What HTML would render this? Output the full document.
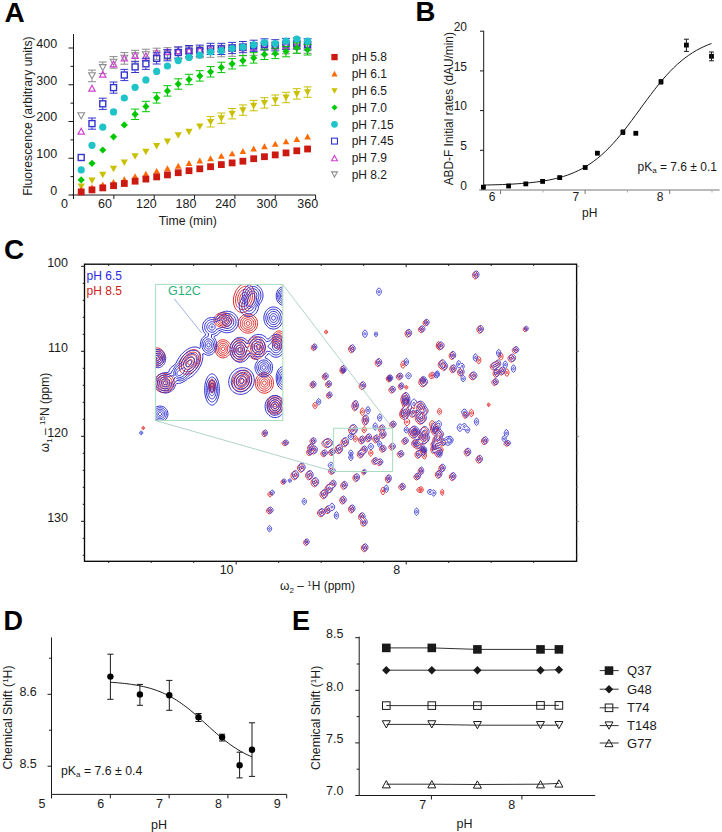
<!DOCTYPE html>
<html><head><meta charset="utf-8"><style>
html,body{margin:0;padding:0;background:#fff;}
body{width:722px;height:832px;overflow:hidden;}
svg{display:block;font-family:"Liberation Sans", sans-serif;}
</style></head><body>
<svg width="722" height="832" viewBox="0 0 722 832">
<text x="4.6" y="22.3" font-size="28" text-anchor="start" fill="#000" font-weight="bold">A</text>
<line x1="73.5" y1="34" x2="73.5" y2="199" stroke="#1a1a1a" stroke-width="1"/>
<line x1="72.5" y1="195" x2="315.7" y2="195" stroke="#1a1a1a" stroke-width="1"/>
<line x1="68.5" y1="195" x2="73.5" y2="195" stroke="#1a1a1a" stroke-width="1"/>
<text x="57.2" y="194.8" font-size="12.5" text-anchor="end" fill="#1a1a1a">0</text>
<line x1="70.5" y1="176.63" x2="73.5" y2="176.63" stroke="#1a1a1a" stroke-width="1"/>
<line x1="68.5" y1="158.25" x2="73.5" y2="158.25" stroke="#1a1a1a" stroke-width="1"/>
<text x="57.2" y="158.05" font-size="12.5" text-anchor="end" fill="#1a1a1a">100</text>
<line x1="70.5" y1="139.88" x2="73.5" y2="139.88" stroke="#1a1a1a" stroke-width="1"/>
<line x1="68.5" y1="121.5" x2="73.5" y2="121.5" stroke="#1a1a1a" stroke-width="1"/>
<text x="57.2" y="121.3" font-size="12.5" text-anchor="end" fill="#1a1a1a">200</text>
<line x1="70.5" y1="103.13" x2="73.5" y2="103.13" stroke="#1a1a1a" stroke-width="1"/>
<line x1="68.5" y1="84.75" x2="73.5" y2="84.75" stroke="#1a1a1a" stroke-width="1"/>
<text x="57.2" y="84.55" font-size="12.5" text-anchor="end" fill="#1a1a1a">300</text>
<line x1="70.5" y1="66.38" x2="73.5" y2="66.38" stroke="#1a1a1a" stroke-width="1"/>
<line x1="68.5" y1="48" x2="73.5" y2="48" stroke="#1a1a1a" stroke-width="1"/>
<text x="57.2" y="47.8" font-size="12.5" text-anchor="end" fill="#1a1a1a">400</text>
<text x="64.4" y="208" font-size="12.5" text-anchor="middle" fill="#1a1a1a">0</text>
<line x1="113.85" y1="195" x2="113.85" y2="199" stroke="#1a1a1a" stroke-width="1"/>
<text x="105" y="208" font-size="12.5" text-anchor="middle" fill="#1a1a1a">60</text>
<line x1="154.2" y1="195" x2="154.2" y2="199" stroke="#1a1a1a" stroke-width="1"/>
<text x="146.4" y="208" font-size="12.5" text-anchor="middle" fill="#1a1a1a">120</text>
<line x1="194.55" y1="195" x2="194.55" y2="199" stroke="#1a1a1a" stroke-width="1"/>
<text x="186" y="208" font-size="12.5" text-anchor="middle" fill="#1a1a1a">180</text>
<line x1="234.9" y1="195" x2="234.9" y2="199" stroke="#1a1a1a" stroke-width="1"/>
<text x="225.6" y="208" font-size="12.5" text-anchor="middle" fill="#1a1a1a">240</text>
<line x1="275.25" y1="195" x2="275.25" y2="199" stroke="#1a1a1a" stroke-width="1"/>
<text x="267" y="208" font-size="12.5" text-anchor="middle" fill="#1a1a1a">300</text>
<line x1="315.6" y1="195" x2="315.6" y2="199" stroke="#1a1a1a" stroke-width="1"/>
<text x="307.7" y="208" font-size="12.5" text-anchor="middle" fill="#1a1a1a">360</text>
<text x="187.8" y="224.6" font-size="12.3" text-anchor="middle" fill="#1a1a1a">Time (min)</text>
<text x="31.8" y="116" font-size="12.25" text-anchor="middle" fill="#1a1a1a" transform="rotate(-90 31.8 116)">Fluorescence (arbitrary units)</text>
<path d="M81.2 118.9L84.54 112.8L77.86 112.8Z" fill="none" stroke="#8c8c8c" stroke-width="1.1"/>
<line x1="91.98" y1="70.1" x2="91.98" y2="72.3" stroke="#8c8c8c" stroke-width="1"/>
<line x1="91.98" y1="79.5" x2="91.98" y2="81.7" stroke="#8c8c8c" stroke-width="1"/>
<line x1="87.98" y1="70.1" x2="95.98" y2="70.1" stroke="#8c8c8c" stroke-width="1"/>
<line x1="87.98" y1="81.7" x2="95.98" y2="81.7" stroke="#8c8c8c" stroke-width="1"/>
<path d="M91.98 78.8L95.32 72.7L88.64 72.7Z" fill="none" stroke="#8c8c8c" stroke-width="1.1"/>
<line x1="102.76" y1="62" x2="102.76" y2="64.2" stroke="#8c8c8c" stroke-width="1"/>
<line x1="102.76" y1="71.4" x2="102.76" y2="73.6" stroke="#8c8c8c" stroke-width="1"/>
<line x1="98.76" y1="62" x2="106.76" y2="62" stroke="#8c8c8c" stroke-width="1"/>
<line x1="98.76" y1="73.6" x2="106.76" y2="73.6" stroke="#8c8c8c" stroke-width="1"/>
<path d="M102.76 70.7L106.1 64.6L99.42 64.6Z" fill="none" stroke="#8c8c8c" stroke-width="1.1"/>
<line x1="113.54" y1="56.6" x2="113.54" y2="58.8" stroke="#8c8c8c" stroke-width="1"/>
<line x1="113.54" y1="66" x2="113.54" y2="68.2" stroke="#8c8c8c" stroke-width="1"/>
<line x1="109.54" y1="56.6" x2="117.54" y2="56.6" stroke="#8c8c8c" stroke-width="1"/>
<line x1="109.54" y1="68.2" x2="117.54" y2="68.2" stroke="#8c8c8c" stroke-width="1"/>
<path d="M113.54 65.3L116.88 59.2L110.2 59.2Z" fill="none" stroke="#8c8c8c" stroke-width="1.1"/>
<line x1="124.32" y1="52.6" x2="124.32" y2="54.8" stroke="#8c8c8c" stroke-width="1"/>
<line x1="124.32" y1="62" x2="124.32" y2="64.2" stroke="#8c8c8c" stroke-width="1"/>
<line x1="120.32" y1="52.6" x2="128.32" y2="52.6" stroke="#8c8c8c" stroke-width="1"/>
<line x1="120.32" y1="64.2" x2="128.32" y2="64.2" stroke="#8c8c8c" stroke-width="1"/>
<path d="M124.32 61.3L127.66 55.2L120.98 55.2Z" fill="none" stroke="#8c8c8c" stroke-width="1.1"/>
<line x1="135.1" y1="50.3" x2="135.1" y2="52.5" stroke="#8c8c8c" stroke-width="1"/>
<line x1="135.1" y1="59.7" x2="135.1" y2="61.9" stroke="#8c8c8c" stroke-width="1"/>
<line x1="131.1" y1="50.3" x2="139.1" y2="50.3" stroke="#8c8c8c" stroke-width="1"/>
<line x1="131.1" y1="61.9" x2="139.1" y2="61.9" stroke="#8c8c8c" stroke-width="1"/>
<path d="M135.1 59L138.44 52.9L131.76 52.9Z" fill="none" stroke="#8c8c8c" stroke-width="1.1"/>
<line x1="145.88" y1="49.2" x2="145.88" y2="51.4" stroke="#8c8c8c" stroke-width="1"/>
<line x1="145.88" y1="58.6" x2="145.88" y2="60.8" stroke="#8c8c8c" stroke-width="1"/>
<line x1="141.88" y1="49.2" x2="149.88" y2="49.2" stroke="#8c8c8c" stroke-width="1"/>
<line x1="141.88" y1="60.8" x2="149.88" y2="60.8" stroke="#8c8c8c" stroke-width="1"/>
<path d="M145.88 57.9L149.22 51.8L142.54 51.8Z" fill="none" stroke="#8c8c8c" stroke-width="1.1"/>
<line x1="156.66" y1="48.2" x2="156.66" y2="50.4" stroke="#8c8c8c" stroke-width="1"/>
<line x1="156.66" y1="57.6" x2="156.66" y2="59.8" stroke="#8c8c8c" stroke-width="1"/>
<line x1="152.66" y1="48.2" x2="160.66" y2="48.2" stroke="#8c8c8c" stroke-width="1"/>
<line x1="152.66" y1="59.8" x2="160.66" y2="59.8" stroke="#8c8c8c" stroke-width="1"/>
<path d="M156.66 56.9L160 50.8L153.32 50.8Z" fill="none" stroke="#8c8c8c" stroke-width="1.1"/>
<line x1="167.44" y1="47.7" x2="167.44" y2="49.9" stroke="#8c8c8c" stroke-width="1"/>
<line x1="167.44" y1="57.1" x2="167.44" y2="59.3" stroke="#8c8c8c" stroke-width="1"/>
<line x1="163.44" y1="47.7" x2="171.44" y2="47.7" stroke="#8c8c8c" stroke-width="1"/>
<line x1="163.44" y1="59.3" x2="171.44" y2="59.3" stroke="#8c8c8c" stroke-width="1"/>
<path d="M167.44 56.4L170.78 50.3L164.1 50.3Z" fill="none" stroke="#8c8c8c" stroke-width="1.1"/>
<line x1="178.22" y1="47.2" x2="178.22" y2="49.4" stroke="#8c8c8c" stroke-width="1"/>
<line x1="178.22" y1="56.6" x2="178.22" y2="58.8" stroke="#8c8c8c" stroke-width="1"/>
<line x1="174.22" y1="47.2" x2="182.22" y2="47.2" stroke="#8c8c8c" stroke-width="1"/>
<line x1="174.22" y1="58.8" x2="182.22" y2="58.8" stroke="#8c8c8c" stroke-width="1"/>
<path d="M178.22 55.9L181.56 49.8L174.88 49.8Z" fill="none" stroke="#8c8c8c" stroke-width="1.1"/>
<line x1="189" y1="46.7" x2="189" y2="48.9" stroke="#8c8c8c" stroke-width="1"/>
<line x1="189" y1="56.1" x2="189" y2="58.3" stroke="#8c8c8c" stroke-width="1"/>
<line x1="185" y1="46.7" x2="193" y2="46.7" stroke="#8c8c8c" stroke-width="1"/>
<line x1="185" y1="58.3" x2="193" y2="58.3" stroke="#8c8c8c" stroke-width="1"/>
<path d="M189 55.4L192.34 49.3L185.66 49.3Z" fill="none" stroke="#8c8c8c" stroke-width="1.1"/>
<line x1="199.78" y1="46.2" x2="199.78" y2="48.4" stroke="#8c8c8c" stroke-width="1"/>
<line x1="199.78" y1="55.6" x2="199.78" y2="57.8" stroke="#8c8c8c" stroke-width="1"/>
<line x1="195.78" y1="46.2" x2="203.78" y2="46.2" stroke="#8c8c8c" stroke-width="1"/>
<line x1="195.78" y1="57.8" x2="203.78" y2="57.8" stroke="#8c8c8c" stroke-width="1"/>
<path d="M199.78 54.9L203.12 48.8L196.44 48.8Z" fill="none" stroke="#8c8c8c" stroke-width="1.1"/>
<line x1="210.56" y1="45.7" x2="210.56" y2="47.9" stroke="#8c8c8c" stroke-width="1"/>
<line x1="210.56" y1="55.1" x2="210.56" y2="57.3" stroke="#8c8c8c" stroke-width="1"/>
<line x1="206.56" y1="45.7" x2="214.56" y2="45.7" stroke="#8c8c8c" stroke-width="1"/>
<line x1="206.56" y1="57.3" x2="214.56" y2="57.3" stroke="#8c8c8c" stroke-width="1"/>
<path d="M210.56 54.4L213.9 48.3L207.22 48.3Z" fill="none" stroke="#8c8c8c" stroke-width="1.1"/>
<line x1="221.34" y1="45.2" x2="221.34" y2="47.4" stroke="#8c8c8c" stroke-width="1"/>
<line x1="221.34" y1="54.6" x2="221.34" y2="56.8" stroke="#8c8c8c" stroke-width="1"/>
<line x1="217.34" y1="45.2" x2="225.34" y2="45.2" stroke="#8c8c8c" stroke-width="1"/>
<line x1="217.34" y1="56.8" x2="225.34" y2="56.8" stroke="#8c8c8c" stroke-width="1"/>
<path d="M221.34 53.9L224.68 47.8L218 47.8Z" fill="none" stroke="#8c8c8c" stroke-width="1.1"/>
<line x1="232.12" y1="44.7" x2="232.12" y2="46.9" stroke="#8c8c8c" stroke-width="1"/>
<line x1="232.12" y1="54.1" x2="232.12" y2="56.3" stroke="#8c8c8c" stroke-width="1"/>
<line x1="228.12" y1="44.7" x2="236.12" y2="44.7" stroke="#8c8c8c" stroke-width="1"/>
<line x1="228.12" y1="56.3" x2="236.12" y2="56.3" stroke="#8c8c8c" stroke-width="1"/>
<path d="M232.12 53.4L235.46 47.3L228.78 47.3Z" fill="none" stroke="#8c8c8c" stroke-width="1.1"/>
<line x1="242.9" y1="44.2" x2="242.9" y2="46.4" stroke="#8c8c8c" stroke-width="1"/>
<line x1="242.9" y1="53.6" x2="242.9" y2="55.8" stroke="#8c8c8c" stroke-width="1"/>
<line x1="238.9" y1="44.2" x2="246.9" y2="44.2" stroke="#8c8c8c" stroke-width="1"/>
<line x1="238.9" y1="55.8" x2="246.9" y2="55.8" stroke="#8c8c8c" stroke-width="1"/>
<path d="M242.9 52.9L246.24 46.8L239.56 46.8Z" fill="none" stroke="#8c8c8c" stroke-width="1.1"/>
<line x1="253.68" y1="43.7" x2="253.68" y2="45.9" stroke="#8c8c8c" stroke-width="1"/>
<line x1="253.68" y1="53.1" x2="253.68" y2="55.3" stroke="#8c8c8c" stroke-width="1"/>
<line x1="249.68" y1="43.7" x2="257.68" y2="43.7" stroke="#8c8c8c" stroke-width="1"/>
<line x1="249.68" y1="55.3" x2="257.68" y2="55.3" stroke="#8c8c8c" stroke-width="1"/>
<path d="M253.68 52.4L257.02 46.3L250.34 46.3Z" fill="none" stroke="#8c8c8c" stroke-width="1.1"/>
<line x1="264.46" y1="43.2" x2="264.46" y2="45.4" stroke="#8c8c8c" stroke-width="1"/>
<line x1="264.46" y1="52.6" x2="264.46" y2="54.8" stroke="#8c8c8c" stroke-width="1"/>
<line x1="260.46" y1="43.2" x2="268.46" y2="43.2" stroke="#8c8c8c" stroke-width="1"/>
<line x1="260.46" y1="54.8" x2="268.46" y2="54.8" stroke="#8c8c8c" stroke-width="1"/>
<path d="M264.46 51.9L267.8 45.8L261.12 45.8Z" fill="none" stroke="#8c8c8c" stroke-width="1.1"/>
<line x1="275.24" y1="42.7" x2="275.24" y2="44.9" stroke="#8c8c8c" stroke-width="1"/>
<line x1="275.24" y1="52.1" x2="275.24" y2="54.3" stroke="#8c8c8c" stroke-width="1"/>
<line x1="271.24" y1="42.7" x2="279.24" y2="42.7" stroke="#8c8c8c" stroke-width="1"/>
<line x1="271.24" y1="54.3" x2="279.24" y2="54.3" stroke="#8c8c8c" stroke-width="1"/>
<path d="M275.24 51.4L278.58 45.3L271.9 45.3Z" fill="none" stroke="#8c8c8c" stroke-width="1.1"/>
<line x1="286.02" y1="42.2" x2="286.02" y2="44.4" stroke="#8c8c8c" stroke-width="1"/>
<line x1="286.02" y1="51.6" x2="286.02" y2="53.8" stroke="#8c8c8c" stroke-width="1"/>
<line x1="282.02" y1="42.2" x2="290.02" y2="42.2" stroke="#8c8c8c" stroke-width="1"/>
<line x1="282.02" y1="53.8" x2="290.02" y2="53.8" stroke="#8c8c8c" stroke-width="1"/>
<path d="M286.02 50.9L289.36 44.8L282.68 44.8Z" fill="none" stroke="#8c8c8c" stroke-width="1.1"/>
<line x1="296.8" y1="41.7" x2="296.8" y2="43.9" stroke="#8c8c8c" stroke-width="1"/>
<line x1="296.8" y1="51.1" x2="296.8" y2="53.3" stroke="#8c8c8c" stroke-width="1"/>
<line x1="292.8" y1="41.7" x2="300.8" y2="41.7" stroke="#8c8c8c" stroke-width="1"/>
<line x1="292.8" y1="53.3" x2="300.8" y2="53.3" stroke="#8c8c8c" stroke-width="1"/>
<path d="M296.8 50.4L300.14 44.3L293.46 44.3Z" fill="none" stroke="#8c8c8c" stroke-width="1.1"/>
<line x1="307.58" y1="41.7" x2="307.58" y2="43.9" stroke="#8c8c8c" stroke-width="1"/>
<line x1="307.58" y1="51.1" x2="307.58" y2="53.3" stroke="#8c8c8c" stroke-width="1"/>
<line x1="303.58" y1="41.7" x2="311.58" y2="41.7" stroke="#8c8c8c" stroke-width="1"/>
<line x1="303.58" y1="53.3" x2="311.58" y2="53.3" stroke="#8c8c8c" stroke-width="1"/>
<path d="M307.58 50.4L310.92 44.3L304.24 44.3Z" fill="none" stroke="#8c8c8c" stroke-width="1.1"/>
<path d="M81.2 128.3L84.38 134.12L78.02 134.12Z" fill="none" stroke="#d040d0" stroke-width="1.2" stroke-linejoin="miter"/>
<path d="M91.98 85.3L95.16 91.12L88.8 91.12Z" fill="none" stroke="#d040d0" stroke-width="1.2" stroke-linejoin="miter"/>
<path d="M102.76 71.4L105.94 77.22L99.58 77.22Z" fill="none" stroke="#d040d0" stroke-width="1.2" stroke-linejoin="miter"/>
<path d="M113.54 61.1L116.72 66.92L110.36 66.92Z" fill="none" stroke="#d040d0" stroke-width="1.2" stroke-linejoin="miter"/>
<path d="M124.32 55.2L127.5 61.02L121.14 61.02Z" fill="none" stroke="#d040d0" stroke-width="1.2" stroke-linejoin="miter"/>
<path d="M135.1 52.5L138.28 58.32L131.92 58.32Z" fill="none" stroke="#d040d0" stroke-width="1.2" stroke-linejoin="miter"/>
<path d="M145.88 53L149.06 58.82L142.7 58.82Z" fill="none" stroke="#d040d0" stroke-width="1.2" stroke-linejoin="miter"/>
<path d="M156.66 49.8L159.84 55.62L153.48 55.62Z" fill="none" stroke="#d040d0" stroke-width="1.2" stroke-linejoin="miter"/>
<path d="M167.44 48.5L170.62 54.32L164.26 54.32Z" fill="none" stroke="#d040d0" stroke-width="1.2" stroke-linejoin="miter"/>
<path d="M178.22 47.8L181.4 53.62L175.04 53.62Z" fill="none" stroke="#d040d0" stroke-width="1.2" stroke-linejoin="miter"/>
<path d="M189 47.3L192.18 53.12L185.82 53.12Z" fill="none" stroke="#d040d0" stroke-width="1.2" stroke-linejoin="miter"/>
<path d="M199.78 46.8L202.96 52.62L196.6 52.62Z" fill="none" stroke="#d040d0" stroke-width="1.2" stroke-linejoin="miter"/>
<path d="M210.56 46.3L213.74 52.12L207.38 52.12Z" fill="none" stroke="#d040d0" stroke-width="1.2" stroke-linejoin="miter"/>
<path d="M221.34 45.8L224.52 51.62L218.16 51.62Z" fill="none" stroke="#d040d0" stroke-width="1.2" stroke-linejoin="miter"/>
<path d="M232.12 45.3L235.3 51.12L228.94 51.12Z" fill="none" stroke="#d040d0" stroke-width="1.2" stroke-linejoin="miter"/>
<path d="M242.9 44.8L246.08 50.62L239.72 50.62Z" fill="none" stroke="#d040d0" stroke-width="1.2" stroke-linejoin="miter"/>
<path d="M253.68 44.3L256.86 50.12L250.5 50.12Z" fill="none" stroke="#d040d0" stroke-width="1.2" stroke-linejoin="miter"/>
<path d="M264.46 43.8L267.64 49.62L261.28 49.62Z" fill="none" stroke="#d040d0" stroke-width="1.2" stroke-linejoin="miter"/>
<path d="M275.24 43.3L278.42 49.12L272.06 49.12Z" fill="none" stroke="#d040d0" stroke-width="1.2" stroke-linejoin="miter"/>
<path d="M286.02 42.8L289.2 48.62L282.84 48.62Z" fill="none" stroke="#d040d0" stroke-width="1.2" stroke-linejoin="miter"/>
<path d="M296.8 42.3L299.98 48.12L293.62 48.12Z" fill="none" stroke="#d040d0" stroke-width="1.2" stroke-linejoin="miter"/>
<path d="M307.58 42.3L310.76 48.12L304.4 48.12Z" fill="none" stroke="#d040d0" stroke-width="1.2" stroke-linejoin="miter"/>
<rect x="78.2" y="154.5" width="6" height="6" fill="none" stroke="#3434d0" stroke-width="1.4"/>
<line x1="91.98" y1="118" x2="91.98" y2="120" stroke="#3434d0" stroke-width="1"/>
<line x1="91.98" y1="127.2" x2="91.98" y2="129.2" stroke="#3434d0" stroke-width="1"/>
<line x1="87.98" y1="118" x2="95.98" y2="118" stroke="#3434d0" stroke-width="1"/>
<line x1="87.98" y1="129.2" x2="95.98" y2="129.2" stroke="#3434d0" stroke-width="1"/>
<rect x="88.98" y="120.6" width="6" height="6" fill="none" stroke="#3434d0" stroke-width="1.4"/>
<line x1="102.76" y1="98.2" x2="102.76" y2="100.2" stroke="#3434d0" stroke-width="1"/>
<line x1="102.76" y1="107.4" x2="102.76" y2="109.4" stroke="#3434d0" stroke-width="1"/>
<line x1="98.76" y1="98.2" x2="106.76" y2="98.2" stroke="#3434d0" stroke-width="1"/>
<line x1="98.76" y1="109.4" x2="106.76" y2="109.4" stroke="#3434d0" stroke-width="1"/>
<rect x="99.76" y="100.8" width="6" height="6" fill="none" stroke="#3434d0" stroke-width="1.4"/>
<line x1="113.54" y1="82" x2="113.54" y2="84" stroke="#3434d0" stroke-width="1"/>
<line x1="113.54" y1="91.2" x2="113.54" y2="93.2" stroke="#3434d0" stroke-width="1"/>
<line x1="109.54" y1="82" x2="117.54" y2="82" stroke="#3434d0" stroke-width="1"/>
<line x1="109.54" y1="93.2" x2="117.54" y2="93.2" stroke="#3434d0" stroke-width="1"/>
<rect x="110.54" y="84.6" width="6" height="6" fill="none" stroke="#3434d0" stroke-width="1.4"/>
<line x1="124.32" y1="69.4" x2="124.32" y2="71.4" stroke="#3434d0" stroke-width="1"/>
<line x1="124.32" y1="78.6" x2="124.32" y2="80.6" stroke="#3434d0" stroke-width="1"/>
<line x1="120.32" y1="69.4" x2="128.32" y2="69.4" stroke="#3434d0" stroke-width="1"/>
<line x1="120.32" y1="80.6" x2="128.32" y2="80.6" stroke="#3434d0" stroke-width="1"/>
<rect x="121.32" y="72" width="6" height="6" fill="none" stroke="#3434d0" stroke-width="1.4"/>
<line x1="135.1" y1="61.3" x2="135.1" y2="63.3" stroke="#3434d0" stroke-width="1"/>
<line x1="135.1" y1="70.5" x2="135.1" y2="72.5" stroke="#3434d0" stroke-width="1"/>
<line x1="131.1" y1="61.3" x2="139.1" y2="61.3" stroke="#3434d0" stroke-width="1"/>
<line x1="131.1" y1="72.5" x2="139.1" y2="72.5" stroke="#3434d0" stroke-width="1"/>
<rect x="132.1" y="63.9" width="6" height="6" fill="none" stroke="#3434d0" stroke-width="1.4"/>
<line x1="145.88" y1="58.2" x2="145.88" y2="60.2" stroke="#3434d0" stroke-width="1"/>
<line x1="145.88" y1="67.4" x2="145.88" y2="69.4" stroke="#3434d0" stroke-width="1"/>
<line x1="141.88" y1="58.2" x2="149.88" y2="58.2" stroke="#3434d0" stroke-width="1"/>
<line x1="141.88" y1="69.4" x2="149.88" y2="69.4" stroke="#3434d0" stroke-width="1"/>
<rect x="142.88" y="60.8" width="6" height="6" fill="none" stroke="#3434d0" stroke-width="1.4"/>
<line x1="156.66" y1="52.8" x2="156.66" y2="54.8" stroke="#3434d0" stroke-width="1"/>
<line x1="156.66" y1="62" x2="156.66" y2="64" stroke="#3434d0" stroke-width="1"/>
<line x1="152.66" y1="52.8" x2="160.66" y2="52.8" stroke="#3434d0" stroke-width="1"/>
<line x1="152.66" y1="64" x2="160.66" y2="64" stroke="#3434d0" stroke-width="1"/>
<rect x="153.66" y="55.4" width="6" height="6" fill="none" stroke="#3434d0" stroke-width="1.4"/>
<line x1="167.44" y1="49.6" x2="167.44" y2="51.6" stroke="#3434d0" stroke-width="1"/>
<line x1="167.44" y1="58.8" x2="167.44" y2="60.8" stroke="#3434d0" stroke-width="1"/>
<line x1="163.44" y1="49.6" x2="171.44" y2="49.6" stroke="#3434d0" stroke-width="1"/>
<line x1="163.44" y1="60.8" x2="171.44" y2="60.8" stroke="#3434d0" stroke-width="1"/>
<rect x="164.44" y="52.2" width="6" height="6" fill="none" stroke="#3434d0" stroke-width="1.4"/>
<line x1="178.22" y1="46.9" x2="178.22" y2="48.9" stroke="#3434d0" stroke-width="1"/>
<line x1="178.22" y1="56.1" x2="178.22" y2="58.1" stroke="#3434d0" stroke-width="1"/>
<line x1="174.22" y1="46.9" x2="182.22" y2="46.9" stroke="#3434d0" stroke-width="1"/>
<line x1="174.22" y1="58.1" x2="182.22" y2="58.1" stroke="#3434d0" stroke-width="1"/>
<rect x="175.22" y="49.5" width="6" height="6" fill="none" stroke="#3434d0" stroke-width="1.4"/>
<line x1="189" y1="45.5" x2="189" y2="47.5" stroke="#3434d0" stroke-width="1"/>
<line x1="189" y1="54.7" x2="189" y2="56.7" stroke="#3434d0" stroke-width="1"/>
<line x1="185" y1="45.5" x2="193" y2="45.5" stroke="#3434d0" stroke-width="1"/>
<line x1="185" y1="56.7" x2="193" y2="56.7" stroke="#3434d0" stroke-width="1"/>
<rect x="186" y="48.1" width="6" height="6" fill="none" stroke="#3434d0" stroke-width="1.4"/>
<line x1="199.78" y1="45.1" x2="199.78" y2="47.1" stroke="#3434d0" stroke-width="1"/>
<line x1="199.78" y1="54.3" x2="199.78" y2="56.3" stroke="#3434d0" stroke-width="1"/>
<line x1="195.78" y1="45.1" x2="203.78" y2="45.1" stroke="#3434d0" stroke-width="1"/>
<line x1="195.78" y1="56.3" x2="203.78" y2="56.3" stroke="#3434d0" stroke-width="1"/>
<rect x="196.78" y="47.7" width="6" height="6" fill="none" stroke="#3434d0" stroke-width="1.4"/>
<line x1="210.56" y1="43.3" x2="210.56" y2="45.3" stroke="#3434d0" stroke-width="1"/>
<line x1="210.56" y1="52.5" x2="210.56" y2="54.5" stroke="#3434d0" stroke-width="1"/>
<line x1="206.56" y1="43.3" x2="214.56" y2="43.3" stroke="#3434d0" stroke-width="1"/>
<line x1="206.56" y1="54.5" x2="214.56" y2="54.5" stroke="#3434d0" stroke-width="1"/>
<rect x="207.56" y="45.9" width="6" height="6" fill="none" stroke="#3434d0" stroke-width="1.4"/>
<line x1="221.34" y1="43.3" x2="221.34" y2="45.3" stroke="#3434d0" stroke-width="1"/>
<line x1="221.34" y1="52.5" x2="221.34" y2="54.5" stroke="#3434d0" stroke-width="1"/>
<line x1="217.34" y1="43.3" x2="225.34" y2="43.3" stroke="#3434d0" stroke-width="1"/>
<line x1="217.34" y1="54.5" x2="225.34" y2="54.5" stroke="#3434d0" stroke-width="1"/>
<rect x="218.34" y="45.9" width="6" height="6" fill="none" stroke="#3434d0" stroke-width="1.4"/>
<line x1="232.12" y1="42.4" x2="232.12" y2="44.4" stroke="#3434d0" stroke-width="1"/>
<line x1="232.12" y1="51.6" x2="232.12" y2="53.6" stroke="#3434d0" stroke-width="1"/>
<line x1="228.12" y1="42.4" x2="236.12" y2="42.4" stroke="#3434d0" stroke-width="1"/>
<line x1="228.12" y1="53.6" x2="236.12" y2="53.6" stroke="#3434d0" stroke-width="1"/>
<rect x="229.12" y="45" width="6" height="6" fill="none" stroke="#3434d0" stroke-width="1.4"/>
<line x1="242.9" y1="41.5" x2="242.9" y2="43.5" stroke="#3434d0" stroke-width="1"/>
<line x1="242.9" y1="50.7" x2="242.9" y2="52.7" stroke="#3434d0" stroke-width="1"/>
<line x1="238.9" y1="41.5" x2="246.9" y2="41.5" stroke="#3434d0" stroke-width="1"/>
<line x1="238.9" y1="52.7" x2="246.9" y2="52.7" stroke="#3434d0" stroke-width="1"/>
<rect x="239.9" y="44.1" width="6" height="6" fill="none" stroke="#3434d0" stroke-width="1.4"/>
<line x1="253.68" y1="40.2" x2="253.68" y2="42.2" stroke="#3434d0" stroke-width="1"/>
<line x1="253.68" y1="49.4" x2="253.68" y2="51.4" stroke="#3434d0" stroke-width="1"/>
<line x1="249.68" y1="40.2" x2="257.68" y2="40.2" stroke="#3434d0" stroke-width="1"/>
<line x1="249.68" y1="51.4" x2="257.68" y2="51.4" stroke="#3434d0" stroke-width="1"/>
<rect x="250.68" y="42.8" width="6" height="6" fill="none" stroke="#3434d0" stroke-width="1.4"/>
<line x1="264.46" y1="38.8" x2="264.46" y2="40.8" stroke="#3434d0" stroke-width="1"/>
<line x1="264.46" y1="48" x2="264.46" y2="50" stroke="#3434d0" stroke-width="1"/>
<line x1="260.46" y1="38.8" x2="268.46" y2="38.8" stroke="#3434d0" stroke-width="1"/>
<line x1="260.46" y1="50" x2="268.46" y2="50" stroke="#3434d0" stroke-width="1"/>
<rect x="261.46" y="41.4" width="6" height="6" fill="none" stroke="#3434d0" stroke-width="1.4"/>
<line x1="275.24" y1="39.7" x2="275.24" y2="41.7" stroke="#3434d0" stroke-width="1"/>
<line x1="275.24" y1="48.9" x2="275.24" y2="50.9" stroke="#3434d0" stroke-width="1"/>
<line x1="271.24" y1="39.7" x2="279.24" y2="39.7" stroke="#3434d0" stroke-width="1"/>
<line x1="271.24" y1="50.9" x2="279.24" y2="50.9" stroke="#3434d0" stroke-width="1"/>
<rect x="272.24" y="42.3" width="6" height="6" fill="none" stroke="#3434d0" stroke-width="1.4"/>
<line x1="286.02" y1="38.4" x2="286.02" y2="40.4" stroke="#3434d0" stroke-width="1"/>
<line x1="286.02" y1="47.6" x2="286.02" y2="49.6" stroke="#3434d0" stroke-width="1"/>
<line x1="282.02" y1="38.4" x2="290.02" y2="38.4" stroke="#3434d0" stroke-width="1"/>
<line x1="282.02" y1="49.6" x2="290.02" y2="49.6" stroke="#3434d0" stroke-width="1"/>
<rect x="283.02" y="41" width="6" height="6" fill="none" stroke="#3434d0" stroke-width="1.4"/>
<line x1="296.8" y1="37.9" x2="296.8" y2="39.9" stroke="#3434d0" stroke-width="1"/>
<line x1="296.8" y1="47.1" x2="296.8" y2="49.1" stroke="#3434d0" stroke-width="1"/>
<line x1="292.8" y1="37.9" x2="300.8" y2="37.9" stroke="#3434d0" stroke-width="1"/>
<line x1="292.8" y1="49.1" x2="300.8" y2="49.1" stroke="#3434d0" stroke-width="1"/>
<rect x="293.8" y="40.5" width="6" height="6" fill="none" stroke="#3434d0" stroke-width="1.4"/>
<line x1="307.58" y1="38.8" x2="307.58" y2="40.8" stroke="#3434d0" stroke-width="1"/>
<line x1="307.58" y1="48" x2="307.58" y2="50" stroke="#3434d0" stroke-width="1"/>
<line x1="303.58" y1="38.8" x2="311.58" y2="38.8" stroke="#3434d0" stroke-width="1"/>
<line x1="303.58" y1="50" x2="311.58" y2="50" stroke="#3434d0" stroke-width="1"/>
<rect x="304.58" y="41.4" width="6" height="6" fill="none" stroke="#3434d0" stroke-width="1.4"/>
<path d="M81.2 176.3L84.8 179.9L81.2 183.5L77.6 179.9Z" fill="#00c800"/>
<path d="M91.98 159.7L95.58 163.3L91.98 166.9L88.38 163.3Z" fill="#00c800"/>
<path d="M102.76 146.4L106.36 150L102.76 153.6L99.16 150Z" fill="#00c800"/>
<path d="M113.54 133.2L117.14 136.8L113.54 140.4L109.94 136.8Z" fill="#00c800"/>
<path d="M124.32 121.3L127.92 124.9L124.32 128.5L120.72 124.9Z" fill="#00c800"/>
<line x1="135.1" y1="109.1" x2="135.1" y2="119.5" stroke="#00c800" stroke-width="1"/>
<line x1="131.1" y1="109.1" x2="139.1" y2="109.1" stroke="#00c800" stroke-width="1"/>
<line x1="131.1" y1="119.5" x2="139.1" y2="119.5" stroke="#00c800" stroke-width="1"/>
<path d="M135.1 110.7L138.7 114.3L135.1 117.9L131.5 114.3Z" fill="#00c800"/>
<line x1="145.88" y1="101.3" x2="145.88" y2="111.7" stroke="#00c800" stroke-width="1"/>
<line x1="141.88" y1="101.3" x2="149.88" y2="101.3" stroke="#00c800" stroke-width="1"/>
<line x1="141.88" y1="111.7" x2="149.88" y2="111.7" stroke="#00c800" stroke-width="1"/>
<path d="M145.88 102.9L149.48 106.5L145.88 110.1L142.28 106.5Z" fill="#00c800"/>
<line x1="156.66" y1="92.7" x2="156.66" y2="103.1" stroke="#00c800" stroke-width="1"/>
<line x1="152.66" y1="92.7" x2="160.66" y2="92.7" stroke="#00c800" stroke-width="1"/>
<line x1="152.66" y1="103.1" x2="160.66" y2="103.1" stroke="#00c800" stroke-width="1"/>
<path d="M156.66 94.3L160.26 97.9L156.66 101.5L153.06 97.9Z" fill="#00c800"/>
<line x1="167.44" y1="85.7" x2="167.44" y2="96.1" stroke="#00c800" stroke-width="1"/>
<line x1="163.44" y1="85.7" x2="171.44" y2="85.7" stroke="#00c800" stroke-width="1"/>
<line x1="163.44" y1="96.1" x2="171.44" y2="96.1" stroke="#00c800" stroke-width="1"/>
<path d="M167.44 87.3L171.04 90.9L167.44 94.5L163.84 90.9Z" fill="#00c800"/>
<line x1="178.22" y1="78.8" x2="178.22" y2="89.2" stroke="#00c800" stroke-width="1"/>
<line x1="174.22" y1="78.8" x2="182.22" y2="78.8" stroke="#00c800" stroke-width="1"/>
<line x1="174.22" y1="89.2" x2="182.22" y2="89.2" stroke="#00c800" stroke-width="1"/>
<path d="M178.22 80.4L181.82 84L178.22 87.6L174.62 84Z" fill="#00c800"/>
<line x1="189" y1="74.3" x2="189" y2="84.7" stroke="#00c800" stroke-width="1"/>
<line x1="185" y1="74.3" x2="193" y2="74.3" stroke="#00c800" stroke-width="1"/>
<line x1="185" y1="84.7" x2="193" y2="84.7" stroke="#00c800" stroke-width="1"/>
<path d="M189 75.9L192.6 79.5L189 83.1L185.4 79.5Z" fill="#00c800"/>
<line x1="199.78" y1="70.7" x2="199.78" y2="81.1" stroke="#00c800" stroke-width="1"/>
<line x1="195.78" y1="70.7" x2="203.78" y2="70.7" stroke="#00c800" stroke-width="1"/>
<line x1="195.78" y1="81.1" x2="203.78" y2="81.1" stroke="#00c800" stroke-width="1"/>
<path d="M199.78 72.3L203.38 75.9L199.78 79.5L196.18 75.9Z" fill="#00c800"/>
<line x1="210.56" y1="66.6" x2="210.56" y2="77" stroke="#00c800" stroke-width="1"/>
<line x1="206.56" y1="66.6" x2="214.56" y2="66.6" stroke="#00c800" stroke-width="1"/>
<line x1="206.56" y1="77" x2="214.56" y2="77" stroke="#00c800" stroke-width="1"/>
<path d="M210.56 68.2L214.16 71.8L210.56 75.4L206.96 71.8Z" fill="#00c800"/>
<line x1="221.34" y1="62.2" x2="221.34" y2="72.6" stroke="#00c800" stroke-width="1"/>
<line x1="217.34" y1="62.2" x2="225.34" y2="62.2" stroke="#00c800" stroke-width="1"/>
<line x1="217.34" y1="72.6" x2="225.34" y2="72.6" stroke="#00c800" stroke-width="1"/>
<path d="M221.34 63.8L224.94 67.4L221.34 71L217.74 67.4Z" fill="#00c800"/>
<line x1="232.12" y1="58.6" x2="232.12" y2="69" stroke="#00c800" stroke-width="1"/>
<line x1="228.12" y1="58.6" x2="236.12" y2="58.6" stroke="#00c800" stroke-width="1"/>
<line x1="228.12" y1="69" x2="236.12" y2="69" stroke="#00c800" stroke-width="1"/>
<path d="M232.12 60.2L235.72 63.8L232.12 67.4L228.52 63.8Z" fill="#00c800"/>
<line x1="242.9" y1="55.4" x2="242.9" y2="65.8" stroke="#00c800" stroke-width="1"/>
<line x1="238.9" y1="55.4" x2="246.9" y2="55.4" stroke="#00c800" stroke-width="1"/>
<line x1="238.9" y1="65.8" x2="246.9" y2="65.8" stroke="#00c800" stroke-width="1"/>
<path d="M242.9 57L246.5 60.6L242.9 64.2L239.3 60.6Z" fill="#00c800"/>
<line x1="253.68" y1="52.7" x2="253.68" y2="63.1" stroke="#00c800" stroke-width="1"/>
<line x1="249.68" y1="52.7" x2="257.68" y2="52.7" stroke="#00c800" stroke-width="1"/>
<line x1="249.68" y1="63.1" x2="257.68" y2="63.1" stroke="#00c800" stroke-width="1"/>
<path d="M253.68 54.3L257.28 57.9L253.68 61.5L250.08 57.9Z" fill="#00c800"/>
<line x1="264.46" y1="49.1" x2="264.46" y2="59.5" stroke="#00c800" stroke-width="1"/>
<line x1="260.46" y1="49.1" x2="268.46" y2="49.1" stroke="#00c800" stroke-width="1"/>
<line x1="260.46" y1="59.5" x2="268.46" y2="59.5" stroke="#00c800" stroke-width="1"/>
<path d="M264.46 50.7L268.06 54.3L264.46 57.9L260.86 54.3Z" fill="#00c800"/>
<line x1="275.24" y1="48.2" x2="275.24" y2="58.6" stroke="#00c800" stroke-width="1"/>
<line x1="271.24" y1="48.2" x2="279.24" y2="48.2" stroke="#00c800" stroke-width="1"/>
<line x1="271.24" y1="58.6" x2="279.24" y2="58.6" stroke="#00c800" stroke-width="1"/>
<path d="M275.24 49.8L278.84 53.4L275.24 57L271.64 53.4Z" fill="#00c800"/>
<line x1="286.02" y1="46.4" x2="286.02" y2="56.8" stroke="#00c800" stroke-width="1"/>
<line x1="282.02" y1="46.4" x2="290.02" y2="46.4" stroke="#00c800" stroke-width="1"/>
<line x1="282.02" y1="56.8" x2="290.02" y2="56.8" stroke="#00c800" stroke-width="1"/>
<path d="M286.02 48L289.62 51.6L286.02 55.2L282.42 51.6Z" fill="#00c800"/>
<line x1="296.8" y1="42.8" x2="296.8" y2="53.2" stroke="#00c800" stroke-width="1"/>
<line x1="292.8" y1="42.8" x2="300.8" y2="42.8" stroke="#00c800" stroke-width="1"/>
<line x1="292.8" y1="53.2" x2="300.8" y2="53.2" stroke="#00c800" stroke-width="1"/>
<path d="M296.8 44.4L300.4 48L296.8 51.6L293.2 48Z" fill="#00c800"/>
<line x1="307.58" y1="44.6" x2="307.58" y2="55" stroke="#00c800" stroke-width="1"/>
<line x1="303.58" y1="44.6" x2="311.58" y2="44.6" stroke="#00c800" stroke-width="1"/>
<line x1="303.58" y1="55" x2="311.58" y2="55" stroke="#00c800" stroke-width="1"/>
<path d="M307.58 46.2L311.18 49.8L307.58 53.4L303.98 49.8Z" fill="#00c800"/>
<circle cx="81.2" cy="169.9" r="3.6" fill="#1ec4c8"/>
<circle cx="91.98" cy="145.3" r="3.6" fill="#1ec4c8"/>
<circle cx="102.76" cy="127.2" r="3.6" fill="#1ec4c8"/>
<circle cx="113.54" cy="111.9" r="3.6" fill="#1ec4c8"/>
<circle cx="124.32" cy="98" r="3.6" fill="#1ec4c8"/>
<circle cx="135.1" cy="87.3" r="3.6" fill="#1ec4c8"/>
<circle cx="145.88" cy="79.9" r="3.6" fill="#1ec4c8"/>
<circle cx="156.66" cy="71.4" r="3.6" fill="#1ec4c8"/>
<circle cx="167.44" cy="66" r="3.6" fill="#1ec4c8"/>
<circle cx="178.22" cy="60.6" r="3.6" fill="#1ec4c8"/>
<circle cx="189" cy="57.4" r="3.6" fill="#1ec4c8"/>
<circle cx="199.78" cy="55.2" r="3.6" fill="#1ec4c8"/>
<circle cx="210.56" cy="52" r="3.6" fill="#1ec4c8"/>
<circle cx="221.34" cy="50.7" r="3.6" fill="#1ec4c8"/>
<circle cx="232.12" cy="48.5" r="3.6" fill="#1ec4c8"/>
<circle cx="242.9" cy="47.1" r="3.6" fill="#1ec4c8"/>
<circle cx="253.68" cy="44.8" r="3.6" fill="#1ec4c8"/>
<circle cx="264.46" cy="42.6" r="3.6" fill="#1ec4c8"/>
<circle cx="275.24" cy="43.5" r="3.6" fill="#1ec4c8"/>
<circle cx="286.02" cy="41.2" r="3.6" fill="#1ec4c8"/>
<circle cx="296.8" cy="39" r="3.6" fill="#1ec4c8"/>
<circle cx="307.58" cy="41.2" r="3.6" fill="#1ec4c8"/>
<path d="M81.2 190.1L84.8 183.62L77.6 183.62Z" fill="#c8c000"/>
<path d="M91.98 184L95.58 177.52L88.38 177.52Z" fill="#c8c000"/>
<path d="M102.76 178.2L106.36 171.72L99.16 171.72Z" fill="#c8c000"/>
<path d="M113.54 172.2L117.14 165.72L109.94 165.72Z" fill="#c8c000"/>
<path d="M124.32 166L127.92 159.52L120.72 159.52Z" fill="#c8c000"/>
<path d="M135.1 159.7L138.7 153.22L131.5 153.22Z" fill="#c8c000"/>
<path d="M145.88 155.2L149.48 148.72L142.28 148.72Z" fill="#c8c000"/>
<path d="M156.66 149.4L160.26 142.92L153.06 142.92Z" fill="#c8c000"/>
<path d="M167.44 144.9L171.04 138.42L163.84 138.42Z" fill="#c8c000"/>
<path d="M178.22 138.8L181.82 132.32L174.62 132.32Z" fill="#c8c000"/>
<path d="M189 135.3L192.6 128.82L185.4 128.82Z" fill="#c8c000"/>
<path d="M199.78 129.9L203.38 123.42L196.18 123.42Z" fill="#c8c000"/>
<line x1="210.56" y1="116.6" x2="210.56" y2="127" stroke="#c8c000" stroke-width="1"/>
<line x1="206.56" y1="116.6" x2="214.56" y2="116.6" stroke="#c8c000" stroke-width="1"/>
<line x1="206.56" y1="127" x2="214.56" y2="127" stroke="#c8c000" stroke-width="1"/>
<path d="M210.56 125.4L214.16 118.92L206.96 118.92Z" fill="#c8c000"/>
<line x1="221.34" y1="113" x2="221.34" y2="123.4" stroke="#c8c000" stroke-width="1"/>
<line x1="217.34" y1="113" x2="225.34" y2="113" stroke="#c8c000" stroke-width="1"/>
<line x1="217.34" y1="123.4" x2="225.34" y2="123.4" stroke="#c8c000" stroke-width="1"/>
<path d="M221.34 121.8L224.94 115.32L217.74 115.32Z" fill="#c8c000"/>
<line x1="232.12" y1="108.5" x2="232.12" y2="118.9" stroke="#c8c000" stroke-width="1"/>
<line x1="228.12" y1="108.5" x2="236.12" y2="108.5" stroke="#c8c000" stroke-width="1"/>
<line x1="228.12" y1="118.9" x2="236.12" y2="118.9" stroke="#c8c000" stroke-width="1"/>
<path d="M232.12 117.3L235.72 110.82L228.52 110.82Z" fill="#c8c000"/>
<line x1="242.9" y1="104.9" x2="242.9" y2="115.3" stroke="#c8c000" stroke-width="1"/>
<line x1="238.9" y1="104.9" x2="246.9" y2="104.9" stroke="#c8c000" stroke-width="1"/>
<line x1="238.9" y1="115.3" x2="246.9" y2="115.3" stroke="#c8c000" stroke-width="1"/>
<path d="M242.9 113.7L246.5 107.22L239.3 107.22Z" fill="#c8c000"/>
<line x1="253.68" y1="100.4" x2="253.68" y2="110.8" stroke="#c8c000" stroke-width="1"/>
<line x1="249.68" y1="100.4" x2="257.68" y2="100.4" stroke="#c8c000" stroke-width="1"/>
<line x1="249.68" y1="110.8" x2="257.68" y2="110.8" stroke="#c8c000" stroke-width="1"/>
<path d="M253.68 109.2L257.28 102.72L250.08 102.72Z" fill="#c8c000"/>
<line x1="264.46" y1="97.7" x2="264.46" y2="108.1" stroke="#c8c000" stroke-width="1"/>
<line x1="260.46" y1="97.7" x2="268.46" y2="97.7" stroke="#c8c000" stroke-width="1"/>
<line x1="260.46" y1="108.1" x2="268.46" y2="108.1" stroke="#c8c000" stroke-width="1"/>
<path d="M264.46 106.5L268.06 100.02L260.86 100.02Z" fill="#c8c000"/>
<line x1="275.24" y1="95" x2="275.24" y2="105.4" stroke="#c8c000" stroke-width="1"/>
<line x1="271.24" y1="95" x2="279.24" y2="95" stroke="#c8c000" stroke-width="1"/>
<line x1="271.24" y1="105.4" x2="279.24" y2="105.4" stroke="#c8c000" stroke-width="1"/>
<path d="M275.24 103.8L278.84 97.32L271.64 97.32Z" fill="#c8c000"/>
<line x1="286.02" y1="92.3" x2="286.02" y2="102.7" stroke="#c8c000" stroke-width="1"/>
<line x1="282.02" y1="92.3" x2="290.02" y2="92.3" stroke="#c8c000" stroke-width="1"/>
<line x1="282.02" y1="102.7" x2="290.02" y2="102.7" stroke="#c8c000" stroke-width="1"/>
<path d="M286.02 101.1L289.62 94.62L282.42 94.62Z" fill="#c8c000"/>
<line x1="296.8" y1="88.7" x2="296.8" y2="99.1" stroke="#c8c000" stroke-width="1"/>
<line x1="292.8" y1="88.7" x2="300.8" y2="88.7" stroke="#c8c000" stroke-width="1"/>
<line x1="292.8" y1="99.1" x2="300.8" y2="99.1" stroke="#c8c000" stroke-width="1"/>
<path d="M296.8 97.5L300.4 91.02L293.2 91.02Z" fill="#c8c000"/>
<line x1="307.58" y1="86.9" x2="307.58" y2="97.3" stroke="#c8c000" stroke-width="1"/>
<line x1="303.58" y1="86.9" x2="311.58" y2="86.9" stroke="#c8c000" stroke-width="1"/>
<line x1="303.58" y1="97.3" x2="311.58" y2="97.3" stroke="#c8c000" stroke-width="1"/>
<path d="M307.58 95.7L311.18 89.22L303.98 89.22Z" fill="#c8c000"/>
<path d="M81.2 186.2L84.5 192.14L77.9 192.14Z" fill="#ff6a00"/>
<path d="M91.98 184.2L95.28 190.14L88.68 190.14Z" fill="#ff6a00"/>
<path d="M102.76 181.6L106.06 187.54L99.46 187.54Z" fill="#ff6a00"/>
<path d="M113.54 179.1L116.84 185.04L110.24 185.04Z" fill="#ff6a00"/>
<path d="M124.32 176.3L127.62 182.24L121.02 182.24Z" fill="#ff6a00"/>
<path d="M135.1 173.3L138.4 179.24L131.8 179.24Z" fill="#ff6a00"/>
<path d="M145.88 170.8L149.18 176.74L142.58 176.74Z" fill="#ff6a00"/>
<path d="M156.66 167.9L159.96 173.84L153.36 173.84Z" fill="#ff6a00"/>
<path d="M167.44 165.3L170.74 171.24L164.14 171.24Z" fill="#ff6a00"/>
<path d="M178.22 162.8L181.52 168.74L174.92 168.74Z" fill="#ff6a00"/>
<path d="M189 160L192.3 165.94L185.7 165.94Z" fill="#ff6a00"/>
<path d="M199.78 157.6L203.08 163.54L196.48 163.54Z" fill="#ff6a00"/>
<path d="M210.56 155.2L213.86 161.14L207.26 161.14Z" fill="#ff6a00"/>
<path d="M221.34 152.8L224.64 158.74L218.04 158.74Z" fill="#ff6a00"/>
<path d="M232.12 150.4L235.42 156.34L228.82 156.34Z" fill="#ff6a00"/>
<path d="M242.9 148L246.2 153.94L239.6 153.94Z" fill="#ff6a00"/>
<path d="M253.68 145.6L256.98 151.54L250.38 151.54Z" fill="#ff6a00"/>
<path d="M264.46 143.2L267.76 149.14L261.16 149.14Z" fill="#ff6a00"/>
<path d="M275.24 140.8L278.54 146.74L271.94 146.74Z" fill="#ff6a00"/>
<path d="M286.02 138.4L289.32 144.34L282.72 144.34Z" fill="#ff6a00"/>
<path d="M296.8 136L300.1 141.94L293.5 141.94Z" fill="#ff6a00"/>
<path d="M307.58 133.6L310.88 139.54L304.28 139.54Z" fill="#ff6a00"/>
<rect x="77.8" y="188.5" width="6.8" height="6.8" fill="#cc1a12"/>
<rect x="88.58" y="186.5" width="6.8" height="6.8" fill="#cc1a12"/>
<rect x="99.36" y="184.5" width="6.8" height="6.8" fill="#cc1a12"/>
<rect x="110.14" y="182.3" width="6.8" height="6.8" fill="#cc1a12"/>
<rect x="120.92" y="180.1" width="6.8" height="6.8" fill="#cc1a12"/>
<rect x="131.7" y="177.8" width="6.8" height="6.8" fill="#cc1a12"/>
<rect x="142.48" y="175.7" width="6.8" height="6.8" fill="#cc1a12"/>
<rect x="153.26" y="173.5" width="6.8" height="6.8" fill="#cc1a12"/>
<rect x="164.04" y="171.5" width="6.8" height="6.8" fill="#cc1a12"/>
<rect x="174.82" y="169.3" width="6.8" height="6.8" fill="#cc1a12"/>
<rect x="185.6" y="167.3" width="6.8" height="6.8" fill="#cc1a12"/>
<rect x="196.38" y="165.4" width="6.8" height="6.8" fill="#cc1a12"/>
<rect x="207.16" y="163.3" width="6.8" height="6.8" fill="#cc1a12"/>
<rect x="217.94" y="161.2" width="6.8" height="6.8" fill="#cc1a12"/>
<rect x="228.72" y="159.5" width="6.8" height="6.8" fill="#cc1a12"/>
<rect x="239.5" y="157.8" width="6.8" height="6.8" fill="#cc1a12"/>
<rect x="250.28" y="155.3" width="6.8" height="6.8" fill="#cc1a12"/>
<rect x="261.06" y="153.3" width="6.8" height="6.8" fill="#cc1a12"/>
<rect x="271.84" y="151.5" width="6.8" height="6.8" fill="#cc1a12"/>
<rect x="282.62" y="149.5" width="6.8" height="6.8" fill="#cc1a12"/>
<rect x="293.4" y="147.4" width="6.8" height="6.8" fill="#cc1a12"/>
<rect x="304.18" y="145.6" width="6.8" height="6.8" fill="#cc1a12"/>
<rect x="331.35" y="53.95" width="6.3" height="6.3" fill="#cc1a12"/>
<text x="351.7" y="61.4" font-size="12" text-anchor="start" fill="#1a1a1a">pH 5.8</text>
<path d="M334.5 70.8L337.6 76.38L331.4 76.38Z" fill="#ff6a00"/>
<text x="351.7" y="78.2" font-size="12" text-anchor="start" fill="#1a1a1a">pH 6.1</text>
<path d="M334.5 93.8L337.6 88.22L331.4 88.22Z" fill="#c8c000"/>
<text x="351.7" y="95" font-size="12" text-anchor="start" fill="#1a1a1a">pH 6.5</text>
<path d="M334.5 104.5L337.5 107.5L334.5 110.5L331.5 107.5Z" fill="#00c800"/>
<text x="351.7" y="111.8" font-size="12" text-anchor="start" fill="#1a1a1a">pH 7.0</text>
<circle cx="334.5" cy="124.3" r="3.35" fill="#1ec4c8"/>
<text x="351.7" y="128.6" font-size="12" text-anchor="start" fill="#1a1a1a">pH 7.15</text>
<rect x="331.55" y="138.15" width="5.9" height="5.9" fill="none" stroke="#3434d0" stroke-width="1.1"/>
<text x="351.7" y="145.4" font-size="12" text-anchor="start" fill="#1a1a1a">pH 7.45</text>
<path d="M334.5 155.4L337.44 160.78L331.56 160.78Z" fill="none" stroke="#d040d0" stroke-width="1.1" stroke-linejoin="miter"/>
<text x="351.7" y="162.2" font-size="12" text-anchor="start" fill="#1a1a1a">pH 7.9</text>
<path d="M334.5 177.1L337.34 171.9L331.66 171.9Z" fill="none" stroke="#8c8c8c" stroke-width="1.1"/>
<text x="351.7" y="179" font-size="12" text-anchor="start" fill="#1a1a1a">pH 8.2</text>
<text x="415.5" y="20.8" font-size="27.5" text-anchor="start" fill="#000" font-weight="bold">B</text>
<line x1="483.7" y1="30.8" x2="483.7" y2="190" stroke="#1a1a1a" stroke-width="1"/>
<line x1="479.1" y1="190" x2="719.6" y2="190" stroke="#777" stroke-width="1"/>
<text x="467" y="189.7" font-size="12" text-anchor="end" fill="#1a1a1a">0</text>
<line x1="480" y1="150.3" x2="483.7" y2="150.3" stroke="#1a1a1a" stroke-width="1"/>
<text x="467" y="150" font-size="12" text-anchor="end" fill="#1a1a1a">5</text>
<line x1="480" y1="110.6" x2="483.7" y2="110.6" stroke="#1a1a1a" stroke-width="1"/>
<text x="467" y="110.3" font-size="12" text-anchor="end" fill="#1a1a1a">10</text>
<line x1="480" y1="70.9" x2="483.7" y2="70.9" stroke="#1a1a1a" stroke-width="1"/>
<text x="467" y="70.6" font-size="12" text-anchor="end" fill="#1a1a1a">15</text>
<line x1="480" y1="31.2" x2="483.7" y2="31.2" stroke="#1a1a1a" stroke-width="1"/>
<text x="467" y="30.9" font-size="12" text-anchor="end" fill="#1a1a1a">20</text>
<line x1="543" y1="190" x2="543" y2="192.5" stroke="#aaa" stroke-width="1"/>
<line x1="627.4" y1="190" x2="627.4" y2="192.5" stroke="#aaa" stroke-width="1"/>
<line x1="712" y1="190" x2="712" y2="192.5" stroke="#aaa" stroke-width="1"/>
<line x1="500.5" y1="190" x2="500.5" y2="194" stroke="#777" stroke-width="1"/>
<text x="492" y="201.3" font-size="12" text-anchor="middle" fill="#1a1a1a">6</text>
<line x1="585.1" y1="190" x2="585.1" y2="194" stroke="#777" stroke-width="1"/>
<text x="575.8" y="201.3" font-size="12" text-anchor="middle" fill="#1a1a1a">7</text>
<line x1="669.7" y1="190" x2="669.7" y2="194" stroke="#777" stroke-width="1"/>
<text x="660.2" y="201.3" font-size="12" text-anchor="middle" fill="#1a1a1a">8</text>
<text x="589.7" y="217" font-size="12" text-anchor="middle" fill="#1a1a1a">pH</text>
<text x="453.3" y="108.7" font-size="11.9" text-anchor="middle" fill="#1a1a1a" transform="rotate(-90 453.3 108.7)">ABD-F Initial rates (dAU/min)</text>
<path d="M483.7 185.06L487.5 184.98L491.29 184.89L495.09 184.78L498.89 184.66L502.68 184.52L506.48 184.36L510.28 184.18L514.07 183.97L517.87 183.74L521.67 183.47L525.46 183.16L529.26 182.81L533.06 182.41L536.85 181.95L540.65 181.43L544.45 180.83L548.24 180.16L552.04 179.4L555.84 178.53L559.63 177.55L563.43 176.44L567.23 175.19L571.02 173.79L574.82 172.21L578.62 170.44L582.41 168.48L586.21 166.29L590.01 163.87L593.8 161.2L597.6 158.27L601.4 155.07L605.19 151.6L608.99 147.85L612.79 143.84L616.58 139.58L620.38 135.07L624.18 130.35L627.97 125.45L631.77 120.41L635.57 115.26L639.36 110.06L643.16 104.84L646.96 99.67L650.75 94.58L654.55 89.62L658.35 84.83L662.14 80.24L665.94 75.88L669.74 71.77L673.53 67.93L677.33 64.35L681.13 61.05L684.92 58.02L688.72 55.26L692.52 52.74L696.31 50.47L700.11 48.42L703.91 46.58L707.7 44.94L711.5 43.47" stroke="#1a1a1a" stroke-width="1" fill="none"/>
<rect x="481" y="184.8" width="4.8" height="4.8" fill="#000"/>
<rect x="506.2" y="183.6" width="4.8" height="4.8" fill="#000"/>
<rect x="523.4" y="181.5" width="4.8" height="4.8" fill="#000"/>
<rect x="540.2" y="179" width="4.8" height="4.8" fill="#000"/>
<rect x="557.3" y="175.2" width="4.8" height="4.8" fill="#000"/>
<rect x="582.8" y="165.1" width="4.8" height="4.8" fill="#000"/>
<rect x="595" y="150.8" width="4.8" height="4.8" fill="#000"/>
<rect x="620.5" y="129.8" width="4.8" height="4.8" fill="#000"/>
<rect x="633.4" y="130.9" width="4.8" height="4.8" fill="#000"/>
<rect x="658.6" y="79.4" width="4.8" height="4.8" fill="#000"/>
<rect x="684" y="42.7" width="4.8" height="4.8" fill="#000"/>
<rect x="709.1" y="53.9" width="4.8" height="4.8" fill="#000"/>
<line x1="686.4" y1="39.2" x2="686.4" y2="51.4" stroke="#1a1a1a" stroke-width="1"/>
<line x1="683.9" y1="39.2" x2="688.9" y2="39.2" stroke="#1a1a1a" stroke-width="1"/>
<line x1="683.9" y1="51.4" x2="688.9" y2="51.4" stroke="#1a1a1a" stroke-width="1"/>
<line x1="711.5" y1="52" x2="711.5" y2="60.8" stroke="#1a1a1a" stroke-width="1"/>
<line x1="709" y1="52" x2="714" y2="52" stroke="#1a1a1a" stroke-width="1"/>
<line x1="709" y1="60.8" x2="714" y2="60.8" stroke="#1a1a1a" stroke-width="1"/>
<line x1="661" y1="79.5" x2="661" y2="84" stroke="#1a1a1a" stroke-width="1"/>
<line x1="659" y1="79.5" x2="663" y2="79.5" stroke="#1a1a1a" stroke-width="1"/>
<line x1="659" y1="84" x2="663" y2="84" stroke="#1a1a1a" stroke-width="1"/>
<line x1="622.9" y1="130" x2="622.9" y2="134.5" stroke="#1a1a1a" stroke-width="1"/>
<line x1="620.9" y1="130" x2="624.9" y2="130" stroke="#1a1a1a" stroke-width="1"/>
<line x1="620.9" y1="134.5" x2="624.9" y2="134.5" stroke="#1a1a1a" stroke-width="1"/>
<text x="637.5" y="170.6" font-size="12" text-anchor="start" fill="#1a1a1a">pK<tspan font-size="8" dy="2.5">a</tspan><tspan dy="-2.5"> = 7.6 ± 0.1</tspan></text>
<text x="4" y="258.6" font-size="28" text-anchor="start" fill="#000" font-weight="bold">C</text>
<path d="M475.2 279.0L474.5 278.8L473.5 277.9L472.8 276.7L472.4 275.4L472.6 274.2L473.2 273.0L474.0 272.2L475.0 271.6L475.8 271.8L476.8 272.8L477.5 273.9L477.8 275.2L477.6 276.2L477.0 277.5L476.2 278.4L475.2 279.0Z M425.8 326.0L425.5 326.1L425.0 325.9L424.0 325.1L423.3 323.9L423.1 322.9L423.3 321.9L424.0 320.9L424.8 320.2L425.5 319.9L426.2 320.2L427.0 320.9L427.7 321.9L427.9 322.9L427.8 323.8L427.2 324.8L426.5 325.6L425.8 326.0Z M480.0 333.3L479.5 333.4L479.2 333.4L478.8 333.1L478.0 332.4L477.2 331.2L476.8 329.7L477.1 328.4L477.8 327.3L478.5 326.4L479.5 326.0L480.5 326.4L481.2 327.3L481.9 328.4L482.2 329.7L482.0 330.7L481.5 331.7L480.8 332.7L480.0 333.3Z M421.5 332.6L420.8 332.7L419.6 331.9L418.8 330.9L418.3 329.7L418.5 328.7L419.2 327.7L420.0 326.9L421.0 326.5L421.8 326.8L422.8 327.6L423.3 328.4L423.7 329.4L423.6 330.2L423.1 331.2L422.2 332.1L421.5 332.6Z M525.2 331.7L524.8 331.7L524.0 331.1L523.4 330.2L523.2 329.4L523.3 328.7L523.8 327.9L524.3 327.2L525.0 326.8L525.5 327.0L526.2 327.6L526.8 328.4L527.0 329.2L526.9 329.9L526.5 330.7L525.8 331.4L525.2 331.7Z M408.0 337.2L407.8 337.3L407.2 337.2L406.2 336.4L405.5 335.2L405.0 333.7L405.3 332.4L405.9 331.2L406.8 330.3L407.2 330.0L407.8 329.9L408.5 330.2L409.5 331.2L410.0 332.2L410.4 333.4L410.2 334.4L409.7 335.7L408.8 336.7L408.0 337.2Z M326.5 333.7L326.0 333.8L325.5 333.6L324.8 332.9L324.5 332.2L324.5 331.7L324.9 330.9L325.5 330.4L326.0 330.2L326.5 330.3L327.1 330.7L327.5 331.3L327.7 331.9L327.4 332.9L326.5 333.7Z M439.8 350.0L438.8 349.7L437.5 348.8L436.6 347.4L436.2 346.2L436.3 344.9L436.7 343.4L437.5 342.2L438.2 341.6L438.8 341.7L439.3 342.2L441.3 343.4L442.2 344.6L442.8 345.9L442.8 346.4L442.6 347.2L441.9 348.4L440.9 349.4L439.8 350.0Z M314.0 350.5L313.5 350.7L313.2 350.6L312.5 350.1L311.7 348.9L311.3 347.7L311.5 346.7L312.0 345.7L312.8 344.9L313.5 344.5L314.2 344.9L314.8 345.4L315.4 346.4L315.7 347.4L315.6 348.2L315.2 349.2L314.6 349.9L314.0 350.5Z M351.5 352.7L351.2 352.8L350.8 352.7L349.8 351.9L349.0 350.7L348.5 349.2L348.8 347.9L349.4 346.7L350.2 345.8L350.8 345.5L351.2 345.4L352.0 345.7L353.0 346.7L353.5 347.7L353.9 348.9L353.7 349.9L353.2 351.2L352.3 352.2L351.5 352.7Z M515.5 353.2L514.8 353.4L514.2 353.2L513.5 352.7L512.7 351.7L512.2 350.4L512.4 349.4L513.0 348.5L513.8 347.7L514.8 347.2L515.5 347.4L516.5 348.1L517.3 349.2L517.6 350.2L517.5 350.9L516.9 351.9L516.2 352.7L515.5 353.2Z M452.0 359.5L451.2 359.3L450.2 358.5L449.5 357.2L449.1 355.9L449.3 354.7L450.0 353.5L451.0 352.4L451.8 352.1L452.5 352.4L453.5 353.3L454.2 354.4L454.5 355.7L454.3 356.7L453.7 357.9L452.9 358.9L452.0 359.5Z M501.2 360.1L501.0 360.2L500.5 360.1L499.8 359.3L499.0 357.9L498.7 356.4L499.0 355.2L499.6 353.9L500.2 353.1L500.8 352.8L501.0 352.8L501.8 353.3L502.4 354.2L502.9 355.4L503.1 356.4L502.9 357.4L502.5 358.5L501.9 359.4L501.2 360.1Z M511.2 362.2L510.2 361.9L509.1 360.9L508.3 359.7L507.9 358.4L508.3 357.2L509.2 355.9L510.2 355.1L511.2 354.8L512.2 355.2L513.2 356.0L514.1 357.2L514.5 358.4L514.1 359.7L513.3 360.9L512.2 361.8L511.2 362.2Z M479.0 363.8L478.8 363.9L478.2 363.7L477.5 362.9L476.9 361.7L476.5 360.2L476.8 358.9L477.4 357.7L478.0 356.9L478.8 356.5L479.5 357.0L480.2 357.9L480.7 359.2L480.9 360.2L480.7 361.2L480.2 362.3L479.7 363.2L479.0 363.8Z M378.2 366.5L377.8 366.6L377.5 366.5L377.0 366.3L376.4 365.7L375.5 364.4L375.1 362.9L375.4 361.7L376.0 360.6L376.8 359.7L377.8 359.2L378.5 359.5L379.5 360.4L380.1 361.4L380.5 362.7L380.4 363.7L379.8 364.9L379.0 365.9L378.2 366.5Z M444.0 370.5L443.5 370.6L443.0 370.4L442.0 369.4L440.0 368.3L438.9 366.9L438.3 365.4L438.1 364.7L438.2 364.2L438.9 362.4L440.0 361.1L440.8 360.6L441.2 360.4L441.8 360.4L442.2 360.7L443.2 361.6L445.5 364.7L446.2 366.2L446.3 367.2L445.8 368.7L445.0 369.7L444.0 370.5Z M493.5 370.2L493.0 370.1L492.2 369.8L491.5 369.1L490.9 368.4L490.2 366.9L490.1 366.4L490.3 365.7L491.0 364.4L492.0 363.4L493.2 362.8L494.2 362.9L494.6 362.7L495.0 361.9L495.8 361.1L496.5 360.7L497.0 360.6L498.0 361.3L499.0 362.7L499.5 364.2L499.2 365.4L498.6 366.7L497.8 367.6L497.0 368.0L496.5 368.0L496.0 368.2L495.5 368.9L494.8 369.6L493.5 370.2Z M403.2 368.2L403.0 368.3L402.5 368.1L401.8 367.3L401.1 365.9L400.8 364.7L401.0 363.4L401.6 362.2L402.2 361.3L403.0 360.9L403.8 361.3L404.4 362.2L404.9 363.2L405.2 364.4L405.0 365.4L404.6 366.7L404.0 367.6L403.2 368.2Z M452.8 372.7L452.5 372.8L452.0 372.7L451.0 371.9L450.2 370.7L449.7 369.2L449.9 368.2L450.5 366.9L451.3 365.9L452.2 365.4L453.0 365.6L454.0 366.5L454.7 367.7L455.1 368.9L454.9 369.9L454.4 371.2L453.5 372.2L452.8 372.7Z M342.5 373.8L341.8 373.6L340.6 372.4L340.1 371.4L340.0 369.7L340.3 368.4L341.0 367.2L341.8 366.4L342.5 366.1L343.2 366.5L344.0 367.4L344.5 368.4L344.8 369.7L344.6 371.4L344.2 372.2L343.4 373.2L342.5 373.8Z M501.5 375.0L501.2 375.1L500.8 375.0L499.8 374.2L498.9 372.9L498.5 371.4L498.8 370.2L499.5 368.9L500.5 368.0L501.2 367.7L502.2 368.2L503.0 369.1L503.6 370.2L503.9 371.4L503.7 372.4L503.0 373.7L502.2 374.6L501.5 375.0Z M460.2 376.2L459.5 375.9L458.5 374.9L457.8 373.7L457.5 372.4L457.8 371.2L458.5 370.0L459.5 369.1L460.2 368.8L461.1 369.2L462.0 370.2L462.6 371.2L462.9 372.4L462.6 373.7L462.0 374.8L461.2 375.7L460.2 376.2Z M507.0 376.3L506.8 376.3L506.2 376.0L505.6 375.2L505.0 373.9L504.7 372.7L504.9 371.4L505.5 370.2L506.2 369.2L506.8 368.9L507.0 368.9L507.8 369.4L508.4 370.4L508.9 371.7L509.1 372.7L508.8 373.9L508.3 374.9L507.8 375.8L507.0 376.3Z M496.0 377.2L495.8 377.3L495.2 377.2L494.2 376.4L493.5 375.2L493.0 373.7L493.3 372.4L493.9 371.2L494.8 370.3L495.2 370.0L495.8 369.9L496.5 370.2L497.5 371.2L498.0 372.2L498.4 373.4L498.2 374.4L497.7 375.7L496.8 376.7L496.0 377.2Z M431.2 378.8L431.0 378.8L430.5 378.5L429.5 377.4L429.0 376.2L429.0 375.2L429.5 373.9L430.5 372.9L431.0 372.6L431.8 372.7L432.5 372.2L433.0 372.1L433.8 372.6L434.5 373.5L435.0 374.7L435.0 375.7L434.5 376.9L433.8 377.8L433.0 378.3L432.5 378.2L432.0 378.3L431.2 378.8Z M473.0 379.8L472.5 379.9L472.0 379.8L470.8 379.1L469.6 377.7L469.3 376.9L469.1 376.2L469.5 374.9L470.2 373.8L471.2 372.9L472.2 372.5L473.2 372.8L474.4 373.7L475.3 374.9L475.7 376.2L475.4 377.2L474.8 378.3L474.0 379.1L473.0 379.8Z M325.0 379.8L324.5 379.9L324.2 379.8L323.4 379.2L322.6 378.2L322.2 376.9L322.4 375.9L322.9 374.9L323.8 374.1L324.5 373.7L325.2 373.9L326.1 374.7L326.7 375.7L327.0 376.7L326.9 377.4L326.4 378.4L325.8 379.3L325.0 379.8Z M399.5 379.7L398.8 379.9L398.2 379.7L397.5 379.2L396.7 378.2L396.2 376.9L396.4 375.9L397.0 375.0L397.8 374.2L398.8 373.7L399.5 373.9L400.5 374.6L401.3 375.7L401.6 376.7L401.5 377.4L400.9 378.4L400.2 379.2L399.5 379.7Z M389.0 382.0L388.2 381.8L387.3 380.9L386.6 379.9L386.2 378.7L386.4 377.7L387.0 376.7L388.0 375.8L388.8 375.5L389.2 375.5L390.5 376.4L391.2 377.4L391.6 378.4L391.4 379.4L390.6 380.7L389.8 381.6L389.0 382.0Z M423.0 386.7L422.5 386.8L422.0 386.7L421.2 386.4L420.5 385.8L419.3 384.2L418.7 382.7L418.8 381.9L419.2 380.8L419.4 379.9L420.1 378.7L421.0 377.7L421.8 377.2L422.2 377.1L422.8 377.3L423.4 377.7L424.6 378.9L425.9 381.2L426.3 382.4L426.0 383.7L425.2 385.0L424.2 386.0L423.0 386.7Z M494.8 385.5L494.0 385.4L493.0 384.7L492.2 383.7L491.8 382.4L492.1 381.4L492.7 380.4L493.5 379.7L494.5 379.3L495.5 379.7L496.3 380.4L496.9 381.4L497.2 382.4L497.0 383.2L496.4 384.2L495.7 384.9L494.8 385.5Z M328.2 387.5L328.0 387.6L327.5 387.5L326.7 386.9L325.9 385.9L325.5 384.7L325.6 383.7L326.2 382.7L327.0 381.8L327.8 381.4L328.5 381.6L329.4 382.4L330.1 383.4L330.3 384.4L330.2 385.2L329.7 386.2L329.0 387.0L328.2 387.5Z M312.5 388.0L311.8 387.8L310.9 386.9L310.2 385.9L310.0 384.9L310.2 383.9L310.8 382.9L311.8 382.0L312.5 381.8L313.2 382.2L314.0 382.9L314.6 383.9L314.8 384.9L314.6 385.9L314.0 386.9L313.2 387.6L312.5 388.0Z M361.8 389.7L360.8 389.2L360.0 388.3L359.4 387.2L359.1 385.9L359.4 384.7L360.0 383.7L360.9 382.7L361.8 382.3L362.5 382.6L363.5 383.5L364.2 384.7L364.5 385.9L364.2 387.2L363.5 388.4L362.5 389.4L361.8 389.7Z M400.8 389.5L400.5 389.6L400.0 389.5L399.2 388.8L398.5 387.7L398.2 386.7L398.4 385.7L398.9 384.7L399.5 383.9L400.2 383.4L400.5 383.4L401.0 383.7L401.8 384.4L402.3 385.4L402.6 386.4L402.4 387.2L402.0 388.2L401.4 388.9L400.8 389.5Z M406.8 389.0L406.2 389.2L405.5 388.8L405.0 388.2L404.7 387.4L404.7 386.9L405.2 386.2L405.8 385.7L406.2 385.4L406.8 385.6L407.2 386.0L407.8 386.7L407.9 387.2L407.8 387.7L407.6 388.2L406.8 389.0Z M392.0 393.0L391.2 393.1L390.2 392.4L389.3 391.4L388.8 390.2L389.0 389.2L389.6 388.2L390.5 387.3L391.5 386.9L392.3 387.2L393.2 388.0L393.9 388.9L394.2 389.9L394.1 390.7L393.5 391.7L392.8 392.5L392.0 393.0Z M329.0 398.5L328.5 398.6L328.2 398.5L327.5 397.9L326.9 396.9L326.4 395.7L326.6 394.7L327.1 393.7L327.8 392.9L328.5 392.4L329.2 392.7L330.0 393.4L330.5 394.4L330.8 395.4L330.6 396.2L330.2 397.2L329.6 397.9L329.0 398.5Z M407.0 425.7L406.3 425.4L405.7 424.9L405.1 424.2L404.6 423.2L404.3 421.9L404.4 421.2L404.9 420.2L404.8 419.8L404.2 419.9L403.8 419.8L402.5 418.8L401.5 418.5L401.1 418.2L400.6 417.4L400.1 416.4L399.6 414.4L399.8 412.9L400.6 410.9L402.0 408.8L403.0 407.7L403.2 407.2L401.0 400.9L400.8 399.4L401.0 398.2L401.6 396.4L402.5 394.8L403.8 393.5L404.2 393.2L404.8 393.1L405.2 393.3L406.0 393.8L407.2 395.3L408.2 397.4L408.6 399.4L408.4 401.4L408.7 403.4L408.6 404.7L407.9 406.7L406.7 408.7L406.7 409.2L407.4 410.7L407.9 411.9L408.1 413.2L408.1 413.9L407.6 415.9L406.6 417.9L406.6 418.2L406.8 418.3L407.2 418.3L407.9 418.7L408.8 419.6L409.5 420.9L409.7 422.2L409.3 423.4L408.7 424.4L407.8 425.4L407.0 425.7Z M354.5 410.9L353.7 410.4L352.7 409.2L352.0 407.4L351.8 405.9L352.1 404.4L352.8 402.8L353.8 401.5L354.5 401.1L355.2 401.5L356.2 402.8L356.9 404.4L357.2 405.9L357.0 407.4L356.3 409.2L355.3 410.4L354.5 410.9Z M420.5 424.2L420.0 424.3L419.0 423.9L418.0 423.3L417.2 422.6L416.0 420.9L415.5 419.9L415.2 418.9L415.2 417.9L415.6 416.7L416.8 414.9L418.2 413.5L418.3 413.2L418.0 412.9L416.8 412.1L415.2 410.6L415.1 410.7L415.1 410.9L415.4 411.9L415.4 412.7L415.2 413.7L414.9 414.7L413.7 416.4L413.0 417.1L412.2 417.4L411.8 417.3L411.2 417.0L410.2 415.9L409.4 414.4L409.0 412.7L409.1 411.7L409.5 410.4L410.0 409.4L410.8 408.4L411.5 407.8L412.2 407.6L413.0 407.9L414.2 409.0L414.3 408.4L414.1 407.4L414.3 406.7L414.8 405.5L415.4 404.4L416.2 403.4L417.2 402.5L418.2 402.0L419.2 401.7L420.0 401.9L421.0 402.4L421.9 403.2L422.8 404.1L423.5 405.2L424.8 407.7L425.5 408.5L426.1 409.4L426.6 410.4L426.8 411.4L426.6 412.4L426.2 413.4L425.5 414.4L424.5 415.6L424.5 416.2L425.1 417.4L425.3 418.4L425.1 419.4L424.7 420.4L423.9 421.7L422.8 422.9L421.8 423.7L420.5 424.2Z M315.2 408.5L315.0 408.6L314.5 408.4L313.8 407.7L313.1 406.7L312.8 405.4L313.1 404.4L313.6 403.4L314.2 402.8L315.0 402.4L315.8 402.8L316.4 403.4L316.9 404.4L317.2 405.4L317.0 406.4L316.5 407.4L316.0 408.0L315.2 408.5Z M489.0 406.6L488.5 406.6L488.0 406.2L487.6 405.7L487.4 404.9L487.4 404.4L487.7 403.7L488.2 403.1L488.8 402.9L489.5 403.5L489.8 403.9L490.1 404.7L489.8 405.7L489.0 406.6Z M362.8 415.3L362.5 415.4L362.0 415.3L361.2 414.5L360.6 413.2L360.2 411.7L360.5 410.4L361.1 409.2L361.8 408.3L362.2 408.0L362.5 408.0L363.2 408.5L363.9 409.4L364.4 410.7L364.6 411.7L364.4 412.7L364.0 413.7L363.4 414.7L362.8 415.3Z M439.8 414.5L439.5 414.6L439.0 414.4L438.2 413.7L437.6 412.7L437.3 411.4L437.6 410.4L438.1 409.4L438.8 408.8L439.5 408.4L440.2 408.8L440.9 409.4L441.4 410.4L441.7 411.4L441.5 412.4L441.0 413.4L440.5 414.0L439.8 414.5Z M471.8 416.6L471.5 416.7L471.0 416.6L470.2 415.8L469.5 414.4L469.2 412.9L469.5 411.7L470.1 410.4L470.8 409.6L471.2 409.3L471.5 409.3L472.2 409.8L472.9 410.7L473.4 411.9L473.6 412.9L473.4 413.9L473.0 415.0L472.4 415.9L471.8 416.6Z M465.5 418.3L465.0 418.4L464.8 418.3L464.0 417.7L463.3 416.7L462.9 415.4L463.1 414.4L463.6 413.4L464.2 412.7L465.0 412.2L465.8 412.5L466.4 413.2L467.0 414.2L467.3 415.2L467.2 415.9L466.7 416.9L466.2 417.7L465.5 418.3Z M365.0 425.3L364.8 425.3L364.2 425.2L363.8 424.7L363.1 423.9L362.3 422.2L362.0 420.4L362.3 418.7L363.0 417.1L364.0 415.8L364.8 415.5L365.5 415.9L366.5 417.3L367.2 418.9L367.4 420.4L367.1 421.9L366.5 423.4L365.8 424.6L365.0 425.3Z M438.2 456.8L437.8 456.9L437.2 456.8L436.0 455.9L435.0 454.4L434.2 452.4L434.0 452.5L433.5 453.2L433.0 453.5L432.8 453.5L432.2 453.1L431.4 451.7L430.8 449.9L430.8 448.7L431.3 446.7L431.3 446.2L430.9 444.9L431.0 444.2L431.5 442.9L432.6 441.4L432.7 440.9L432.8 439.9L433.1 438.9L433.6 437.7L434.5 436.4L434.5 436.2L434.5 435.9L433.5 434.9L432.2 433.3L430.8 430.7L430.3 428.7L430.4 426.9L429.5 424.7L429.6 423.7L430.2 422.2L431.1 421.2L432.0 420.6L432.5 420.7L433.2 421.1L434.4 422.4L435.8 423.6L436.5 424.4L437.4 425.9L439.5 430.7L440.0 431.4L441.2 432.4L441.9 433.4L442.3 434.4L442.3 435.2L441.8 436.4L441.0 437.4L440.9 437.9L441.5 439.4L442.0 439.6L442.5 439.5L443.0 439.6L444.1 440.2L445.1 441.2L445.7 442.4L445.6 443.2L445.2 443.9L444.5 444.7L443.5 445.4L442.8 445.7L442.2 445.7L441.2 445.3L440.2 444.5L440.0 444.5L438.8 445.6L437.8 446.1L437.2 446.3L436.2 446.1L436.0 446.2L435.2 447.4L435.0 448.2L435.0 449.9L435.2 450.1L436.0 449.1L437.0 448.3L437.8 448.1L439.0 448.6L440.1 447.2L441.0 446.7L441.5 446.9L442.1 447.4L442.7 448.2L443.0 448.9L443.2 449.7L443.1 450.2L442.5 451.7L442.0 452.3L440.9 453.2L440.4 454.4L439.8 455.5L439.0 456.3L438.2 456.8Z M392.8 427.7L392.0 427.9L390.8 427.2L390.0 426.2L389.5 424.9L389.7 423.9L390.3 422.9L391.2 422.1L392.2 421.7L393.2 422.1L394.0 422.8L394.6 423.7L394.9 424.7L394.8 425.4L394.2 426.4L393.5 427.3L392.8 427.7Z M353.0 434.7L352.2 434.9L351.8 434.8L351.0 434.4L350.3 433.7L349.1 431.9L348.5 430.2L348.8 428.7L349.7 426.9L351.0 425.6L351.8 425.2L352.2 425.1L352.8 425.2L353.5 425.6L354.8 426.8L355.7 428.4L356.1 429.9L355.8 431.2L355.1 432.7L354.1 433.9L353.0 434.7Z M382.2 438.5L381.8 438.4L381.0 437.8L380.4 437.2L379.9 436.2L379.6 435.4L379.5 434.7L379.7 433.9L380.1 432.9L380.1 432.4L378.9 430.9L378.4 429.4L378.6 428.2L379.2 426.9L380.0 426.1L381.0 425.5L381.5 425.6L382.3 426.2L383.0 427.0L383.5 427.9L383.8 429.2L383.7 429.9L383.2 431.2L383.2 431.4L384.4 433.2L384.9 434.7L384.6 435.9L384.0 437.1L383.2 438.0L382.2 438.5Z M143.5 429.5L143.0 429.5L142.5 429.1L142.1 428.4L141.9 427.9L142.5 426.9L143.2 426.5L143.8 426.6L144.1 426.9L144.5 427.4L144.7 427.9L144.5 428.4L144.2 428.9L143.5 429.5Z M364.5 432.8L364.2 432.9L363.8 432.7L363.0 432.1L362.3 430.9L362.0 429.9L362.2 428.9L362.8 427.9L363.5 427.0L364.2 426.7L365.0 427.1L365.5 427.7L366.1 428.7L366.4 429.7L366.2 430.7L365.8 431.6L365.2 432.2L364.5 432.8Z M413.5 438.2L413.0 438.3L412.0 437.9L411.0 437.3L410.1 436.4L409.3 435.4L408.7 434.4L408.3 433.4L408.1 432.4L408.3 431.4L408.8 430.5L410.0 428.7L410.8 427.9L411.8 427.2L412.5 426.9L413.2 426.7L414.0 426.9L415.0 427.4L416.5 428.8L417.8 430.7L418.1 431.7L418.3 432.4L418.2 433.2L417.8 434.2L416.7 435.9L415.2 437.4L414.2 438.0L413.5 438.2Z M417.8 448.8L417.0 448.9L416.2 448.6L415.0 447.7L413.8 447.1L413.0 446.5L412.3 445.7L411.8 444.7L411.6 443.7L411.7 442.9L412.0 442.1L412.5 441.2L413.2 440.4L414.0 440.0L414.5 439.9L415.4 440.4L415.8 440.5L417.2 440.1L418.2 440.4L418.5 440.3L418.6 440.2L418.2 438.9L418.2 438.2L418.5 436.9L419.5 435.3L419.7 434.7L419.7 434.4L419.3 432.7L419.4 431.9L419.7 430.9L420.5 429.4L421.8 428.0L423.0 427.2L423.5 427.0L424.0 427.1L425.1 427.7L426.2 428.7L427.1 429.9L427.7 431.4L427.9 432.4L427.9 432.9L427.2 435.2L427.4 435.9L427.9 436.9L428.2 437.9L428.2 438.7L428.1 439.4L427.6 440.7L426.8 441.9L425.8 442.9L424.8 443.7L424.0 444.1L423.2 444.3L422.2 444.0L421.2 443.5L421.0 443.5L421.0 444.9L420.4 446.4L419.2 447.8L418.5 448.4L417.8 448.8Z M264.2 436.8L264.0 436.8L263.5 436.5L262.8 435.8L262.2 434.7L261.9 433.7L262.2 432.7L262.7 431.7L263.2 431.1L264.0 430.6L264.8 430.9L265.5 431.7L266.0 432.7L266.3 433.7L266.0 434.7L265.5 435.7L265.0 436.3L264.2 436.8Z M368.0 441.8L367.2 441.6L366.2 440.7L365.4 439.4L365.1 438.2L365.4 436.9L366.0 435.8L366.8 434.9L367.8 434.4L368.6 434.7L369.5 435.6L370.1 436.7L370.5 437.9L370.3 438.9L369.8 440.2L368.9 441.2L368.0 441.8Z M355.5 441.8L355.2 441.8L354.8 441.6L354.0 440.8L353.4 439.7L353.1 438.7L353.4 437.7L353.9 436.7L354.5 436.0L355.2 435.6L356.0 435.9L356.7 436.7L357.2 437.7L357.5 438.7L357.2 439.7L356.8 440.6L356.2 441.2L355.5 441.8Z M376.0 442.8L375.5 442.9L375.2 442.9L374.8 442.6L374.0 441.9L373.2 440.7L372.8 439.2L373.1 437.9L373.8 436.8L374.5 435.9L375.5 435.5L376.5 435.9L377.2 436.8L377.9 437.9L378.2 439.2L378.0 440.2L377.5 441.2L376.8 442.2L376.0 442.8Z M361.2 444.0L360.8 443.9L360.2 443.6L359.4 442.7L358.8 441.4L358.5 440.2L358.8 438.9L359.5 437.8L360.5 436.9L361.2 436.6L362.0 436.9L363.0 437.9L363.6 438.9L363.9 440.2L363.6 441.4L363.0 442.6L362.2 443.5L361.2 444.0Z M484.0 444.7L483.1 444.2L482.2 443.3L481.7 442.2L481.4 440.9L481.6 439.9L482.3 438.7L483.2 437.7L484.0 437.3L484.8 437.5L485.8 438.5L486.5 439.7L486.8 440.9L486.5 442.2L485.8 443.4L484.8 444.4L484.0 444.7Z M344.5 446.8L344.0 446.8L343.5 446.6L342.2 445.5L341.3 443.9L340.9 442.4L341.3 441.2L342.1 439.7L343.2 438.6L344.2 438.2L345.2 438.6L346.3 439.7L347.0 440.9L347.5 442.4L347.2 443.7L346.5 445.0L345.5 446.2L344.5 446.8Z M312.5 444.5L311.8 444.3L310.9 443.4L310.2 442.4L310.0 441.4L310.2 440.4L310.8 439.4L311.8 438.5L312.5 438.3L313.2 438.7L314.0 439.4L314.6 440.4L314.8 441.4L314.6 442.4L314.0 443.4L313.2 444.1L312.5 444.5Z M404.5 444.5L403.8 444.3L402.8 443.5L402.0 442.4L401.7 441.4L402.0 440.4L402.8 439.3L403.8 438.5L404.5 438.3L405.4 438.7L406.2 439.5L406.8 440.4L407.1 441.4L406.8 442.4L406.2 443.3L405.5 444.0L404.5 444.5Z M327.2 447.7L326.5 447.8L325.8 447.6L324.0 446.7L323.2 445.9L322.5 445.2L322.1 444.4L321.8 443.7L321.9 443.2L322.1 442.4L323.3 440.9L324.8 439.8L325.8 439.4L326.5 439.2L327.2 439.3L328.0 439.5L329.8 440.6L331.0 441.9L331.4 442.7L331.6 443.4L331.2 444.7L330.2 445.9L328.8 447.1L327.2 447.7Z M285.2 445.6L284.5 445.7L283.2 445.1L282.4 444.2L282.0 443.2L282.2 442.4L282.8 441.7L283.8 441.0L284.5 440.7L285.2 440.8L286.3 441.4L287.0 442.2L287.4 443.2L287.2 443.9L286.8 444.5L286.0 445.2L285.2 445.6Z M507.2 446.1L506.5 446.2L505.2 445.6L504.4 444.7L504.0 443.7L504.2 442.9L504.8 442.2L505.8 441.5L506.5 441.2L507.2 441.3L508.3 441.9L509.0 442.7L509.4 443.7L509.2 444.4L508.8 445.0L508.0 445.7L507.2 446.1Z M392.0 450.0L391.2 450.1L390.2 449.4L389.3 448.4L388.8 447.2L389.0 446.2L389.6 445.2L390.5 444.3L391.5 443.9L392.3 444.2L393.2 445.0L393.9 445.9L394.2 446.9L394.1 447.7L393.5 448.7L392.8 449.5L392.0 450.0Z M309.5 455.5L308.8 455.5L308.1 455.2L307.5 454.7L306.8 453.6L306.4 452.4L306.8 451.2L307.8 449.9L307.8 449.4L307.6 448.7L307.5 447.9L308.0 446.4L309.0 445.1L309.8 444.5L310.2 444.4L310.8 444.6L311.5 445.2L312.7 446.7L313.8 446.6L314.8 447.3L315.8 448.7L316.1 449.7L316.2 450.4L316.0 451.3L315.6 452.2L314.5 453.5L313.5 454.0L312.8 453.7L312.0 453.1L311.8 453.1L310.8 454.6L310.1 455.2L309.5 455.5Z M338.5 453.8L338.0 453.8L337.5 453.6L336.2 452.5L335.3 450.9L334.9 449.4L335.3 448.2L336.1 446.7L337.2 445.6L338.2 445.2L339.2 445.6L340.3 446.7L341.0 447.9L341.5 449.4L341.2 450.7L340.5 452.0L339.5 453.2L338.5 453.8Z M382.5 452.2L381.8 452.2L380.7 451.4L379.9 450.4L379.5 449.2L379.8 448.2L380.5 447.1L381.5 446.3L382.2 446.1L383.1 446.4L384.0 447.2L384.6 448.2L384.9 449.2L384.7 449.9L384.2 450.9L383.4 451.7L382.5 452.2Z M360.2 458.0L359.8 458.0L359.2 457.7L358.5 457.0L358.0 456.3L357.3 454.7L357.3 454.2L357.5 453.4L358.0 452.3L358.8 451.3L359.5 450.7L360.0 450.6L360.5 450.6L360.7 450.4L361.0 448.9L362.0 447.5L362.8 446.8L363.5 446.6L364.5 447.2L365.5 448.4L366.1 449.9L366.0 450.9L365.5 452.2L364.7 453.2L363.8 453.9L363.5 454.0L363.0 453.9L362.8 454.1L362.5 455.3L361.9 456.4L361.1 457.4L360.2 458.0Z M424.8 459.0L424.2 459.1L423.8 458.8L423.0 457.8L422.3 456.2L422.0 455.9L420.5 455.0L420.2 455.2L419.8 456.4L419.1 457.4L418.2 458.2L417.5 458.4L416.8 458.0L416.0 457.3L415.3 456.2L415.0 455.2L414.9 454.4L415.1 453.7L416.0 452.1L416.8 451.4L417.5 451.0L418.0 451.1L418.5 451.4L418.8 451.4L419.5 449.4L420.5 447.9L421.2 447.2L422.2 446.6L422.8 446.6L423.5 447.1L424.2 447.9L424.9 448.9L425.4 450.2L425.6 452.4L426.2 453.7L426.5 454.7L426.5 455.7L426.2 456.9L425.5 458.3L424.8 459.0Z M466.8 456.2L465.8 455.7L465.0 454.8L464.4 453.7L464.1 452.4L464.4 451.2L465.0 450.2L465.9 449.2L466.8 448.8L467.5 449.1L468.5 450.0L469.2 451.2L469.5 452.4L469.2 453.7L468.5 454.9L467.5 455.9L466.8 456.2Z M331.5 455.5L330.8 455.5L329.6 454.7L328.9 453.7L328.5 452.4L328.8 451.4L329.5 450.4L330.5 449.6L331.2 449.4L332.2 449.9L333.0 450.5L333.6 451.4L333.9 452.4L333.8 453.2L333.2 454.2L332.5 455.0L331.5 455.5Z M371.2 456.0L370.8 456.2L370.5 456.1L369.8 455.5L369.0 454.4L368.6 453.2L368.8 452.2L369.3 451.2L370.0 450.4L370.8 450.0L371.5 450.3L372.1 450.9L372.7 451.9L373.0 452.9L372.9 453.7L372.5 454.7L371.9 455.4L371.2 456.0Z M324.0 456.6L323.2 456.7L322.1 455.9L321.2 454.9L320.8 453.7L321.0 452.7L321.7 451.7L322.5 450.9L323.5 450.5L324.2 450.8L325.2 451.6L325.8 452.4L326.2 453.4L326.1 454.2L325.6 455.2L324.8 456.1L324.0 456.6Z M400.5 457.2L399.8 457.4L399.2 457.2L398.5 456.7L397.7 455.7L397.2 454.4L397.4 453.4L398.0 452.5L398.8 451.7L399.8 451.2L400.5 451.4L401.5 452.1L402.3 453.2L402.6 454.2L402.5 454.9L401.9 455.9L401.2 456.7L400.5 457.2Z M479.0 463.2L478.5 463.3L478.2 463.2L477.2 462.4L476.4 461.2L475.9 459.7L476.2 458.4L476.8 457.3L477.5 456.4L478.5 455.9L479.2 456.1L480.2 457.1L480.9 458.2L481.3 459.4L481.1 460.4L480.6 461.7L479.8 462.7L479.0 463.2Z M379.2 465.5L378.8 465.6L377.9 465.2L377.1 464.4L376.5 463.5L376.2 463.5L375.2 464.2L374.5 464.5L373.8 464.3L372.9 463.7L372.1 462.7L371.7 461.4L372.0 460.4L372.8 459.3L373.8 458.5L374.5 458.3L375.0 458.5L375.8 459.0L377.0 460.4L377.2 460.4L378.1 459.7L378.8 459.4L379.5 459.6L380.4 460.2L381.3 461.4L381.6 462.2L381.6 462.7L381.3 463.4L380.8 464.4L380.0 465.1L379.2 465.5Z M301.0 472.3L300.5 472.3L300.0 472.1L298.8 471.0L297.8 469.4L297.4 467.9L297.8 466.7L298.6 465.2L299.8 464.1L300.8 463.7L301.8 464.1L302.8 465.2L303.5 466.4L304.0 467.9L303.7 469.2L303.0 470.5L302.0 471.7L301.0 472.3Z M441.5 472.2L440.7 471.9L439.7 470.9L439.0 469.7L438.7 468.4L439.0 467.2L439.8 466.0L440.8 465.0L441.5 464.8L442.3 465.2L443.2 466.2L443.9 467.4L444.1 468.4L443.8 469.7L443.2 470.8L442.4 471.7L441.5 472.2Z M420.5 475.1L420.2 475.1L419.8 474.8L419.0 474.0L418.4 472.7L418.1 471.4L418.3 470.4L418.8 469.2L419.5 468.2L420.2 467.7L421.0 468.1L421.7 468.9L422.2 470.2L422.5 471.4L422.2 472.6L421.8 473.7L421.2 474.5L420.5 475.1Z M331.8 474.2L331.0 474.4L329.8 473.7L329.0 472.7L328.5 471.4L328.7 470.4L329.3 469.4L330.2 468.6L331.2 468.2L332.2 468.6L333.0 469.3L333.6 470.2L333.9 471.2L333.8 471.9L333.2 472.9L332.5 473.8L331.8 474.2Z M363.8 474.7L363.2 474.8L362.5 474.2L362.0 473.3L361.8 472.4L361.9 471.7L362.2 470.9L362.8 470.3L363.2 470.0L363.8 470.1L364.2 470.5L364.8 471.3L365.0 472.2L364.9 472.9L364.6 473.7L364.2 474.3L363.8 474.7Z M294.5 479.8L294.0 479.8L293.5 479.6L292.2 478.5L291.3 476.9L290.9 475.4L291.3 474.2L292.1 472.7L293.2 471.6L294.2 471.2L295.2 471.6L296.3 472.7L297.0 473.9L297.5 475.4L297.2 476.7L296.5 478.0L295.5 479.2L294.5 479.8Z M309.0 479.8L308.5 479.8L308.0 479.6L306.8 478.5L305.8 476.9L305.4 475.4L305.8 474.2L306.6 472.7L307.8 471.6L308.8 471.2L309.8 471.6L310.8 472.7L311.5 473.9L312.0 475.4L311.7 476.7L311.0 478.0L310.0 479.2L309.0 479.8Z M438.5 478.3L438.0 478.4L437.8 478.4L437.2 478.1L436.5 477.4L435.7 476.2L435.3 474.7L435.6 473.4L436.2 472.3L437.0 471.4L438.0 471.0L439.0 471.4L439.8 472.3L440.4 473.4L440.7 474.7L440.5 475.7L440.0 476.7L439.2 477.7L438.5 478.3Z M452.5 480.5L452.0 480.6L451.8 480.6L451.2 480.3L450.6 479.7L449.7 478.4L449.3 476.9L449.6 475.7L450.2 474.5L451.2 473.5L452.0 473.2L452.8 473.5L453.7 474.4L454.3 475.4L454.7 476.7L454.6 477.7L454.0 478.9L453.2 479.9L452.5 480.5Z M416.8 480.0L416.0 479.9L415.0 479.2L414.2 478.2L413.8 476.9L414.1 475.9L414.7 474.9L415.5 474.2L416.5 473.8L417.5 474.2L418.3 474.9L418.9 475.9L419.2 476.9L419.0 477.7L418.4 478.7L417.7 479.4L416.8 480.0Z M355.5 481.7L354.6 481.2L353.8 480.3L353.2 479.2L352.9 477.9L353.1 476.9L353.8 475.7L354.7 474.7L355.5 474.3L356.2 474.5L357.2 475.5L358.0 476.7L358.3 477.9L358.0 479.2L357.3 480.4L356.3 481.4L355.5 481.7Z M388.0 482.7L387.8 482.8L387.2 482.7L386.3 481.7L385.6 480.4L385.3 479.2L385.5 477.9L386.1 476.7L387.0 475.7L387.8 475.4L388.5 475.8L389.2 476.6L389.8 477.7L390.1 478.9L390.0 479.9L389.5 481.2L388.8 482.2L388.0 482.7Z M314.5 486.8L314.0 486.8L313.5 486.6L312.2 485.5L311.3 483.9L310.9 482.4L311.3 481.2L312.1 479.7L313.2 478.6L314.2 478.2L315.2 478.6L316.3 479.7L317.0 480.9L317.5 482.4L317.2 483.7L316.5 485.0L315.5 486.2L314.5 486.8Z M283.0 484.5L282.5 484.3L281.7 483.7L281.2 482.9L281.0 481.9L281.2 481.2L281.8 480.3L282.5 479.7L283.0 479.5L283.5 479.8L284.2 480.4L284.6 481.2L284.8 481.9L284.6 482.7L284.2 483.4L283.8 484.0L283.0 484.5Z M328.5 493.3L328.0 493.3L327.2 492.9L326.5 492.3L325.8 491.3L325.3 490.4L325.0 489.4L324.9 488.9L325.2 487.9L326.0 486.3L327.2 485.1L328.2 484.7L329.2 485.1L329.5 484.7L329.6 483.9L329.8 483.2L330.5 482.0L331.5 481.1L332.0 480.8L332.5 480.9L333.5 481.6L334.5 482.9L334.9 484.4L334.7 485.4L334.1 486.7L333.2 487.7L332.5 488.1L332.2 488.2L331.8 488.1L331.4 488.2L331.3 489.7L330.7 491.2L329.7 492.4L329.1 492.9L328.5 493.3Z M344.0 489.2L343.2 489.4L342.8 489.2L342.2 488.7L341.2 487.4L340.7 485.9L340.9 484.7L341.5 483.5L342.2 482.6L343.2 482.0L344.0 482.2L345.0 483.1L345.7 484.2L346.1 485.4L346.0 486.4L345.5 487.6L344.8 488.6L344.0 489.2Z M402.0 490.0L401.2 490.2L400.7 489.9L400.0 489.5L399.2 488.4L398.7 487.2L398.9 486.2L399.5 485.3L400.4 484.4L401.2 484.0L402.0 484.2L403.0 484.9L403.7 485.9L404.1 486.9L404.0 487.7L403.5 488.7L402.8 489.5L402.0 490.0Z M421.2 492.8L421.0 492.8L420.2 492.4L419.0 492.3L418.2 491.9L417.2 490.9L416.8 489.9L417.2 488.9L418.0 488.1L418.8 487.6L420.1 487.2L421.0 486.6L421.8 486.9L422.5 487.7L423.0 488.7L423.3 489.7L423.0 490.7L422.5 491.7L422.0 492.3L421.2 492.8Z M383.0 494.7L382.2 494.3L381.6 493.4L381.1 492.2L380.8 490.9L381.0 489.9L381.5 488.7L382.2 487.7L383.0 487.3L383.8 487.7L384.5 488.7L385.0 489.9L385.2 490.9L384.9 492.2L384.4 493.4L383.8 494.3L383.0 494.7Z M442.2 495.5L441.8 495.2L441.2 494.4L440.8 493.4L440.6 492.4L440.7 491.4L441.1 490.4L441.8 489.6L442.2 489.3L442.8 489.7L443.3 490.4L443.7 491.4L443.8 492.4L443.6 493.4L443.2 494.4L442.8 495.1L442.2 495.5Z M323.5 498.8L323.0 498.8L322.5 498.6L321.2 497.5L320.3 495.9L319.9 494.4L320.3 493.2L321.1 491.7L322.2 490.6L323.2 490.2L324.2 490.6L325.3 491.7L326.0 492.9L326.5 494.4L326.2 495.7L325.5 497.0L324.5 498.2L323.5 498.8Z M270.5 496.7L270.0 496.9L269.8 496.8L269.0 496.4L268.2 495.4L267.8 494.4L268.0 493.7L268.5 492.9L269.2 492.2L270.0 491.9L270.7 492.2L271.3 492.7L271.9 493.4L272.1 494.2L272.1 494.7L271.8 495.5L271.2 496.2L270.5 496.7Z M342.8 504.0L342.2 504.1L342.0 504.0L341.5 503.8L340.9 503.2L340.0 501.9L339.6 500.4L339.9 499.2L340.5 498.1L341.3 497.2L342.2 496.7L343.0 497.0L344.0 497.9L344.6 498.9L345.0 500.2L344.9 501.2L344.3 502.4L343.5 503.4L342.8 504.0Z M351.2 513.0L350.5 512.8L349.5 511.9L348.8 510.7L348.4 509.4L348.6 508.2L349.2 507.0L350.0 506.2L351.0 505.6L351.8 505.8L352.8 506.8L353.5 507.9L353.8 509.2L353.6 510.2L353.0 511.5L352.2 512.5L351.2 513.0Z M327.2 513.7L326.5 513.4L325.5 512.5L324.8 511.2L324.5 509.9L324.8 508.7L325.5 507.5L326.5 506.6L327.2 506.3L328.1 506.7L329.0 507.7L329.6 508.7L329.9 509.9L329.6 511.2L329.0 512.3L328.2 513.2L327.2 513.7Z M269.8 513.7L269.0 513.9L267.8 513.2L267.0 512.2L266.5 510.9L266.7 509.9L267.3 508.9L268.2 508.1L269.2 507.7L270.2 508.1L271.0 508.8L271.6 509.7L271.9 510.7L271.8 511.4L271.2 512.5L270.5 513.3L269.8 513.7Z M320.8 516.7L319.8 516.4L318.6 515.5L317.8 514.2L317.4 513.0L317.8 511.7L318.7 510.4L319.8 509.6L320.8 509.3L321.8 509.7L322.8 510.5L323.6 511.7L324.0 513.0L323.6 514.2L322.8 515.5L321.8 516.3L320.8 516.7Z M363.5 526.3L363.0 526.2L362.2 525.8L361.2 524.5L360.8 523.5L360.6 522.7L361.0 521.0L360.8 520.6L359.8 520.0L359.2 519.3L358.8 518.5L358.4 517.5L358.5 516.5L359.1 515.0L360.0 513.9L361.0 513.3L361.5 513.4L362.2 513.9L363.2 515.2L363.7 516.2L363.8 517.0L363.4 518.5L363.5 518.9L364.4 519.5L365.1 520.2L365.6 521.2L366.0 522.2L365.9 523.2L365.3 524.7L364.4 525.7L363.5 526.3Z M306.0 545.5L305.8 545.6L305.2 545.4L304.5 544.8L303.8 543.7L303.5 542.5L303.8 541.5L304.3 540.5L305.0 539.7L305.8 539.4L306.5 539.8L307.1 540.5L307.6 541.5L307.9 542.5L307.7 543.5L307.2 544.3L306.7 545.0L306.0 545.5Z M364.2 551.8L364.0 551.8L363.5 551.7L362.5 550.8L361.6 549.5L361.3 548.2L361.6 547.0L362.2 545.7L363.2 544.7L364.0 544.4L364.8 544.7L365.8 545.7L366.3 546.7L366.7 548.0L366.5 549.0L366.0 550.2L365.1 551.2L364.2 551.8Z M475.2 276.6L475.0 276.6L474.7 276.4L474.3 275.9L474.2 275.4L474.3 274.7L475.0 274.0L475.2 274.0L475.7 274.4L476.1 275.2L475.9 275.9L475.2 276.6Z M425.8 324.0L425.5 324.1L425.0 323.8L424.6 322.9L425.0 322.2L425.5 321.9L426.0 322.2L426.4 322.9L426.2 323.4L425.8 324.0Z M479.5 331.0L479.2 330.9L478.8 330.4L478.5 329.7L478.8 328.9L479.2 328.5L479.5 328.4L479.8 328.5L480.2 328.9L480.5 329.7L480.2 330.4L479.8 330.9L479.5 331.0Z M525.2 330.1L525.0 330.2L524.8 330.0L524.5 329.4L524.5 328.9L525.0 328.4L525.2 328.5L525.5 328.7L525.8 329.2L525.6 329.7L525.2 330.1Z M421.0 330.7L420.5 330.4L420.0 329.7L420.3 328.9L421.0 328.5L421.7 328.9L422.0 329.7L421.5 330.4L421.0 330.7Z M326.2 332.6L326.0 332.6L325.8 332.5L325.5 331.9L326.0 331.4L326.3 331.4L326.7 331.9L326.5 332.4L326.2 332.6Z M408.0 334.8L407.8 334.9L407.2 334.7L406.7 333.7L407.0 332.9L407.4 332.4L407.8 332.3L408.3 332.7L408.6 333.4L408.5 334.2L408.0 334.8Z M439.0 348.2L438.5 348.2L437.8 347.7L437.2 346.8L437.1 345.9L437.1 345.2L437.4 344.4L438.0 343.6L438.5 343.3L439.2 343.5L440.0 344.1L440.6 345.2L440.7 346.2L440.7 346.7L440.0 347.7L439.5 348.1L439.0 348.2Z M313.5 348.7L313.0 348.3L312.7 347.7L313.0 346.9L313.5 346.5L314.0 346.9L314.3 347.7L314.0 348.3L313.5 348.7Z M351.5 350.3L351.2 350.4L350.8 350.2L350.2 349.2L350.5 348.4L350.9 347.9L351.2 347.8L351.8 348.2L352.1 348.9L352.0 349.7L351.5 350.3Z M515.2 351.3L515.0 351.4L514.5 351.2L514.0 350.4L513.9 350.2L514.2 349.7L514.8 349.2L515.0 349.2L515.4 349.4L515.9 350.2L515.7 350.7L515.2 351.3Z M452.0 357.1L451.8 357.1L451.5 356.9L451.0 356.4L450.9 355.9L451.0 355.2L451.4 354.7L451.8 354.5L452.0 354.5L452.4 354.9L452.8 355.7L452.6 356.4L452.0 357.1Z M501.0 357.8L500.8 357.8L500.5 357.4L500.1 356.4L500.5 355.5L500.8 355.2L501.0 355.2L501.4 355.7L501.7 356.4L501.5 357.2L501.0 357.8Z M511.5 359.7L511.0 359.8L510.5 359.4L510.2 358.9L510.0 358.4L510.5 357.6L511.2 357.2L512.0 357.7L512.4 358.4L512.1 359.2L511.5 359.7Z M478.8 361.5L478.5 361.4L478.2 361.1L477.9 360.2L478.2 359.3L478.5 359.0L478.8 358.9L479.2 359.4L479.5 360.2L479.2 361.0L478.8 361.5Z M377.8 364.2L377.1 363.7L376.8 362.9L377.1 362.2L377.8 361.6L378.3 361.9L378.7 362.4L378.8 362.9L378.5 363.7L378.0 364.2L377.8 364.2Z M443.2 368.2L442.2 368.0L441.5 367.5L441.1 366.9L440.8 365.8L440.4 365.2L440.2 364.7L440.4 364.2L440.8 363.6L441.2 363.2L441.5 363.2L442.2 363.7L443.0 363.8L443.5 364.0L444.2 364.9L444.5 365.9L444.5 367.2L444.0 368.0L443.8 368.2L443.2 368.2Z M493.5 367.8L493.0 367.7L492.4 366.9L492.2 366.4L492.6 365.7L493.2 365.2L493.5 365.2L494.0 365.5L494.1 365.4L495.1 364.4L495.9 363.9L496.5 363.1L496.8 363.0L497.2 363.2L497.6 363.7L497.8 364.2L497.7 364.7L497.4 365.2L496.2 366.2L495.5 366.4L494.8 366.5L494.1 367.4L493.5 367.8Z M403.2 365.8L403.0 365.9L402.8 365.8L402.4 365.2L402.2 364.7L402.5 363.7L403.0 363.3L403.5 363.7L403.8 364.4L403.6 365.2L403.2 365.8Z M452.8 370.2L452.5 370.4L452.0 370.2L451.6 369.7L451.4 369.2L451.6 368.4L452.2 367.8L452.5 367.8L452.8 367.9L453.2 368.4L453.3 368.9L453.2 369.7L452.8 370.2Z M342.5 372.8L342.0 372.7L341.5 372.3L341.0 371.7L340.8 370.9L341.0 369.9L341.2 369.4L342.0 368.6L342.5 368.5L343.0 368.8L343.5 369.4L343.7 369.9L343.9 370.7L343.8 371.2L343.5 371.9L343.0 372.5L342.5 372.8Z M501.2 372.7L501.0 372.7L500.5 372.2L500.2 371.4L500.3 370.9L500.7 370.4L501.2 370.1L501.9 370.7L502.2 371.4L501.9 372.2L501.2 372.7Z M460.2 373.8L459.7 373.4L459.3 372.9L459.2 372.4L459.5 371.7L460.0 371.2L460.2 371.2L460.9 371.7L461.2 372.4L460.9 373.2L460.2 373.8Z M507.0 373.9L506.8 373.9L506.5 373.6L506.1 372.7L506.4 371.7L506.8 371.3L507.0 371.3L507.5 371.9L507.7 372.7L507.4 373.4L507.0 373.9Z M496.0 374.8L495.8 374.9L495.2 374.7L494.7 373.7L495.0 372.9L495.4 372.4L495.8 372.3L496.3 372.7L496.6 373.4L496.5 374.2L496.0 374.8Z M432.5 377.0L431.8 377.1L431.2 377.0L430.8 376.7L430.4 375.9L430.4 375.4L430.7 374.7L431.0 374.2L431.5 373.9L432.2 373.8L432.8 373.9L433.2 374.2L433.6 374.9L433.6 375.4L433.3 376.2L433.0 376.7L432.5 377.0Z M472.5 377.5L472.2 377.5L471.8 377.2L471.4 376.7L471.2 376.2L471.4 375.7L471.8 375.2L472.2 374.9L472.5 374.9L473.2 375.4L473.6 376.2L473.2 376.9L472.5 377.5Z M324.8 377.9L324.5 377.9L324.2 377.7L323.8 376.9L324.0 376.2L324.5 375.7L325.0 375.9L325.5 376.7L325.2 377.4L324.8 377.9Z M399.2 377.8L399.0 377.9L398.5 377.7L398.0 376.9L397.9 376.7L398.2 376.2L398.8 375.7L399.0 375.7L399.4 375.9L399.9 376.7L399.7 377.2L399.2 377.8Z M389.0 381.0L388.5 380.9L387.8 380.3L387.3 379.4L387.1 378.7L387.3 377.9L387.8 377.2L388.2 376.7L388.8 376.5L389.2 376.6L389.9 377.2L390.4 377.9L390.6 378.7L390.4 379.4L390.0 380.2L389.5 380.7L389.0 381.0Z M422.8 384.0L422.5 384.0L422.0 383.8L421.0 382.9L420.6 382.2L420.4 381.2L420.5 380.2L420.8 379.6L421.5 378.9L422.2 378.5L422.8 378.7L423.5 379.2L424.0 379.9L424.2 380.7L424.2 381.7L423.9 382.7L423.4 383.4L422.8 384.0Z M494.5 383.5L494.0 383.2L493.5 382.4L493.9 381.7L494.5 381.3L495.1 381.7L495.5 382.4L495.0 383.2L494.5 383.5Z M328.0 385.6L327.8 385.6L327.3 385.2L327.0 384.4L327.4 383.7L327.8 383.4L328.0 383.4L328.5 383.8L328.8 384.4L328.5 385.2L328.0 385.6Z M312.5 386.0L312.2 386.0L311.9 385.7L311.5 384.9L311.8 384.2L312.2 383.8L312.5 383.8L313.0 384.2L313.3 384.9L313.0 385.6L312.5 386.0Z M362.0 387.3L361.8 387.3L361.2 387.0L360.9 386.4L360.8 385.9L361.1 385.2L361.8 384.7L362.0 384.7L362.5 385.2L362.8 385.9L362.5 386.7L362.0 387.3Z M400.5 387.6L400.2 387.5L400.0 387.3L399.8 386.9L399.6 386.4L400.0 385.7L400.2 385.5L400.5 385.4L401.0 385.9L401.2 386.4L401.0 387.0L400.5 387.6Z M406.2 388.0L405.9 387.7L405.7 387.2L406.0 386.8L406.2 386.6L406.5 386.7L406.9 387.2L406.7 387.7L406.2 388.0Z M391.8 391.0L391.5 391.1L391.0 390.8L390.7 390.4L390.5 389.9L391.0 389.2L391.5 388.9L392.0 389.2L392.5 389.9L392.2 390.5L391.8 391.0Z M328.8 396.5L328.5 396.6L328.2 396.4L327.9 395.7L328.0 394.9L328.5 394.4L328.8 394.5L329.0 394.7L329.4 395.4L329.2 395.9L328.8 396.5Z M405.8 405.8L405.2 405.9L404.8 405.8L404.0 405.2L403.5 404.4L402.9 402.9L402.4 399.7L402.6 398.4L403.1 397.2L404.0 396.1L404.8 395.7L405.5 396.2L406.2 397.2L407.2 399.2L407.4 400.2L407.4 401.9L407.1 403.7L406.5 404.9L405.8 405.8Z M420.8 421.7L420.2 421.9L419.8 421.8L418.5 420.9L417.6 419.7L417.2 418.4L417.5 417.5L418.0 416.7L418.8 415.8L419.5 415.3L420.2 413.8L421.0 413.0L421.6 412.7L421.3 412.7L421.2 412.9L421.0 412.9L420.8 413.1L420.2 413.0L419.8 412.4L419.0 411.9L418.5 411.4L418.0 410.4L416.9 409.2L416.5 408.4L416.3 407.7L416.3 407.2L416.5 406.5L417.2 405.3L418.2 404.5L419.2 404.1L420.0 404.4L420.8 404.9L421.8 406.2L422.5 406.7L423.0 407.4L423.4 408.7L423.6 410.4L424.0 411.4L423.9 411.9L423.5 412.6L422.4 413.4L422.7 415.2L422.6 416.9L423.2 418.4L423.0 419.2L422.7 419.9L422.1 420.7L421.5 421.3L420.8 421.7Z M489.0 405.2L488.8 405.4L488.5 405.4L488.2 404.9L488.3 404.4L488.8 404.2L489.2 404.7L489.0 405.2Z M315.2 406.5L315.0 406.6L314.8 406.5L314.3 405.7L314.4 404.9L314.8 404.5L315.0 404.4L315.5 404.8L315.8 405.4L315.6 405.9L315.2 406.5Z M354.5 407.8L353.9 407.2L353.5 405.9L353.8 404.9L354.2 404.4L354.5 404.2L354.8 404.4L355.2 404.9L355.5 405.9L355.1 407.2L354.5 407.8Z M404.2 417.3L403.5 417.0L402.5 417.2L401.8 417.0L401.0 415.7L400.7 414.7L400.6 413.9L400.7 413.2L401.0 412.2L401.8 410.9L402.2 410.7L403.0 410.6L403.8 409.9L404.2 409.7L405.0 410.2L405.8 411.2L406.2 412.3L406.5 413.4L406.3 414.7L405.8 415.8L405.0 416.8L404.2 417.3Z M362.5 413.0L362.2 413.0L362.0 412.7L361.6 411.7L362.0 410.7L362.2 410.4L362.5 410.4L363.0 410.9L363.2 411.7L363.0 412.4L362.5 413.0Z M439.8 412.5L439.5 412.6L439.2 412.5L438.8 411.7L438.9 410.9L439.2 410.5L439.5 410.4L440.0 410.8L440.3 411.4L440.1 411.9L439.8 412.5Z M412.2 414.3L412.0 414.2L411.5 413.7L411.1 412.9L411.0 412.4L411.5 411.3L412.0 410.8L412.2 410.7L412.6 410.9L413.0 411.4L413.4 412.4L413.0 413.6L412.7 413.9L412.2 414.3Z M471.5 414.3L471.2 414.3L471.0 413.9L470.6 412.9L471.0 412.0L471.2 411.7L471.5 411.7L471.9 412.2L472.2 412.9L472.0 413.7L471.5 414.3Z M465.2 416.3L465.0 416.4L464.8 416.2L464.3 415.4L464.5 414.8L465.0 414.2L465.2 414.3L465.5 414.5L465.9 415.2L465.8 415.7L465.2 416.3Z M365.0 422.0L364.8 422.2L364.2 421.8L363.9 421.2L363.7 420.4L364.1 419.2L364.5 418.7L364.8 418.6L365.3 419.2L365.6 420.2L365.5 421.2L365.0 422.0Z M407.2 423.2L407.0 423.3L406.5 423.0L406.1 422.4L406.0 421.9L406.3 421.2L407.0 420.7L407.7 421.2L408.0 421.9L407.7 422.7L407.2 423.2Z M433.0 450.7L432.8 450.7L432.5 450.4L432.1 449.2L432.4 448.2L432.3 446.4L432.4 444.9L433.0 443.9L433.4 443.4L434.0 442.1L434.7 441.2L434.6 440.2L435.0 439.1L435.6 438.2L436.6 437.2L436.7 436.7L436.4 435.4L436.5 434.4L436.1 433.7L436.0 433.6L434.8 433.7L434.0 433.5L433.0 432.4L432.4 431.2L431.9 428.4L431.4 426.7L431.2 424.2L431.6 423.4L432.0 423.0L432.2 423.0L433.5 423.4L434.2 423.9L434.6 424.4L435.0 425.5L436.0 426.4L436.7 427.2L437.2 428.2L437.4 428.9L437.5 430.2L437.4 431.7L437.5 431.9L438.2 432.2L439.0 432.8L440.2 434.4L440.2 434.9L439.7 435.9L439.3 438.9L439.7 439.7L439.9 440.7L441.8 441.9L442.5 441.5L443.0 441.7L443.5 442.2L443.6 442.7L443.2 443.3L442.5 443.7L441.9 443.4L441.2 442.8L439.0 442.7L438.0 443.6L437.5 443.8L437.0 443.8L436.2 443.6L435.5 444.4L434.5 445.1L434.2 445.6L433.6 449.7L433.3 450.4L433.0 450.7Z M392.5 425.8L392.2 425.9L391.8 425.7L391.3 424.9L391.2 424.7L391.5 424.2L392.0 423.8L392.2 423.7L392.8 424.0L393.2 424.7L393.0 425.3L392.5 425.8Z M143.5 428.5L143.2 428.5L142.9 428.2L142.8 427.9L142.9 427.7L143.2 427.5L143.5 427.5L143.8 427.9L143.5 428.5Z M381.2 430.5L381.0 430.5L380.6 430.2L380.3 429.7L380.1 429.2L380.4 428.4L381.0 427.9L381.2 427.9L381.6 428.2L381.9 428.7L382.1 429.2L381.8 429.9L381.2 430.5Z M352.5 431.7L352.0 431.7L351.5 431.2L351.2 430.7L351.0 429.9L351.4 428.9L351.8 428.5L352.2 428.2L352.5 428.3L353.0 428.7L353.4 429.2L353.6 429.9L353.3 430.9L352.5 431.7Z M364.5 430.7L364.2 430.9L364.0 430.8L363.7 430.4L363.4 429.9L363.6 429.2L364.0 428.8L364.2 428.7L364.8 429.2L365.0 429.7L364.9 430.2L364.5 430.7Z M414.5 436.0L414.0 436.1L413.2 436.0L412.0 435.4L410.9 434.2L410.5 433.4L410.3 432.7L410.3 432.2L410.5 431.4L411.4 430.2L412.5 429.3L413.8 428.9L414.5 429.0L415.6 429.9L416.4 431.2L416.8 432.4L416.6 433.4L416.1 434.4L415.2 435.4L414.5 436.0Z M423.8 441.7L423.2 441.9L422.8 441.8L421.5 440.9L420.6 439.7L420.2 438.4L420.4 437.7L420.8 436.9L421.2 434.4L422.2 431.9L422.8 431.1L423.5 430.6L424.0 430.8L424.5 431.2L425.1 432.2L425.1 433.2L425.8 435.4L425.9 437.4L426.2 438.4L425.9 439.4L425.3 440.4L424.5 441.3L423.8 441.7Z M264.2 434.7L264.0 434.8L263.8 434.6L263.5 434.2L263.3 433.7L263.5 433.2L264.0 432.6L264.2 432.7L264.5 432.9L264.9 433.7L264.7 434.2L264.2 434.7Z M382.5 436.0L382.2 436.1L381.8 435.9L381.3 434.9L381.5 434.1L381.8 433.7L382.2 433.5L382.8 433.9L383.2 434.7L383.0 435.4L382.5 436.0Z M368.0 439.4L367.8 439.4L367.4 439.2L367.0 438.7L366.8 438.2L367.0 437.4L367.5 436.9L367.8 436.8L368.0 436.8L368.4 437.2L368.7 437.9L368.6 438.7L368.0 439.4Z M355.5 439.7L355.2 439.8L355.0 439.6L354.7 439.2L354.5 438.7L354.8 438.1L355.2 437.6L355.8 437.9L356.1 438.7L355.9 439.2L355.5 439.7Z M375.5 440.5L375.2 440.4L374.8 439.9L374.5 439.2L374.8 438.4L375.2 438.0L375.5 437.9L375.8 438.0L376.2 438.4L376.5 439.2L376.2 439.9L375.8 440.4L375.5 440.5Z M361.5 441.5L361.2 441.6L360.8 441.4L360.3 440.4L360.5 439.6L360.8 439.2L361.2 439.0L361.8 439.4L362.2 440.2L362.0 440.9L361.5 441.5Z M484.2 442.3L484.0 442.3L483.6 441.9L483.2 441.4L483.1 440.9L483.4 440.2L484.0 439.7L484.2 439.7L484.6 439.9L484.9 440.4L485.1 440.9L484.8 441.7L484.2 442.3Z M312.5 442.5L312.2 442.5L311.9 442.2L311.5 441.4L311.8 440.7L312.2 440.3L312.5 440.3L313.0 440.7L313.3 441.4L313.0 442.1L312.5 442.5Z M404.5 442.5L404.2 442.5L403.9 442.2L403.4 441.4L403.8 440.7L404.2 440.3L404.5 440.3L405.0 440.7L405.4 441.4L405.0 442.1L404.5 442.5Z M344.2 444.0L343.9 443.9L343.5 443.6L343.1 442.9L343.0 442.4L343.5 441.4L344.0 441.0L344.2 441.0L345.0 441.6L345.4 442.4L345.0 443.4L344.2 444.0Z M417.5 446.5L417.0 446.5L416.2 446.2L415.5 446.2L414.8 446.1L414.2 445.9L413.8 445.3L413.3 444.4L413.2 443.7L413.6 442.7L414.2 442.0L415.0 441.8L416.2 442.0L417.8 442.6L418.6 443.4L419.0 444.2L418.9 444.9L418.3 445.9L417.5 446.5Z M327.0 445.0L326.5 445.0L325.8 444.7L325.3 444.2L325.0 443.7L325.0 443.2L325.4 442.7L326.0 442.2L326.5 442.0L327.0 442.0L327.8 442.4L328.2 442.9L328.4 443.4L328.3 443.9L328.0 444.3L327.0 445.0Z M285.0 444.0L284.8 444.1L284.2 443.9L283.7 443.2L284.0 442.7L284.5 442.4L284.8 442.3L285.2 442.6L285.7 443.2L285.4 443.7L285.0 444.0Z M507.0 444.5L506.8 444.6L506.2 444.4L505.7 443.7L506.0 443.2L506.5 442.9L506.8 442.8L507.2 443.1L507.7 443.7L507.4 444.2L507.0 444.5Z M391.8 448.0L391.5 448.1L391.0 447.8L390.7 447.4L390.5 446.9L391.0 446.2L391.5 445.9L392.0 446.2L392.5 446.9L392.2 447.5L391.8 448.0Z M313.8 451.5L313.5 451.6L313.2 451.4L312.7 450.9L312.5 450.1L311.0 449.2L310.8 449.1L310.2 449.4L310.0 449.4L309.8 449.2L309.2 448.2L309.3 447.7L309.8 447.0L310.2 446.8L310.5 446.9L311.0 447.4L311.2 448.3L312.8 449.3L313.0 449.3L313.5 449.0L314.0 449.3L314.4 449.9L314.4 450.4L314.2 451.0L313.8 451.5Z M424.8 456.5L424.5 456.7L424.2 456.7L424.0 456.4L422.8 454.4L421.2 453.4L420.7 452.7L420.3 451.7L420.2 450.4L420.6 449.4L421.3 448.4L422.2 447.9L422.8 447.9L423.5 448.5L424.0 449.2L424.5 450.2L424.5 452.9L424.7 454.2L425.2 455.4L424.8 456.5Z M338.2 451.0L337.9 450.9L337.5 450.6L337.1 449.9L337.0 449.4L337.5 448.4L338.0 448.0L338.2 448.0L339.0 448.6L339.4 449.4L339.0 450.4L338.2 451.0Z M382.2 450.3L381.6 449.9L381.2 449.2L381.6 448.4L382.2 448.1L382.8 448.4L383.2 449.2L382.8 449.9L382.2 450.3Z M440.2 451.3L439.8 451.2L439.6 450.9L439.6 450.4L440.5 449.1L441.0 448.7L441.6 449.2L441.8 449.9L441.2 450.8L440.2 451.3Z M363.8 451.5L363.5 451.6L363.0 451.4L362.6 450.9L362.5 450.4L362.6 449.7L363.2 449.0L363.5 449.0L363.8 449.2L364.2 449.7L364.4 450.2L364.2 450.9L363.8 451.5Z M309.2 453.6L309.0 453.6L308.5 453.2L308.1 452.4L308.4 451.9L308.8 451.4L309.2 450.2L309.5 449.8L309.8 449.6L310.0 449.6L310.2 450.9L310.0 452.7L309.7 453.2L309.2 453.6Z M438.0 454.5L437.5 454.5L436.8 453.9L436.3 453.2L436.1 452.4L436.4 451.7L436.8 451.1L437.2 450.6L437.8 450.4L438.2 450.7L438.8 451.2L439.1 451.7L439.3 452.4L439.2 452.9L438.8 453.7L438.0 454.5Z M467.0 453.8L466.8 453.8L466.2 453.5L465.9 452.9L465.8 452.4L466.1 451.7L466.8 451.2L467.0 451.2L467.5 451.7L467.8 452.4L467.5 453.2L467.0 453.8Z M331.5 453.5L331.2 453.6L330.8 453.4L330.4 452.9L330.2 452.4L330.7 451.7L331.2 451.4L331.8 451.7L332.2 452.4L332.0 453.0L331.5 453.5Z M371.0 454.1L370.8 454.2L370.5 454.0L370.0 453.2L370.2 452.5L370.8 452.0L371.2 452.3L371.6 452.9L371.5 453.4L371.0 454.1Z M323.5 454.7L323.0 454.4L322.5 453.7L322.8 452.9L323.5 452.5L324.2 452.9L324.5 453.7L324.0 454.4L323.5 454.7Z M360.2 455.5L360.0 455.6L359.5 455.3L359.1 454.4L359.2 453.6L359.6 453.2L360.0 453.0L360.6 453.4L361.0 454.2L360.8 454.9L360.2 455.5Z M400.2 455.3L400.0 455.4L399.5 455.2L399.0 454.4L398.9 454.2L399.2 453.7L399.8 453.2L400.0 453.2L400.4 453.4L400.9 454.2L400.7 454.7L400.2 455.3Z M417.8 456.0L417.5 456.0L417.1 455.7L416.8 455.2L416.6 454.7L416.9 453.9L417.5 453.4L417.8 453.4L418.1 453.7L418.4 454.2L418.6 454.7L418.3 455.4L417.8 456.0Z M479.0 460.7L478.5 460.9L478.2 460.7L477.8 460.2L477.6 459.7L477.8 458.9L478.5 458.3L479.0 458.5L479.4 458.9L479.5 459.4L479.5 459.9L479.0 460.7Z M374.5 462.5L374.2 462.5L373.9 462.2L373.4 461.4L373.8 460.7L374.2 460.3L374.5 460.3L375.0 460.7L375.4 461.4L375.0 462.1L374.5 462.5Z M379.2 463.5L379.0 463.6L378.5 463.4L378.0 462.7L377.9 462.4L378.2 461.9L378.8 461.4L379.0 461.4L379.4 461.7L379.9 462.4L379.7 462.9L379.2 463.5Z M300.8 469.5L300.4 469.4L300.0 469.1L299.6 468.4L299.5 467.9L300.0 466.9L300.5 466.5L300.8 466.5L301.5 467.1L301.9 467.9L301.5 468.9L300.8 469.5Z M441.5 469.8L441.2 469.8L440.9 469.4L440.5 468.9L440.4 468.4L440.6 467.9L440.9 467.4L441.2 467.2L441.5 467.2L442.1 467.7L442.4 468.4L442.1 469.2L441.5 469.8Z M420.2 472.7L419.8 472.2L419.5 471.4L419.8 470.6L420.2 470.1L420.8 470.5L421.1 471.4L420.8 472.3L420.5 472.6L420.2 472.7Z M331.5 472.3L331.2 472.4L330.8 472.2L330.3 471.4L330.2 471.2L330.5 470.7L331.0 470.3L331.2 470.2L331.8 470.5L332.2 471.2L332.0 471.8L331.5 472.3Z M363.5 473.2L363.2 473.2L363.0 472.9L362.8 472.4L363.0 471.9L363.2 471.6L363.5 471.6L363.8 471.9L364.0 472.4L363.8 472.9L363.5 473.2Z M438.0 476.0L437.8 475.9L437.3 475.4L437.0 474.7L437.3 473.9L437.8 473.5L438.0 473.4L438.2 473.5L438.7 473.9L439.0 474.7L438.7 475.4L438.2 475.9L438.0 476.0Z M294.2 477.0L293.9 476.9L293.5 476.6L293.1 475.9L293.0 475.4L293.5 474.4L294.0 474.0L294.2 474.0L295.0 474.6L295.4 475.4L295.0 476.4L294.2 477.0Z M308.8 477.0L308.4 476.9L308.0 476.6L307.6 475.9L307.5 475.4L308.0 474.4L308.5 474.0L308.8 474.0L309.5 474.6L309.9 475.4L309.5 476.4L308.8 477.0Z M452.0 478.2L451.3 477.7L451.0 476.9L451.3 476.2L451.7 475.7L452.0 475.6L452.3 475.7L452.7 476.2L453.0 476.9L452.7 477.7L452.0 478.2Z M416.5 478.0L416.0 477.7L415.5 476.9L415.9 476.2L416.5 475.8L417.1 476.2L417.5 476.9L417.0 477.7L416.5 478.0Z M355.8 479.3L355.5 479.3L355.1 478.9L354.7 478.4L354.6 477.9L354.9 477.2L355.5 476.7L355.8 476.7L356.1 476.9L356.4 477.4L356.6 477.9L356.3 478.7L355.8 479.3Z M388.0 480.3L387.8 480.4L387.3 480.2L387.0 479.7L386.8 479.2L386.9 478.7L387.2 478.2L387.5 477.9L387.8 477.8L388.2 478.2L388.6 478.9L388.4 479.7L388.0 480.3Z M283.0 482.9L282.8 482.8L282.5 482.6L282.2 481.9L282.5 481.4L282.8 481.2L283.0 481.1L283.3 481.4L283.6 481.9L283.4 482.4L283.0 482.9Z M314.2 484.0L313.9 483.9L313.5 483.6L313.1 482.9L313.0 482.4L313.5 481.4L314.0 481.0L314.2 481.0L315.0 481.6L315.4 482.4L315.0 483.4L314.2 484.0Z M332.2 485.8L331.7 485.4L331.3 484.9L331.2 484.4L331.5 483.7L332.0 483.2L332.2 483.2L332.9 483.7L333.2 484.4L332.9 485.2L332.2 485.8Z M343.5 487.0L343.2 487.0L342.9 486.7L342.6 486.2L342.4 485.7L342.6 485.2L342.9 484.7L343.2 484.4L343.5 484.4L344.1 484.9L344.4 485.7L344.1 486.4L343.5 487.0Z M401.8 488.1L401.5 488.2L401.0 488.0L400.7 487.7L400.4 487.2L400.7 486.4L401.2 486.0L401.5 486.0L401.8 486.2L402.3 486.9L402.3 487.4L401.8 488.1Z M328.2 490.5L327.9 490.4L327.5 490.1L327.1 489.4L327.0 488.9L327.5 487.9L328.0 487.5L328.2 487.5L329.0 488.1L329.4 488.9L329.0 489.9L328.2 490.5Z M420.8 491.5L420.0 491.4L419.5 491.2L418.8 490.4L418.5 489.9L418.7 489.4L419.3 488.7L419.8 488.4L420.5 488.2L421.0 488.2L421.5 488.5L422.0 489.2L422.1 489.7L422.1 490.2L421.8 490.8L421.2 491.3L420.8 491.5Z M383.0 492.3L382.5 491.9L382.2 490.9L382.5 490.1L383.0 489.7L383.5 490.1L383.8 490.9L383.5 491.9L383.0 492.3Z M442.2 493.5L441.9 493.2L441.6 492.4L441.8 491.7L442.0 491.4L442.2 491.3L442.6 491.7L442.8 492.4L442.5 493.2L442.2 493.5Z M323.2 496.0L322.9 495.9L322.5 495.6L322.1 494.9L322.0 494.4L322.5 493.4L323.0 493.0L323.2 493.0L324.0 493.6L324.4 494.4L324.0 495.4L323.2 496.0Z M270.0 495.3L269.5 495.0L269.2 494.4L269.5 493.8L270.0 493.5L270.5 493.8L270.8 494.4L270.5 495.0L270.0 495.3Z M342.2 501.7L341.6 501.2L341.3 500.4L341.6 499.7L342.2 499.1L342.8 499.4L343.2 499.9L343.3 500.4L343.0 501.2L342.5 501.7L342.2 501.7Z M351.2 510.6L351.0 510.6L350.7 510.4L350.3 509.9L350.2 509.4L350.3 508.7L351.0 508.0L351.2 508.0L351.7 508.4L352.1 509.2L351.9 509.9L351.2 510.6Z M327.2 511.3L326.7 510.9L326.3 510.4L326.2 509.9L326.5 509.2L327.0 508.7L327.2 508.7L327.9 509.2L328.2 509.9L327.9 510.7L327.2 511.3Z M269.5 511.8L269.2 511.9L268.8 511.7L268.3 510.9L268.2 510.7L268.5 510.2L269.0 509.8L269.2 509.7L269.8 510.0L270.2 510.7L270.0 511.3L269.5 511.8Z M321.0 514.2L320.5 514.3L320.0 514.0L319.7 513.5L319.5 513.0L320.0 512.1L320.8 511.7L321.5 512.2L321.9 513.0L321.6 513.7L321.0 514.2Z M361.2 518.3L361.0 518.3L360.6 518.0L360.2 517.5L360.1 517.0L360.4 516.2L361.0 515.7L361.2 515.7L361.6 516.0L361.9 516.5L362.1 517.0L361.8 517.7L361.2 518.3Z M363.5 523.9L363.2 523.9L362.9 523.7L362.5 523.2L362.3 522.7L362.5 522.0L363.0 521.5L363.2 521.3L363.5 521.3L363.9 521.7L364.2 522.5L364.1 523.2L363.5 523.9Z M305.8 543.6L305.5 543.5L305.2 543.2L304.9 542.5L305.2 541.7L305.8 541.4L306.2 541.9L306.5 542.5L306.2 543.1L305.8 543.6Z M364.2 549.3L364.0 549.4L363.5 549.1L363.0 548.2L363.2 547.4L363.7 547.0L364.0 546.8L364.6 547.2L364.9 548.0L364.8 548.7L364.2 549.3Z M439.2 347.0L438.5 347.0L438.1 346.7L437.9 346.2L437.9 345.2L438.2 344.7L438.5 344.5L439.2 344.8L439.8 345.4L439.9 345.9L439.9 346.4L439.5 346.9L439.2 347.0Z M342.8 371.7L342.2 371.9L341.9 371.7L341.6 371.2L341.6 370.7L341.7 369.9L342.2 369.4L342.5 369.4L342.8 369.6L343.1 370.2L343.1 371.2L342.8 371.7Z M432.0 375.7L431.2 375.7L431.3 375.4L431.9 375.2L432.8 375.2L432.7 375.4L432.0 375.7Z M389.0 380.1L388.8 380.1L388.2 379.8L387.8 378.9L387.8 378.4L388.0 378.1L388.3 377.7L388.8 377.4L389.0 377.4L389.5 377.8L389.9 378.7L389.7 379.4L389.0 380.1Z M422.5 382.7L422.0 382.4L421.6 381.7L421.5 380.9L421.5 380.2L421.8 379.9L422.2 379.6L422.9 379.9L423.2 380.7L422.9 382.2L422.5 382.7Z M405.5 404.5L404.8 404.3L404.2 403.7L403.9 402.7L403.6 401.4L403.6 400.2L403.7 399.4L404.2 398.4L404.8 398.0L405.2 398.1L405.8 398.6L406.2 399.4L406.4 400.2L406.4 401.7L406.3 403.2L406.0 403.9L405.5 404.5Z M420.8 410.0L420.0 409.9L419.5 409.7L418.3 407.9L418.1 407.4L418.2 407.2L418.5 406.7L419.0 406.3L419.2 406.3L419.8 406.5L421.1 407.9L421.3 408.7L421.3 409.4L421.0 409.9L420.8 410.0Z M402.5 415.7L402.0 415.7L401.8 415.5L401.4 414.9L401.3 413.9L401.5 412.9L401.8 412.5L402.2 412.2L403.0 412.1L403.8 412.3L404.2 412.1L404.8 412.6L405.0 413.2L405.0 413.7L404.8 414.2L404.5 414.7L403.8 415.2L403.2 415.5L402.5 415.7Z M420.2 419.7L420.0 419.7L419.5 419.3L419.1 418.4L419.5 417.7L420.0 417.3L420.2 417.3L420.9 417.7L421.3 418.4L421.0 419.2L420.2 419.7Z M435.8 432.3L435.0 432.4L434.2 432.2L433.8 431.7L433.3 430.7L433.1 429.4L433.1 428.4L433.6 427.4L434.2 427.0L434.8 427.1L435.5 427.5L436.0 428.0L436.3 428.7L436.5 429.9L436.5 431.2L436.2 431.8L435.8 432.3Z M414.0 435.0L413.2 434.9L412.5 434.3L411.9 433.4L411.7 432.4L412.0 431.4L412.5 430.7L413.1 430.2L413.8 430.0L414.5 430.2L415.1 430.7L415.6 431.4L415.9 432.4L415.8 433.2L415.2 434.1L414.5 434.8L414.0 435.0Z M423.2 439.7L423.0 439.7L422.5 439.3L422.1 438.4L422.2 437.2L422.5 435.9L423.0 434.8L423.2 434.5L423.5 434.4L423.8 434.7L424.2 435.9L424.5 437.7L424.4 438.2L424.1 438.9L423.8 439.5L423.2 439.7Z M437.2 441.7L437.0 441.7L436.5 441.2L436.2 440.4L436.6 439.7L437.0 439.3L437.2 439.3L437.8 439.7L438.2 440.4L437.9 441.2L437.2 441.7Z M416.8 444.5L415.5 444.6L414.5 444.5L414.2 443.9L414.2 443.4L414.5 443.2L415.6 443.4L416.4 443.9L416.8 444.5Z M422.8 452.8L422.2 452.9L421.8 452.7L421.4 452.2L421.0 451.4L421.0 450.7L421.2 449.9L421.8 449.2L422.2 448.9L422.5 448.9L423.0 449.2L423.5 449.9L423.7 450.4L423.7 451.2L423.4 452.2L423.2 452.4L422.8 452.8Z M421.0 490.5L420.5 490.5L419.8 490.3L419.3 489.9L419.4 489.7L420.0 489.3L421.0 489.1L421.2 489.3L421.4 489.7L421.3 490.2L421.0 490.5Z M389.0 379.3L388.8 379.3L388.4 378.9L388.5 378.4L388.8 378.2L389.0 378.2L389.3 378.7L389.0 379.3Z M405.0 401.2L404.8 401.1L404.5 400.2L404.5 399.4L404.8 399.2L405.1 399.4L405.2 399.9L405.2 400.7L405.0 401.2Z M434.8 430.1L434.5 430.1L434.2 429.9L434.0 429.2L434.0 428.4L434.2 428.2L434.8 428.4L435.0 428.9L435.0 429.7L434.8 430.1Z M414.2 434.0L413.8 434.0L413.2 433.8L412.8 433.4L412.4 432.7L412.5 432.2L412.7 431.7L413.0 431.3L413.5 431.1L414.0 431.0L414.5 431.2L415.1 432.2L415.2 432.7L415.0 433.2L414.2 434.0Z M422.2 452.0L422.0 451.8L421.8 451.4L421.8 450.7L422.0 450.1L422.5 449.8L422.9 450.2L423.0 450.9L422.8 451.7L422.2 452.0Z" fill="none" stroke="#e02828" stroke-width="1" opacity="0.95"/>
<path d="M476.8 278.2L476.5 278.3L476.0 278.2L475.0 277.4L474.2 276.2L473.7 274.7L473.9 273.7L474.5 272.4L475.3 271.4L476.2 270.9L477.0 271.1L478.0 272.0L478.7 273.2L479.1 274.4L478.9 275.4L478.4 276.7L477.5 277.7L476.8 278.2Z M379.5 295.2L379.0 295.4L378.8 295.4L377.8 294.6L376.9 293.2L376.6 291.7L376.8 290.4L377.5 289.2L378.2 288.3L379.0 288.0L379.8 288.3L380.5 289.2L381.2 290.4L381.4 291.7L381.2 292.7L380.8 293.7L380.2 294.6L379.5 295.2Z M427.2 325.3L426.8 325.4L426.5 325.3L425.6 324.7L424.8 323.7L424.4 322.4L424.6 321.4L425.1 320.4L426.0 319.5L426.8 319.2L427.5 319.5L428.3 320.2L428.9 321.2L429.2 322.2L429.1 322.9L428.6 323.9L428.0 324.7L427.2 325.3Z M480.8 332.7L479.8 332.2L479.0 331.3L478.4 330.2L478.1 328.9L478.4 327.7L479.0 326.7L479.9 325.7L480.8 325.3L481.5 325.6L482.5 326.5L483.2 327.7L483.5 328.9L483.2 330.2L482.5 331.4L481.5 332.4L480.8 332.7Z M422.5 332.0L421.8 331.8L420.8 331.1L420.0 330.1L419.6 328.9L419.9 327.9L420.5 326.9L421.3 326.2L422.2 325.8L423.0 326.0L424.0 326.8L424.7 327.9L425.0 328.9L424.8 329.8L424.2 330.7L423.5 331.4L422.5 332.0Z M526.8 331.0L526.2 331.0L525.5 330.6L524.8 329.7L524.5 328.7L524.6 327.9L525.0 327.2L525.7 326.4L526.2 326.2L526.8 326.2L527.5 326.8L528.1 327.7L528.3 328.4L528.2 329.2L527.8 329.9L527.2 330.6L526.8 331.0Z M409.5 336.5L409.0 336.6L408.8 336.6L408.2 336.3L407.6 335.7L406.7 334.4L406.3 332.9L406.6 331.7L407.2 330.5L408.2 329.5L409.0 329.2L409.8 329.5L410.7 330.4L411.3 331.4L411.7 332.7L411.6 333.7L411.0 334.9L410.2 335.9L409.5 336.5Z M365.0 337.5L364.2 337.2L363.3 336.2L362.7 334.9L362.5 333.7L362.8 332.4L363.5 331.2L364.2 330.4L365.0 330.1L365.8 330.5L366.5 331.4L367.0 332.4L367.3 333.7L367.1 334.9L366.5 336.2L365.8 337.1L365.0 337.5Z M376.2 336.6L375.8 336.6L375.0 335.9L374.6 335.2L374.4 334.2L374.5 333.4L375.0 332.5L375.5 332.0L376.0 331.7L376.5 332.0L377.0 332.5L377.5 333.4L377.6 334.2L377.5 334.9L377.1 335.7L376.8 336.2L376.2 336.6Z M441.2 349.2L440.8 349.3L440.2 349.1L439.0 348.2L438.1 346.9L437.7 345.7L438.0 344.4L438.8 343.2L439.8 342.3L440.8 341.9L441.8 342.2L442.8 342.9L443.7 344.2L444.1 345.4L444.0 346.4L443.3 347.7L442.2 348.7L441.2 349.2Z M315.0 350.0L314.8 350.0L314.2 349.8L313.5 349.0L312.9 347.9L312.6 346.9L312.8 345.9L313.4 344.9L314.0 344.2L314.8 343.8L315.5 344.1L316.2 344.9L316.8 345.9L317.0 346.9L316.7 347.9L316.2 348.8L315.7 349.4L315.0 350.0Z M353.0 352.0L352.5 352.1L352.2 352.1L351.8 351.8L351.1 351.2L350.2 349.9L349.8 348.4L350.1 347.2L350.8 346.0L351.8 345.0L352.5 344.7L353.2 345.0L354.2 345.9L354.8 346.9L355.2 348.2L355.1 349.2L354.5 350.4L353.8 351.4L353.0 352.0Z M516.8 352.5L516.0 352.7L515.5 352.4L514.8 351.9L514.0 350.9L513.5 349.7L513.7 348.7L514.4 347.7L515.2 346.9L516.2 346.5L517.2 346.9L518.0 347.6L518.5 348.4L518.9 349.4L518.8 350.2L518.3 351.2L517.5 352.1L516.8 352.5Z M499.0 356.7L498.8 356.8L498.2 356.6L497.5 355.8L496.8 354.4L496.5 353.2L496.7 351.9L497.3 350.7L498.0 349.8L498.8 349.4L499.5 349.9L500.1 350.7L500.6 351.7L500.9 352.9L500.7 353.9L500.3 355.2L499.8 356.0L499.0 356.7Z M453.5 358.7L453.0 358.8L452.8 358.7L451.7 357.9L450.9 356.7L450.4 355.2L450.7 353.9L451.2 352.8L452.0 351.9L453.0 351.4L453.8 351.6L454.8 352.6L455.4 353.7L455.8 354.9L455.6 355.9L455.1 357.2L454.2 358.2L453.5 358.7Z M475.5 361.3L475.2 361.3L474.8 361.0L474.1 360.2L473.5 358.9L473.2 357.7L473.4 356.4L474.0 355.2L474.8 354.2L475.2 353.9L475.5 353.9L476.2 354.4L476.9 355.4L477.4 356.7L477.6 357.7L477.3 358.9L476.8 359.9L476.2 360.8L475.5 361.3Z M512.8 361.5L512.2 361.5L511.8 361.3L510.6 360.4L509.7 359.2L509.3 357.9L509.5 356.7L510.3 355.4L511.5 354.4L512.5 354.1L513.5 354.4L514.5 355.3L515.3 356.4L515.7 357.7L515.5 358.8L514.8 360.0L513.8 361.0L512.8 361.5Z M406.2 365.7L405.5 365.2L404.8 364.2L404.3 362.9L404.1 361.9L404.3 360.9L404.8 359.7L405.5 358.8L406.2 358.3L407.0 358.7L407.6 359.4L408.2 360.7L408.5 361.9L408.2 363.2L407.7 364.4L407.0 365.3L406.2 365.7Z M379.5 365.8L379.0 365.9L378.8 365.8L377.6 364.9L376.8 363.7L376.4 362.2L376.6 361.2L377.2 359.9L378.1 358.9L379.0 358.5L379.8 358.7L380.8 359.7L381.5 360.9L381.8 362.2L381.6 363.2L381.0 364.4L380.2 365.3L379.5 365.8Z M445.5 369.7L445.0 369.9L444.5 369.8L443.8 369.3L443.2 368.7L441.5 367.8L440.3 366.4L439.6 364.9L439.5 363.7L440.1 361.9L441.2 360.5L441.9 359.9L442.5 359.7L443.0 359.7L443.5 360.0L444.5 360.8L446.8 363.9L447.5 365.4L447.6 366.4L447.2 367.7L446.5 368.8L445.5 369.7Z M495.0 369.5L494.5 369.5L493.8 369.2L493.0 368.6L492.4 367.9L491.9 367.2L491.5 366.2L491.5 365.7L491.6 364.9L492.3 363.7L493.5 362.6L494.5 362.1L495.6 362.2L495.9 361.9L496.5 360.9L497.2 360.3L498.0 359.9L498.5 360.0L499.5 360.8L500.4 362.2L500.8 363.4L500.6 364.7L500.0 365.8L499.2 366.7L498.5 367.2L497.4 367.4L496.2 368.8L495.0 369.5Z M461.8 375.5L461.5 375.5L461.0 375.4L460.0 374.5L459.3 373.4L458.8 372.2L458.8 371.4L459.1 370.4L459.7 369.4L460.5 368.5L460.5 368.2L460.2 367.4L460.0 367.2L459.8 367.3L459.2 367.7L458.8 367.9L458.2 367.6L457.8 367.1L457.2 366.3L456.7 364.7L456.7 363.7L457.2 362.2L458.0 361.0L458.8 360.5L459.2 360.7L460.0 361.5L460.5 362.4L461.0 363.7L461.2 363.8L462.0 363.3L462.8 363.6L463.7 364.7L464.2 365.9L464.3 366.4L464.1 367.2L463.8 368.0L463.2 368.7L463.2 369.2L464.0 370.9L464.2 371.7L464.1 372.4L463.8 373.4L463.2 374.2L462.5 375.0L461.8 375.5Z M505.8 368.2L505.2 368.4L505.0 368.3L504.2 367.6L503.5 366.2L503.1 364.7L503.3 363.7L503.8 362.4L504.5 361.5L505.2 361.0L506.0 361.4L506.6 362.2L507.2 363.4L507.5 364.7L507.3 365.7L506.9 366.7L506.3 367.7L505.8 368.2Z M454.0 372.0L453.8 372.1L453.2 372.0L452.2 371.2L451.4 369.9L451.0 368.4L451.3 367.2L452.0 365.9L453.0 365.0L453.8 364.7L454.7 365.2L455.5 366.1L456.1 367.2L456.4 368.4L456.2 369.4L455.5 370.7L454.8 371.6L454.0 372.0Z M513.8 372.2L513.5 372.3L513.0 372.1L512.2 371.3L511.6 369.9L511.3 368.7L511.5 367.4L512.1 366.2L512.8 365.3L513.5 364.9L514.2 365.3L514.9 366.2L515.4 367.2L515.7 368.4L515.5 369.4L515.1 370.7L514.5 371.6L513.8 372.2Z M344.0 373.0L343.5 373.1L343.0 372.8L341.9 371.7L341.4 370.7L341.3 369.2L341.5 367.9L342.1 366.7L343.0 365.7L343.8 365.4L344.5 365.8L345.2 366.6L345.8 367.7L346.1 368.9L345.9 370.7L345.6 371.4L344.8 372.4L344.0 373.0Z M503.0 374.3L502.5 374.4L502.2 374.4L501.8 374.1L501.0 373.4L500.2 372.2L499.8 370.7L500.1 369.4L500.8 368.3L501.5 367.4L502.5 367.0L503.5 367.4L504.2 368.3L504.9 369.4L505.2 370.7L505.0 371.7L504.5 372.7L503.8 373.7L503.0 374.3Z M497.5 376.5L497.0 376.6L496.8 376.6L496.2 376.3L495.6 375.7L494.7 374.4L494.3 372.9L494.6 371.7L495.2 370.5L496.2 369.5L497.0 369.2L497.8 369.5L498.7 370.4L499.3 371.4L499.7 372.7L499.6 373.7L499.0 374.9L498.2 375.9L497.5 376.5Z M437.0 377.8L436.5 377.9L436.0 377.7L435.0 377.0L434.2 375.9L434.0 375.2L433.9 374.7L434.2 373.7L434.9 372.7L436.0 371.7L437.2 370.9L438.0 371.2L438.8 372.2L439.4 373.4L439.5 374.4L439.4 375.2L438.9 376.2L437.8 377.4L437.0 377.8Z M473.8 379.2L472.8 378.9L471.6 377.9L470.8 376.7L470.4 375.4L470.8 374.2L471.7 372.9L472.8 372.1L473.8 371.8L474.8 372.2L475.8 373.0L476.6 374.2L477.0 375.4L476.6 376.7L475.8 377.9L474.8 378.8L473.8 379.2Z M408.8 378.8L408.0 378.7L407.0 377.9L406.2 376.9L405.8 375.7L406.1 374.7L406.8 373.7L407.6 372.9L408.5 372.6L409.4 372.9L410.2 373.7L410.9 374.7L411.2 375.7L411.0 376.5L410.5 377.4L409.7 378.2L408.8 378.8Z M326.5 379.0L325.8 379.2L324.8 378.6L323.9 377.4L323.5 376.2L323.7 375.2L324.2 374.2L325.0 373.4L325.8 373.0L326.5 373.2L327.4 373.9L328.0 374.9L328.3 375.9L328.2 376.7L327.8 377.7L327.2 378.4L326.5 379.0Z M400.8 379.0L400.0 379.2L399.5 378.9L398.8 378.4L398.0 377.4L397.5 376.2L397.7 375.2L398.4 374.2L399.2 373.4L400.2 373.0L401.2 373.4L402.0 374.1L402.5 374.9L402.9 375.9L402.8 376.7L402.3 377.7L401.5 378.6L400.8 379.0Z M390.5 381.2L390.0 381.3L389.5 381.1L388.7 380.4L387.9 379.2L387.5 377.9L387.8 377.0L388.2 376.1L389.0 375.3L390.0 374.8L390.8 375.0L391.8 375.7L392.5 376.7L392.9 377.7L392.8 378.6L392.2 379.7L391.3 380.7L390.5 381.2Z M463.8 381.5L463.2 381.7L463.0 381.7L462.2 381.1L461.4 379.9L461.0 378.7L461.2 377.7L461.8 376.7L462.5 375.8L463.2 375.5L463.8 375.7L464.5 376.4L465.1 377.4L465.4 378.4L465.3 379.2L464.9 380.2L464.3 380.9L463.8 381.5Z M424.2 386.0L423.8 386.1L423.2 386.0L422.5 385.6L421.8 385.0L420.5 383.4L420.0 381.9L420.1 381.2L420.7 379.4L421.2 378.2L422.2 377.0L423.0 376.5L423.5 376.4L424.0 376.5L424.7 376.9L425.9 378.2L427.2 380.4L427.6 381.7L427.3 382.9L426.5 384.3L425.5 385.3L424.2 386.0Z M496.0 384.8L495.2 384.6L494.2 383.9L493.5 382.9L493.1 381.7L493.4 380.7L494.0 379.7L494.9 378.9L495.8 378.6L496.5 378.8L497.5 379.6L498.2 380.7L498.5 381.7L498.3 382.4L497.8 383.5L497.0 384.2L496.0 384.8Z M329.8 386.7L329.0 386.9L328.0 386.2L327.2 385.2L326.8 383.9L327.0 382.9L327.5 381.9L328.5 381.0L329.2 380.7L330.0 381.0L330.8 381.8L331.3 382.7L331.6 383.7L331.5 384.4L331.0 385.4L330.4 386.2L329.8 386.7Z M314.0 387.2L313.8 387.3L313.2 387.2L312.2 386.4L311.5 385.2L311.3 384.2L311.5 383.2L312.1 382.2L313.0 381.4L313.8 381.1L314.5 381.4L315.3 382.2L315.9 383.2L316.1 384.2L316.0 384.9L315.5 385.9L314.8 386.8L314.0 387.2Z M363.2 389.0L362.5 388.8L361.5 387.9L360.8 386.7L360.4 385.4L360.6 384.2L361.2 383.0L362.0 382.2L363.0 381.6L363.8 381.8L364.8 382.8L365.5 383.9L365.8 385.2L365.6 386.2L365.0 387.5L364.2 388.4L363.2 389.0Z M402.0 388.8L401.8 388.9L401.2 388.7L400.5 388.1L399.8 386.9L399.5 385.9L399.7 384.9L400.2 383.9L401.0 383.0L401.8 382.7L402.5 383.1L403.0 383.7L403.6 384.7L403.9 385.7L403.7 386.7L403.2 387.6L402.8 388.2L402.0 388.8Z M393.2 392.3L392.5 392.3L391.4 391.7L390.6 390.7L390.1 389.4L390.3 388.4L390.9 387.4L391.8 386.6L392.8 386.2L393.5 386.4L394.5 387.2L395.2 388.2L395.5 389.2L395.4 389.9L394.8 390.9L394.0 391.8L393.2 392.3Z M330.2 397.8L330.0 397.9L329.5 397.8L328.8 397.1L328.1 396.2L327.7 394.9L327.9 393.9L328.4 392.9L329.0 392.2L329.8 391.7L330.0 391.7L330.5 392.0L331.2 392.7L331.8 393.7L332.1 394.7L332.0 395.4L331.5 396.5L331.0 397.2L330.2 397.8Z M405.5 419.2L405.0 419.1L404.2 418.6L402.9 416.9L401.9 414.7L401.6 412.7L401.8 411.2L402.5 409.5L403.2 408.2L404.3 406.9L404.5 406.4L402.3 400.2L402.1 398.9L402.2 397.7L402.8 395.9L403.8 394.2L405.0 392.8L406.0 392.4L406.8 392.7L407.8 393.5L408.6 394.7L409.3 396.2L409.9 398.4L409.7 400.9L410.1 402.9L409.9 404.2L409.5 405.4L408.9 406.7L408.0 407.9L408.0 408.4L408.8 410.2L409.3 411.9L409.4 412.9L409.1 414.4L408.5 416.2L407.5 417.7L406.5 418.8L405.5 419.2Z M319.0 404.7L318.8 404.8L318.2 404.6L317.5 404.0L316.9 402.9L316.5 401.7L316.8 400.7L317.3 399.7L318.0 398.9L318.8 398.6L319.5 399.0L320.1 399.7L320.6 400.7L320.9 401.7L320.7 402.4L320.2 403.5L319.7 404.2L319.0 404.7Z M422.0 423.5L421.2 423.5L420.5 423.3L419.5 422.7L418.8 422.1L417.4 420.4L416.9 419.4L416.5 418.4L416.5 417.4L417.0 415.9L418.1 414.2L419.5 412.9L419.6 412.7L419.5 412.4L418.2 411.4L416.8 410.0L416.5 409.9L416.4 410.2L416.7 411.9L416.6 412.9L416.2 413.9L415.6 414.9L415.0 415.8L414.2 416.4L413.5 416.8L412.8 416.4L411.8 415.5L411.1 414.4L410.5 413.2L410.3 411.9L410.4 410.9L410.9 409.4L411.8 407.9L411.9 407.4L410.9 404.9L410.7 403.9L410.9 403.2L411.3 401.9L412.0 400.6L412.8 399.7L413.8 399.1L414.0 399.1L414.5 399.2L415.5 400.0L416.4 401.2L417.0 402.7L417.2 402.8L417.5 402.8L419.0 401.6L420.2 401.1L421.2 401.2L422.6 401.9L423.5 402.8L424.5 403.9L426.0 407.0L427.2 408.4L428.0 409.9L428.1 410.9L427.8 412.2L427.1 413.4L425.8 414.9L425.8 415.4L426.3 416.7L426.6 417.7L426.5 418.4L426.1 419.4L425.4 420.7L424.4 421.9L423.2 422.9L422.0 423.5Z M356.0 410.2L355.8 410.2L355.2 410.0L354.2 408.9L353.5 407.2L353.1 405.4L353.3 403.9L354.0 402.2L354.9 400.9L355.8 400.4L356.5 400.7L357.5 402.0L358.2 403.7L358.5 405.2L358.3 406.7L357.7 408.2L356.9 409.4L356.0 410.2Z M368.0 414.0L367.2 413.6L366.6 412.7L366.0 411.4L365.8 410.2L366.0 409.2L366.6 407.9L367.2 407.0L368.0 406.6L368.8 407.0L369.4 407.9L370.0 409.2L370.2 410.2L370.0 411.4L369.4 412.7L368.8 413.6L368.0 414.0Z M466.8 417.6L466.2 417.7L465.5 417.2L464.3 415.4L463.2 414.8L462.5 414.2L462.0 413.4L461.7 412.7L461.6 411.9L462.2 410.7L463.0 409.7L464.0 409.2L464.5 409.1L465.0 409.3L466.0 410.1L467.9 412.7L468.4 413.7L468.6 414.7L468.3 415.7L467.5 416.9L466.8 417.6Z M380.0 421.2L379.8 421.3L379.2 421.1L378.5 420.3L377.8 418.9L377.5 417.7L377.7 416.4L378.3 415.2L379.0 414.3L379.8 413.9L380.5 414.4L381.1 415.2L381.6 416.2L381.9 417.4L381.7 418.4L381.3 419.7L380.8 420.5L380.0 421.2Z M366.2 424.6L366.0 424.6L365.5 424.4L365.0 424.0L364.4 423.2L363.6 421.4L363.3 419.7L363.5 418.2L364.2 416.5L365.2 415.2L366.0 414.8L366.8 415.2L367.8 416.5L368.5 418.2L368.7 419.7L368.5 421.2L367.9 422.7L367.0 423.9L366.2 424.6Z M476.8 425.3L476.5 425.4L476.0 425.2L475.2 424.4L474.6 422.9L474.3 421.7L474.6 420.4L475.2 419.2L475.8 418.4L476.5 418.0L477.2 418.4L477.8 419.2L478.4 420.4L478.7 421.7L478.5 422.7L478.0 423.9L477.5 424.7L476.8 425.3Z M440.2 457.3L439.8 457.4L439.2 457.1L437.1 454.9L436.2 453.7L435.7 451.9L435.5 451.7L434.8 452.5L434.2 452.8L434.0 452.8L433.5 452.4L433.0 451.7L432.5 450.7L432.0 448.7L432.1 447.7L432.6 445.9L432.2 444.2L432.3 443.4L432.8 442.2L433.9 440.7L434.1 439.2L434.4 438.2L435.0 436.9L435.8 435.8L435.8 435.4L435.8 435.1L434.8 434.2L433.7 432.7L432.3 430.4L431.6 428.4L431.6 427.7L431.7 426.9L432.0 425.9L432.6 424.7L433.2 423.6L434.0 422.8L435.2 422.1L435.8 422.1L436.5 422.3L436.8 422.2L437.8 421.1L438.8 420.6L439.5 420.9L440.2 421.5L441.0 422.6L441.4 423.7L441.5 424.4L441.2 425.4L440.7 426.4L439.9 427.4L439.9 427.9L440.8 429.9L441.2 430.6L442.0 431.2L442.8 432.0L443.2 432.8L443.6 433.7L443.6 434.2L443.5 434.9L442.3 436.9L442.3 437.4L442.8 438.7L443.2 438.9L444.5 438.7L445.8 437.6L446.8 436.9L447.5 436.7L450.0 436.2L451.0 436.6L452.0 437.5L452.8 438.7L453.2 439.9L452.6 441.7L451.8 442.9L450.2 444.4L448.8 445.2L448.0 445.4L447.5 445.3L446.8 445.0L445.8 444.4L445.2 444.4L444.0 445.0L443.5 445.0L442.8 444.7L441.5 443.8L441.1 443.9L440.2 444.7L439.2 445.4L438.5 445.6L437.5 445.4L437.2 445.6L436.5 446.7L436.2 447.4L436.3 449.2L436.5 449.4L437.2 448.5L438.0 447.8L438.8 447.4L439.2 447.4L440.2 447.9L441.0 448.8L441.8 449.9L442.2 451.2L442.3 451.9L442.1 452.9L442.1 454.4L441.9 455.2L441.2 456.4L440.2 457.3Z M394.0 427.1L393.2 427.2L392.1 426.4L391.2 425.4L390.8 424.2L391.0 423.2L391.7 422.2L392.5 421.4L393.5 421.0L394.2 421.3L395.2 422.1L395.8 422.9L396.2 423.9L396.1 424.7L395.6 425.7L394.8 426.6L394.0 427.1Z M375.2 430.2L374.5 429.8L373.8 428.9L373.3 427.7L373.0 426.4L373.3 425.2L373.9 423.9L374.5 423.2L375.2 422.8L376.0 423.3L376.7 424.2L377.2 425.4L377.4 426.4L377.2 427.4L376.7 428.7L376.0 429.7L375.2 430.2Z M467.8 433.0L467.5 433.0L467.0 432.7L466.2 431.9L465.7 430.9L465.4 429.4L465.2 429.3L464.2 429.7L463.5 429.4L462.8 428.8L462.5 428.8L461.5 430.3L460.5 431.2L459.8 431.4L458.8 430.8L457.7 429.4L457.3 428.4L457.2 427.7L457.6 426.2L458.4 424.9L459.2 424.2L460.0 424.0L460.8 424.4L461.8 425.3L462.0 425.3L463.0 424.1L463.7 423.7L464.2 423.5L465.0 423.7L465.7 424.2L466.6 425.4L467.0 426.7L467.2 426.9L467.8 426.8L468.0 426.9L468.6 427.4L469.3 428.4L469.7 429.4L469.7 430.4L469.2 431.5L468.5 432.5L467.8 433.0Z M353.8 434.2L353.2 434.2L352.5 433.8L351.3 432.7L350.3 431.2L349.8 429.4L350.1 427.9L351.0 426.3L352.2 425.0L353.5 424.4L354.0 424.4L354.8 424.8L355.9 425.9L356.9 427.4L357.4 429.2L357.1 430.7L356.2 432.3L355.0 433.6L353.8 434.2Z M383.8 437.8L383.2 437.8L382.4 437.2L381.7 436.4L381.1 435.4L380.9 434.7L380.8 433.9L381.4 431.9L381.2 431.6L380.2 430.2L379.7 428.7L379.8 427.7L380.5 426.3L381.2 425.4L382.2 424.8L382.8 424.9L383.6 425.4L384.2 426.2L384.8 427.2L385.0 427.9L385.1 428.7L384.5 430.4L384.5 430.7L384.6 430.9L385.2 431.7L385.7 432.4L386.2 433.9L386.0 434.9L385.5 436.2L384.6 437.2L383.8 437.8Z M415.0 437.5L414.2 437.5L413.5 437.3L412.5 436.7L411.6 435.9L410.8 435.0L410.1 433.9L409.7 432.9L409.4 431.9L409.5 431.2L409.9 430.2L410.4 429.2L411.1 428.2L411.8 427.4L412.8 426.7L413.8 426.2L414.5 426.0L415.2 426.2L416.0 426.6L416.9 427.2L417.8 428.0L419.0 429.9L419.4 430.9L419.6 431.7L419.5 432.4L419.1 433.4L418.1 435.2L416.5 436.7L415.0 437.5Z M418.5 448.2L417.2 447.7L416.2 446.9L414.8 446.2L414.2 445.7L413.5 444.8L413.0 443.7L412.9 442.9L413.1 441.9L413.5 441.0L414.0 440.3L414.6 439.7L415.2 439.3L415.8 439.2L417.0 439.8L418.5 439.4L419.8 439.7L419.9 439.4L419.5 438.2L419.5 437.4L419.9 436.2L420.9 434.2L421.0 433.7L420.6 431.9L421.0 430.2L421.8 428.7L423.0 427.3L424.2 426.5L424.8 426.3L425.2 426.4L426.3 426.9L427.4 427.9L428.3 429.2L429.0 430.7L429.2 431.7L429.2 432.2L428.5 434.4L428.6 435.2L429.1 436.2L429.5 437.2L429.6 437.9L429.4 438.7L428.9 439.9L428.1 441.2L427.1 442.2L426.0 443.0L425.2 443.4L424.5 443.6L423.5 443.3L422.5 442.7L422.2 442.9L422.4 443.7L422.3 444.4L421.8 445.4L421.4 446.2L420.0 447.6L419.2 448.0L418.5 448.2Z M406.8 432.7L406.2 432.9L406.0 432.8L405.2 432.2L404.5 431.2L404.1 429.9L404.3 428.9L404.8 427.9L405.5 427.1L406.2 426.7L407.0 427.0L407.6 427.7L408.2 428.7L408.5 429.7L408.4 430.4L407.9 431.4L407.4 432.2L406.8 432.7Z M504.5 441.8L504.2 441.9L503.8 441.7L502.8 440.7L502.1 439.4L502.1 438.4L502.5 437.2L503.5 436.0L504.2 435.7L505.0 436.0L505.1 435.9L504.3 433.9L504.2 433.2L504.3 432.4L504.7 431.4L505.2 430.4L506.0 429.6L506.5 429.5L507.2 430.0L508.0 431.2L508.5 432.7L508.5 433.7L508.0 435.2L507.2 436.4L506.5 436.9L506.0 436.8L505.8 436.8L506.3 438.4L506.3 439.4L505.5 440.9L504.5 441.8Z M265.8 436.0L265.5 436.1L265.0 436.0L264.2 435.3L263.5 434.2L263.2 433.2L263.4 432.2L263.9 431.2L264.5 430.4L265.2 429.9L265.5 429.9L266.0 430.2L266.8 430.9L267.3 431.9L267.6 432.9L267.4 433.7L267.0 434.7L266.4 435.4L265.8 436.0Z M141.2 434.8L140.8 434.6L140.2 434.2L139.7 433.4L139.6 432.9L139.8 432.3L140.1 431.7L140.8 431.2L141.2 431.0L141.8 431.3L142.3 431.7L142.7 432.4L142.8 432.9L142.7 433.4L142.2 434.1L141.8 434.5L141.2 434.8Z M351.2 439.5L350.5 439.5L349.5 438.9L348.7 437.9L348.2 436.7L348.4 435.7L349.0 434.7L349.8 433.9L350.8 433.4L352.0 433.5L353.2 435.2L353.6 436.4L353.5 437.2L352.9 438.2L352.2 438.9L351.2 439.5Z M369.5 441.0L369.0 441.1L368.8 441.0L367.7 440.2L366.8 438.9L366.4 437.4L366.7 436.2L367.2 435.1L368.1 434.2L369.0 433.7L369.8 433.9L370.8 434.9L371.4 435.9L371.8 437.2L371.7 438.2L371.1 439.4L370.3 440.4L369.5 441.0Z M376.8 442.2L375.8 441.7L375.0 440.8L374.4 439.7L374.1 438.4L374.4 437.2L375.0 436.2L375.9 435.2L376.8 434.8L377.5 435.1L378.5 436.0L379.2 437.2L379.5 438.4L379.2 439.7L378.5 440.9L377.5 441.9L376.8 442.2Z M362.8 443.3L362.5 443.3L362.0 443.2L361.0 442.3L360.1 440.9L359.8 439.7L360.1 438.4L360.7 437.2L361.7 436.2L362.5 435.9L363.3 436.2L364.2 437.2L364.8 438.2L365.2 439.4L365.0 440.4L364.5 441.7L363.6 442.7L362.8 443.3Z M485.5 444.0L485.0 443.9L484.5 443.6L483.6 442.7L483.0 441.4L482.7 440.2L483.0 438.9L483.8 437.8L484.8 436.8L485.5 436.6L486.2 437.0L487.2 437.9L487.8 438.9L488.1 440.2L487.8 441.4L487.2 442.6L486.5 443.4L485.5 444.0Z M314.0 443.7L313.8 443.8L313.2 443.7L312.2 442.9L311.5 441.7L311.3 440.7L311.5 439.7L312.1 438.7L313.0 437.9L313.8 437.6L314.5 437.9L315.3 438.7L315.9 439.7L316.1 440.7L316.0 441.4L315.5 442.4L314.8 443.3L314.0 443.7Z M346.0 446.0L345.5 446.1L345.0 446.0L343.8 445.0L342.8 443.6L342.3 441.9L342.5 440.7L343.2 439.2L344.4 437.9L345.5 437.5L346.5 437.9L347.6 438.9L348.3 440.2L348.7 441.7L348.5 442.9L347.9 444.2L347.0 445.3L346.0 446.0Z M406.0 443.7L405.2 443.7L404.2 442.9L403.4 441.9L403.0 440.7L403.3 439.7L404.0 438.6L405.0 437.8L405.8 437.6L406.6 437.9L407.5 438.7L408.1 439.7L408.4 440.7L408.2 441.4L407.7 442.4L406.9 443.2L406.0 443.7Z M328.8 447.0L328.0 447.1L327.2 447.0L325.5 446.1L324.0 444.7L323.4 443.7L323.1 442.9L323.2 442.4L323.5 441.7L324.6 440.2L326.2 439.0L327.8 438.5L328.5 438.5L329.2 438.8L331.0 439.9L332.2 441.2L332.7 441.9L332.9 442.7L332.8 443.2L332.5 443.9L331.6 445.2L330.2 446.3L328.8 447.0Z M286.0 445.0L285.1 444.7L284.2 444.1L283.5 443.2L283.3 442.4L283.6 441.7L284.2 440.9L285.2 440.2L286.0 440.0L286.8 440.2L287.8 440.9L288.4 441.7L288.7 442.4L288.5 443.2L287.8 444.1L286.9 444.7L286.0 445.0Z M508.0 445.5L507.1 445.2L506.2 444.6L505.5 443.7L505.3 442.9L505.6 442.2L506.2 441.4L507.2 440.7L508.0 440.5L508.8 440.7L509.8 441.4L510.4 442.2L510.7 442.9L510.5 443.7L509.8 444.6L508.9 445.2L508.0 445.5Z M380.0 447.2L379.8 447.3L379.2 447.1L378.5 446.5L377.9 445.4L377.5 444.2L377.8 443.2L378.3 442.2L379.0 441.4L379.8 441.1L380.5 441.5L381.1 442.2L381.6 443.2L381.9 444.2L381.7 444.9L381.2 446.0L380.7 446.7L380.0 447.2Z M371.2 449.5L370.5 449.5L369.5 448.9L368.6 447.9L368.1 446.7L368.3 445.7L368.9 444.7L369.8 443.9L370.8 443.4L371.5 443.6L372.5 444.4L373.2 445.4L373.5 446.4L373.4 447.2L372.8 448.2L372.0 449.0L371.2 449.5Z M393.2 449.3L392.5 449.3L391.4 448.7L390.6 447.7L390.1 446.4L390.3 445.4L390.9 444.4L391.8 443.6L392.8 443.2L393.5 443.4L394.5 444.2L395.2 445.2L395.5 446.2L395.4 446.9L394.8 447.9L394.0 448.8L393.2 449.3Z M311.0 454.7L310.2 454.9L309.8 454.7L309.0 454.2L308.1 452.9L307.8 452.2L307.7 451.7L308.2 450.4L309.1 449.2L309.2 448.9L308.8 447.4L309.2 445.9L309.6 445.2L310.2 444.4L311.0 443.8L311.5 443.7L312.0 443.8L312.8 444.4L313.9 445.9L314.2 446.1L315.0 445.9L316.0 446.6L317.0 447.9L317.4 448.9L317.5 449.7L317.3 450.4L316.9 451.4L316.4 452.2L315.8 452.9L315.2 453.2L314.8 453.3L314.0 453.0L313.2 452.4L313.0 452.4L312.2 453.7L311.8 454.2L311.0 454.7Z M340.0 453.0L339.5 453.1L339.0 453.0L337.8 452.0L336.8 450.6L336.3 448.9L336.5 447.7L337.2 446.2L338.4 444.9L339.5 444.5L340.5 444.9L341.6 445.9L342.3 447.2L342.7 448.7L342.5 449.9L341.9 451.2L341.0 452.3L340.0 453.0Z M384.0 451.5L383.2 451.6L382.2 450.9L381.3 449.9L380.8 448.7L381.0 447.7L381.6 446.7L382.5 445.8L383.5 445.4L384.3 445.7L385.2 446.5L385.9 447.4L386.2 448.4L386.1 449.2L385.5 450.2L384.8 451.0L384.0 451.5Z M361.5 457.3L361.0 457.2L360.5 456.9L359.8 456.3L359.2 455.6L358.6 453.9L358.6 453.4L358.8 452.7L359.4 451.4L360.2 450.4L361.0 450.0L361.8 450.0L362.0 449.7L362.4 448.2L363.2 446.8L364.2 446.0L364.8 445.9L365.0 446.0L366.0 446.7L366.9 447.9L367.4 449.4L367.2 450.4L366.7 451.7L365.8 452.7L365.0 453.2L364.2 453.2L364.0 453.4L363.8 454.4L363.2 455.7L362.4 456.7L361.5 457.3Z M419.0 457.7L418.5 457.6L417.8 457.1L416.7 455.7L416.2 454.2L416.3 453.4L416.5 452.7L417.3 451.4L418.2 450.5L419.0 450.3L420.0 450.7L420.2 450.4L420.5 449.4L421.1 448.2L421.8 447.2L422.5 446.5L423.2 446.0L423.8 445.9L424.2 446.0L425.0 446.6L425.6 447.2L426.2 448.2L426.6 449.2L426.8 450.9L426.4 452.4L425.2 454.1L424.0 455.1L423.2 455.2L421.8 454.3L421.6 454.4L421.1 455.7L420.5 456.6L419.8 457.3L419.0 457.7Z M468.2 455.5L467.5 455.3L466.5 454.4L465.8 453.2L465.4 451.9L465.6 450.7L466.2 449.5L467.0 448.7L468.0 448.1L468.8 448.3L469.8 449.3L470.5 450.4L470.8 451.7L470.6 452.7L470.0 454.0L469.2 454.9L468.2 455.5Z M333.0 454.8L332.2 454.9L331.1 454.2L330.3 453.2L329.8 451.9L330.0 450.9L330.6 449.9L331.5 449.1L332.5 448.7L333.2 449.0L334.2 449.8L334.9 450.7L335.2 451.7L335.1 452.4L334.5 453.4L333.8 454.3L333.0 454.8Z M325.0 456.0L324.2 455.8L323.2 455.1L322.5 454.1L322.1 452.9L322.4 451.9L323.0 450.9L323.8 450.2L324.8 449.8L325.5 450.0L326.5 450.8L327.2 451.9L327.5 452.9L327.2 453.8L326.7 454.7L326.0 455.4L325.0 456.0Z M351.2 460.5L351.0 460.6L350.5 460.5L349.8 459.8L349.0 458.7L348.7 457.4L349.0 456.4L349.5 455.4L349.4 454.9L348.8 453.4L348.8 452.4L349.2 451.5L349.8 450.8L350.5 450.1L351.0 450.0L351.7 450.4L352.2 451.0L352.8 451.9L353.1 452.9L352.9 453.9L352.3 455.2L353.0 456.9L353.0 457.9L352.3 459.4L351.8 460.1L351.2 460.5Z M401.8 456.5L401.0 456.7L400.5 456.4L399.8 455.9L399.0 454.9L398.5 453.7L398.7 452.7L399.4 451.7L400.2 450.9L401.2 450.5L402.2 450.9L403.0 451.6L403.5 452.4L403.9 453.4L403.8 454.2L403.3 455.2L402.5 456.1L401.8 456.5Z M480.2 462.5L480.0 462.6L479.5 462.5L478.5 461.7L477.6 460.4L477.2 458.9L477.4 457.9L478.0 456.7L478.9 455.7L479.8 455.2L480.5 455.4L481.5 456.3L482.2 457.4L482.6 458.7L482.5 459.7L481.9 460.9L481.1 461.9L480.2 462.5Z M380.8 464.7L380.0 464.9L379.2 464.5L378.5 463.9L377.8 462.8L377.5 462.8L376.5 463.5L375.8 463.8L375.0 463.6L374.2 463.0L373.4 461.9L373.0 460.7L373.3 459.7L374.0 458.6L375.0 457.8L375.8 457.6L376.2 457.8L377.0 458.2L378.2 459.7L378.5 459.7L379.5 458.9L380.2 458.7L381.0 459.0L381.6 459.4L382.6 460.7L382.9 461.4L382.9 461.9L382.5 462.9L382.0 463.7L381.5 464.3L380.8 464.7Z M333.0 473.6L332.5 473.7L331.8 473.4L331.0 472.9L330.3 471.9L329.9 471.2L329.8 470.4L330.0 469.7L330.6 468.7L330.6 468.4L329.8 467.9L329.0 467.1L328.4 466.2L328.2 465.4L328.4 464.4L329.0 463.5L329.8 462.7L330.8 462.2L331.2 462.3L332.0 462.7L332.8 463.4L333.2 464.2L333.6 464.9L333.6 465.4L333.2 466.4L332.7 467.2L332.8 467.4L333.8 468.1L334.3 468.7L334.8 469.4L335.2 470.4L335.1 471.2L334.6 472.2L333.8 473.1L333.0 473.6Z M302.5 471.5L302.0 471.6L301.5 471.5L300.2 470.5L299.2 469.1L298.8 467.4L299.0 466.2L299.8 464.7L300.9 463.4L302.0 463.0L303.0 463.4L304.1 464.4L304.8 465.7L305.2 467.2L305.0 468.4L304.4 469.7L303.5 470.8L302.5 471.5Z M442.8 471.5L442.2 471.4L441.8 471.1L440.9 470.2L440.3 468.9L440.0 467.7L440.3 466.4L441.0 465.3L442.0 464.4L442.8 464.1L443.5 464.4L444.5 465.4L445.1 466.4L445.4 467.7L445.1 468.9L444.5 470.1L443.8 471.0L442.8 471.5Z M422.0 474.3L421.5 474.4L421.2 474.3L420.5 473.6L419.8 472.2L419.4 470.7L419.6 469.7L420.1 468.4L420.8 467.5L421.5 467.0L421.8 467.0L422.2 467.3L422.9 468.2L423.5 469.4L423.8 470.7L423.6 471.7L423.2 472.7L422.6 473.7L422.0 474.3Z M365.0 474.1L364.5 474.1L363.8 473.5L363.2 472.4L363.1 471.7L363.2 470.9L363.7 469.9L364.2 469.4L364.8 469.2L365.2 469.5L365.8 470.1L366.2 470.9L366.3 471.7L366.2 472.4L365.8 473.2L365.0 474.1Z M439.2 477.7L438.3 477.2L437.5 476.3L436.9 475.2L436.6 473.9L436.9 472.7L437.5 471.7L438.4 470.7L439.2 470.3L440.0 470.6L441.0 471.5L441.7 472.7L442.0 473.9L441.7 475.2L441.0 476.4L440.0 477.4L439.2 477.7Z M296.0 479.0L295.5 479.1L295.0 479.0L293.8 478.0L292.8 476.6L292.3 474.9L292.5 473.7L293.2 472.2L294.4 470.9L295.5 470.5L296.5 470.9L297.6 471.9L298.3 473.2L298.7 474.7L298.5 475.9L297.9 477.2L297.0 478.3L296.0 479.0Z M310.5 479.0L310.0 479.1L309.5 479.0L308.2 478.0L307.2 476.6L306.8 474.9L307.0 473.7L307.8 472.2L308.9 470.9L310.0 470.5L311.0 470.9L312.1 471.9L312.8 473.2L313.2 474.7L313.0 475.9L312.4 477.2L311.5 478.3L310.5 479.0Z M453.8 479.8L453.2 479.9L453.0 479.8L452.5 479.6L451.8 478.9L451.0 477.7L450.6 476.2L450.9 474.9L451.5 473.9L452.3 472.9L453.2 472.5L454.0 472.8L455.0 473.7L455.7 474.9L456.0 476.2L455.8 477.2L455.2 478.3L454.5 479.2L453.8 479.8Z M418.0 479.3L417.2 479.1L416.2 478.4L415.5 477.4L415.1 476.2L415.4 475.2L416.0 474.2L416.9 473.4L417.8 473.1L418.5 473.3L419.5 474.1L420.2 475.2L420.5 476.2L420.3 476.9L419.8 478.0L419.0 478.7L418.0 479.3Z M357.0 481.0L356.5 480.9L356.0 480.6L355.1 479.7L354.5 478.4L354.2 477.2L354.5 475.9L355.2 474.8L356.2 473.8L357.0 473.6L357.8 474.0L358.7 474.9L359.3 475.9L359.6 477.2L359.3 478.4L358.8 479.6L358.0 480.4L357.0 481.0Z M389.2 482.1L389.0 482.1L388.5 481.9L387.5 480.9L386.9 479.7L386.6 478.4L386.8 477.2L387.4 475.9L388.2 475.0L389.0 474.7L389.8 475.0L390.6 475.9L391.2 477.2L391.4 478.4L391.2 479.4L390.6 480.7L390.0 481.5L389.2 482.1Z M316.0 486.0L315.5 486.1L315.0 486.0L313.8 485.0L312.8 483.6L312.3 481.9L312.5 480.7L313.2 479.2L314.4 477.9L315.5 477.5L316.5 477.9L317.6 478.9L318.3 480.2L318.7 481.7L318.5 482.9L317.9 484.2L317.0 485.3L316.0 486.0Z M284.2 483.8L283.8 483.6L283.0 482.9L282.4 481.9L282.3 481.2L282.5 480.4L283.0 479.7L283.8 479.0L284.2 478.8L284.8 479.0L285.4 479.7L285.9 480.4L286.1 481.2L286.0 481.9L285.5 482.8L284.9 483.4L284.2 483.8Z M290.5 482.2L290.0 482.4L289.2 482.2L288.6 481.4L288.3 480.7L288.4 480.2L288.8 479.5L289.2 479.0L289.8 478.8L290.2 478.8L290.8 479.2L291.2 479.8L291.5 480.4L291.2 481.4L290.5 482.2Z M330.0 492.5L329.5 492.6L328.8 492.4L328.0 491.8L327.3 490.9L326.7 489.9L326.3 488.9L326.3 488.2L326.4 487.4L327.2 485.7L328.4 484.4L329.5 484.0L330.5 484.4L330.8 484.2L331.0 482.7L331.8 481.4L332.8 480.4L333.2 480.1L333.8 480.1L334.8 480.8L335.7 482.2L336.2 483.7L336.0 484.7L335.4 485.9L334.5 487.0L333.8 487.5L333.5 487.5L333.0 487.4L332.8 487.5L332.7 488.9L332.0 490.4L331.1 491.7L330.0 492.5Z M344.8 488.7L344.0 488.4L343.0 487.4L342.3 486.2L342.0 484.9L342.3 483.7L343.0 482.5L344.0 481.6L344.8 481.3L345.6 481.7L346.5 482.7L347.1 483.7L347.4 484.9L347.1 486.2L346.5 487.3L345.7 488.2L344.8 488.7Z M402.8 489.5L402.0 489.3L401.0 488.5L400.3 487.4L400.0 486.4L400.3 485.4L401.0 484.3L402.0 483.5L402.8 483.3L403.7 483.7L404.5 484.4L405.1 485.4L405.4 486.4L405.1 487.4L404.5 488.4L403.8 489.0L402.8 489.5Z M386.5 492.5L386.2 492.5L385.8 492.2L385.0 491.4L384.4 490.2L384.1 488.9L384.3 487.7L384.9 486.4L385.5 485.6L386.2 485.1L387.0 485.4L387.6 486.2L388.2 487.4L388.5 488.7L388.3 489.7L387.8 490.9L387.2 491.9L386.5 492.5Z M434.0 496.0L433.5 496.1L432.9 495.7L432.2 494.9L431.7 493.9L431.5 493.8L430.5 494.3L430.0 494.4L429.2 494.2L428.2 493.5L427.6 492.7L427.3 491.9L427.5 491.2L428.0 490.5L429.0 489.8L430.0 489.4L431.0 489.8L432.2 490.7L432.5 490.7L433.5 489.9L434.0 490.0L434.5 490.3L435.1 490.9L435.5 491.7L435.8 492.4L435.9 493.2L435.6 494.2L435.1 494.9L434.5 495.7L434.0 496.0Z M325.0 498.0L324.5 498.1L324.0 498.0L322.8 497.0L321.8 495.6L321.3 493.9L321.5 492.7L322.2 491.2L323.4 489.9L324.5 489.5L325.5 489.9L326.6 490.9L327.3 492.2L327.7 493.7L327.5 494.9L326.9 496.2L326.0 497.3L325.0 498.0Z M272.5 495.0L272.2 495.1L271.8 494.9L271.0 494.4L270.4 493.7L270.0 492.7L270.2 491.9L270.8 491.0L271.5 490.4L272.2 490.1L273.0 490.4L273.6 490.9L274.1 491.7L274.4 492.4L274.2 493.2L273.8 493.9L273.2 494.6L272.5 495.0Z M344.0 503.3L343.5 503.4L343.2 503.3L342.1 502.4L341.3 501.2L340.9 499.7L341.1 498.7L341.8 497.4L342.6 496.4L343.5 496.0L344.2 496.2L345.3 497.2L346.0 498.4L346.3 499.7L346.1 500.7L345.5 501.9L344.8 502.8L344.0 503.3Z M304.5 504.6L304.2 504.6L303.8 504.4L303.0 503.7L302.3 502.4L302.1 501.4L302.4 500.4L302.9 499.4L303.5 498.8L304.2 498.4L305.0 498.7L305.7 499.4L306.2 500.4L306.5 501.4L306.3 502.4L305.8 503.4L305.1 504.2L304.5 504.6Z M328.8 513.0L328.2 513.0L327.5 512.5L326.4 511.2L326.0 510.3L325.8 509.4L326.0 508.2L326.7 506.9L327.5 506.1L328.5 505.6L329.2 505.9L329.5 505.8L330.2 504.6L331.0 503.8L331.8 503.3L332.2 503.3L333.2 504.0L334.3 505.4L334.7 506.9L334.5 508.0L333.9 509.2L333.0 510.2L332.0 510.7L331.2 510.4L331.0 510.5L329.8 512.2L328.8 513.0Z M352.8 512.2L352.5 512.3L352.0 512.2L351.0 511.4L350.2 510.2L349.7 508.7L349.9 507.7L350.5 506.4L351.3 505.4L352.2 504.9L353.0 505.1L354.0 506.0L354.7 507.2L355.1 508.4L354.9 509.4L354.4 510.7L353.5 511.7L352.8 512.2Z M271.0 513.1L270.2 513.2L269.1 512.5L268.2 511.4L267.8 510.2L268.0 509.2L268.7 508.2L269.5 507.4L270.5 507.0L271.2 507.3L272.2 508.1L272.8 508.9L273.2 509.9L273.1 510.7L272.6 511.7L271.8 512.6L271.0 513.1Z M417.0 515.3L416.5 515.4L416.2 515.3L415.5 514.6L414.8 513.2L414.4 511.7L414.6 510.7L415.1 509.4L415.8 508.5L416.5 508.0L416.8 508.0L417.2 508.3L417.9 509.2L418.5 510.4L418.8 511.7L418.6 512.7L418.2 513.7L417.6 514.7L417.0 515.3Z M322.2 516.0L321.8 516.0L321.2 515.8L320.1 515.0L319.2 513.7L318.8 512.5L319.0 511.2L319.8 509.9L321.0 508.9L322.0 508.6L323.0 508.9L324.0 509.8L324.8 510.9L325.2 512.2L325.0 513.3L324.2 514.5L323.2 515.5L322.2 516.0Z M336.8 519.0L336.5 519.1L336.0 519.0L335.2 518.2L334.6 517.0L334.2 515.5L334.5 514.2L335.0 513.0L335.8 512.0L336.2 511.7L336.5 511.7L337.2 512.2L337.9 513.2L338.4 514.5L338.6 515.5L338.4 516.5L338.0 517.5L337.5 518.3L336.8 519.0Z M365.0 525.5L364.5 525.6L364.0 525.4L363.2 524.8L362.6 524.0L362.1 523.0L361.9 522.0L362.3 520.5L362.2 520.2L362.1 520.0L361.2 519.4L360.6 518.7L360.1 517.7L359.7 516.7L359.8 515.7L360.4 514.2L361.2 513.2L362.2 512.6L362.8 512.7L363.5 513.2L364.5 514.5L364.9 515.5L365.1 516.2L364.8 518.0L364.9 518.2L365.8 518.8L366.3 519.5L366.9 520.5L367.3 521.5L367.2 522.5L366.7 523.7L366.0 524.7L365.0 525.5Z M269.8 531.7L269.5 531.8L269.0 531.6L268.2 530.9L267.6 529.7L267.3 528.7L267.6 527.7L268.1 526.7L268.8 526.0L269.5 525.6L270.2 526.0L270.9 526.7L271.4 527.7L271.7 528.7L271.4 529.7L271.0 530.6L270.5 531.2L269.8 531.7Z M307.5 544.7L307.0 544.9L306.8 544.8L306.0 544.3L305.2 543.2L304.8 542.0L305.0 541.0L305.5 539.9L306.2 539.1L307.0 538.7L307.8 539.1L308.3 539.7L308.9 540.7L309.2 541.7L309.1 542.5L308.6 543.5L308.1 544.2L307.5 544.7Z M365.8 551.0L365.2 551.1L365.0 551.0L364.5 550.8L363.9 550.2L363.0 548.9L362.6 547.5L362.9 546.2L363.5 545.1L364.3 544.2L365.2 543.7L366.0 544.0L367.0 544.9L367.6 546.0L368.0 547.2L367.9 548.2L367.3 549.5L366.5 550.4L365.8 551.0Z M476.8 275.7L476.5 275.9L476.0 275.7L475.6 275.2L475.4 274.7L475.6 273.9L476.2 273.3L476.5 273.3L476.8 273.4L477.2 273.9L477.3 274.4L477.2 275.2L476.8 275.7Z M379.0 293.0L378.5 292.6L378.1 291.7L378.5 290.8L379.0 290.4L379.5 290.8L379.9 291.7L379.5 292.6L379.0 293.0Z M427.0 323.3L426.8 323.4L426.5 323.3L426.0 322.4L426.2 321.7L426.8 321.2L427.2 321.5L427.7 322.2L427.5 322.8L427.0 323.3Z M481.0 330.3L480.8 330.3L480.2 330.0L479.9 329.4L479.8 328.9L480.1 328.2L480.8 327.7L481.0 327.7L481.5 328.2L481.8 328.9L481.5 329.7L481.0 330.3Z M422.2 330.0L421.8 329.7L421.3 328.9L421.7 328.2L422.2 327.8L422.5 327.9L422.9 328.2L423.3 328.9L422.8 329.7L422.2 330.0Z M526.5 329.5L526.2 329.4L526.0 329.2L525.7 328.7L526.0 328.0L526.2 327.8L526.5 327.7L526.9 328.2L527.1 328.7L526.8 329.2L526.5 329.5Z M409.0 334.2L408.3 333.7L408.0 332.9L408.3 332.2L408.7 331.7L409.0 331.6L409.3 331.7L409.7 332.2L410.0 332.9L409.7 333.7L409.0 334.2Z M365.0 335.1L364.8 335.1L364.4 334.7L364.1 334.2L364.0 333.7L364.5 332.7L364.8 332.5L365.0 332.5L365.5 333.0L365.8 333.7L365.6 334.4L365.0 335.1Z M376.0 335.1L375.6 334.7L375.4 334.2L375.6 333.7L376.0 333.3L376.4 333.7L376.6 334.2L376.4 334.7L376.0 335.1Z M441.2 346.8L441.0 346.9L440.5 346.8L440.0 346.3L439.8 345.7L440.0 344.9L440.8 344.3L441.0 344.3L441.5 344.6L442.0 345.4L441.8 346.2L441.2 346.8Z M314.8 348.0L314.2 347.5L314.0 346.9L314.2 346.3L314.8 345.8L315.0 345.9L315.3 346.2L315.6 346.9L315.2 347.7L314.8 348.0Z M352.5 349.7L351.8 349.2L351.5 348.4L351.8 347.7L352.2 347.2L352.5 347.1L352.8 347.2L353.2 347.7L353.5 348.4L353.2 349.2L352.5 349.7Z M516.5 350.6L516.2 350.7L515.8 350.5L515.2 349.7L515.5 348.9L516.0 348.6L516.2 348.5L516.8 348.8L517.1 349.4L517.0 350.1L516.5 350.6Z M499.0 354.2L498.8 354.4L498.5 354.3L498.2 353.9L497.9 353.2L498.2 352.2L498.5 351.9L498.8 351.8L499.2 352.2L499.5 352.9L499.3 353.7L499.0 354.2Z M453.5 356.2L453.0 356.4L452.8 356.2L452.3 355.7L452.1 355.2L452.3 354.4L453.0 353.8L453.5 354.0L453.9 354.4L454.0 354.9L454.0 355.4L453.5 356.2Z M475.5 358.9L475.2 358.9L475.0 358.6L474.6 357.7L474.9 356.7L475.2 356.3L475.5 356.3L476.0 356.9L476.2 357.7L475.9 358.4L475.5 358.9Z M512.8 359.0L512.5 359.1L512.0 358.9L511.6 358.4L511.4 357.9L511.4 357.4L511.7 356.9L512.5 356.5L513.2 356.9L513.6 357.7L513.4 358.4L512.8 359.0Z M406.5 363.2L406.2 363.3L406.0 363.1L405.6 362.2L405.8 361.2L406.2 360.7L406.5 360.8L406.8 361.1L407.1 361.9L406.9 362.7L406.5 363.2Z M379.2 363.5L379.0 363.5L378.6 363.2L378.3 362.7L378.1 362.2L378.4 361.4L379.0 360.9L379.2 360.9L379.6 361.2L379.9 361.7L380.1 362.2L379.8 362.9L379.2 363.5Z M495.0 367.0L494.8 367.1L494.2 366.9L493.7 366.2L493.6 365.7L493.9 364.9L494.2 364.7L494.8 364.5L495.2 364.7L495.5 364.7L496.4 363.7L497.2 363.2L497.8 362.4L498.0 362.3L498.5 362.5L498.9 362.9L499.0 363.4L499.0 363.9L498.7 364.4L497.5 365.5L497.0 365.7L496.0 365.8L495.5 366.6L495.0 367.0Z M445.0 367.5L444.2 367.5L443.5 367.3L442.8 366.8L442.4 366.2L441.5 363.9L441.8 363.2L442.5 362.5L442.8 362.5L443.5 362.9L444.6 363.2L445.0 363.5L445.3 363.9L445.7 364.9L445.9 366.2L445.6 366.9L445.0 367.5Z M458.8 365.5L458.2 365.0L458.0 364.2L458.2 363.4L458.8 362.9L459.0 363.0L459.2 363.3L459.6 364.2L459.2 365.1L459.0 365.4L458.8 365.5Z M505.2 366.0L504.8 365.5L504.5 364.7L504.8 363.9L505.2 363.4L505.5 363.5L505.8 363.8L506.1 364.7L505.8 365.6L505.5 365.9L505.2 366.0Z M462.0 367.5L461.5 367.0L461.3 366.4L461.5 365.9L462.0 365.3L462.2 365.4L462.5 365.6L462.7 365.9L462.9 366.4L462.5 367.2L462.2 367.4L462.0 367.5Z M453.8 369.7L453.5 369.7L453.0 369.2L452.7 368.4L452.8 367.9L453.2 367.4L453.8 367.1L454.4 367.7L454.7 368.4L454.4 369.2L453.8 369.7Z M513.8 369.8L513.5 369.9L513.2 369.8L512.9 369.2L512.7 368.7L513.0 367.7L513.5 367.3L514.0 367.7L514.3 368.4L514.1 369.2L513.8 369.8Z M344.0 372.0L343.5 372.1L342.9 371.7L342.3 370.9L342.1 370.2L342.2 369.4L342.5 368.7L343.2 367.9L343.8 367.7L344.2 368.1L344.8 368.7L345.0 369.2L345.2 369.9L345.1 370.4L345.0 370.9L344.5 371.6L344.0 372.0Z M502.5 372.0L502.2 371.9L501.8 371.4L501.5 370.7L501.8 369.9L502.2 369.5L502.5 369.4L502.8 369.5L503.2 369.9L503.5 370.7L503.2 371.4L502.8 371.9L502.5 372.0Z M461.8 373.0L461.5 373.1L461.0 372.8L460.6 371.9L460.8 371.1L461.1 370.7L461.5 370.5L462.1 370.9L462.5 371.7L462.3 372.4L461.8 373.0Z M497.0 374.2L496.3 373.7L496.0 372.9L496.3 372.2L496.7 371.7L497.0 371.6L497.3 371.7L497.7 372.2L498.0 372.9L497.7 373.7L497.0 374.2Z M437.2 376.5L436.8 376.5L436.2 376.2L435.6 375.4L435.3 374.7L435.4 373.9L435.8 373.2L436.4 372.4L437.0 372.2L437.5 372.3L438.0 372.8L438.5 373.4L438.7 374.2L438.6 374.9L438.2 375.7L437.8 376.2L437.2 376.5Z M474.0 376.7L473.5 376.8L473.0 376.4L472.7 375.9L472.5 375.4L473.0 374.6L473.8 374.2L474.5 374.7L474.9 375.4L474.6 376.2L474.0 376.7Z M408.8 376.7L408.5 376.8L408.0 376.5L407.7 376.2L407.5 375.7L407.9 374.9L408.5 374.6L409.1 374.9L409.5 375.7L409.2 376.2L408.8 376.7Z M326.2 377.0L326.0 377.2L325.5 377.0L325.0 376.2L325.2 375.5L325.8 375.0L326.0 375.0L326.2 375.2L326.7 375.9L326.7 376.4L326.2 377.0Z M400.5 377.1L400.2 377.2L399.8 377.0L399.2 376.2L399.5 375.4L400.0 375.1L400.2 375.0L400.8 375.3L401.1 375.9L401.0 376.6L400.5 377.1Z M390.5 380.2L390.0 380.3L389.2 379.8L388.6 378.9L388.4 378.2L388.5 377.4L388.9 376.7L389.5 376.1L390.0 375.8L390.5 375.9L391.2 376.4L391.7 377.2L391.9 377.9L391.8 378.4L391.5 379.2L391.0 379.8L390.5 380.2Z M463.5 379.5L463.2 379.7L463.0 379.6L462.6 379.2L462.4 378.7L462.7 377.9L463.0 377.6L463.2 377.5L463.7 377.9L464.0 378.4L463.9 378.9L463.5 379.5Z M424.0 383.3L423.8 383.3L423.2 383.1L422.3 382.2L421.9 381.4L421.7 380.4L421.7 379.7L422.0 378.9L422.8 378.2L423.5 377.8L424.0 377.9L424.8 378.5L425.3 379.2L425.5 379.9L425.5 380.9L425.3 381.7L424.8 382.7L424.0 383.3Z M496.0 382.7L495.8 382.8L495.2 382.5L494.8 381.7L495.2 380.9L495.8 380.6L496.4 380.9L496.8 381.7L496.5 382.3L496.0 382.7Z M329.5 384.8L329.2 384.9L329.0 384.8L328.6 384.4L328.4 383.9L328.6 383.2L329.0 382.8L329.2 382.7L329.8 383.1L330.1 383.7L330.0 384.2L329.5 384.8Z M313.8 385.3L313.2 384.9L312.8 384.2L313.2 383.4L313.8 383.1L314.2 383.5L314.6 384.2L314.2 384.9L313.8 385.3Z M363.2 386.6L363.0 386.6L362.7 386.4L362.3 385.9L362.2 385.4L362.3 384.7L363.0 384.0L363.2 384.0L363.7 384.4L364.1 385.2L363.9 385.9L363.2 386.6Z M402.0 386.7L401.8 386.9L401.5 386.8L401.2 386.4L400.9 385.9L401.1 385.2L401.5 384.8L401.8 384.7L402.2 385.2L402.5 385.7L402.4 386.2L402.0 386.7Z M393.0 390.3L392.8 390.4L392.4 390.2L391.9 389.4L391.8 389.2L392.1 388.7L392.8 388.2L393.3 388.4L393.8 389.2L393.5 389.9L393.0 390.3Z M330.0 395.9L329.8 395.8L329.5 395.6L329.2 395.2L329.1 394.7L329.5 394.0L329.8 393.8L330.0 393.7L330.5 394.2L330.7 394.7L330.5 395.3L330.0 395.9Z M406.8 405.2L406.2 405.2L405.8 405.0L405.2 404.4L404.6 403.4L404.1 401.9L403.7 398.9L403.9 397.7L404.5 396.4L405.2 395.4L406.0 395.0L406.8 395.4L407.5 396.4L408.5 398.4L408.7 399.7L408.7 401.7L408.3 403.2L407.7 404.4L406.8 405.2Z M318.8 402.8L318.2 402.5L317.9 401.7L318.2 400.9L318.8 400.6L319.2 401.1L319.5 401.7L319.2 402.3L318.8 402.8Z M414.0 405.8L413.8 405.7L413.2 405.1L412.9 404.4L412.8 403.9L413.2 402.9L413.6 402.4L414.0 402.2L414.4 402.4L414.8 402.9L415.2 403.9L415.1 404.4L414.8 405.1L414.2 405.7L414.0 405.8Z M422.0 421.1L421.5 421.2L421.0 421.1L419.8 420.2L418.9 418.9L418.5 417.7L418.7 416.9L419.2 416.0L420.0 415.2L420.9 414.4L421.5 413.2L422.2 412.4L421.5 412.3L421.1 411.7L420.5 411.4L420.0 410.9L419.2 409.6L418.5 408.9L418.0 408.2L417.5 406.9L417.7 405.9L418.5 404.7L419.5 403.8L420.5 403.4L421.2 403.7L422.0 404.2L423.0 405.4L423.8 406.0L424.2 406.6L424.7 407.9L424.9 409.7L425.3 410.7L425.2 411.2L424.8 411.9L423.7 412.7L424.0 414.4L423.9 416.2L424.5 417.7L424.3 418.4L424.0 419.2L423.5 419.9L422.8 420.6L422.0 421.1Z M356.0 407.0L355.8 407.1L355.3 406.7L355.1 406.2L354.8 405.4L354.9 404.9L355.2 404.2L355.8 403.5L356.0 403.6L356.3 403.9L356.8 405.2L356.5 406.2L356.0 407.0Z M368.2 411.5L368.0 411.6L367.8 411.5L367.4 410.9L367.2 410.4L367.5 409.4L368.0 409.0L368.5 409.4L368.8 410.2L368.6 410.9L368.2 411.5Z M405.8 416.5L405.5 416.6L405.0 416.4L404.2 415.6L403.5 414.2L403.2 412.9L403.4 411.7L404.0 410.4L404.8 409.4L405.5 409.0L406.2 409.4L407.0 410.4L407.5 411.4L407.8 412.7L407.7 413.7L407.2 414.9L406.5 415.9L405.8 416.5Z M413.8 413.5L413.5 413.6L413.0 413.3L412.6 412.7L412.4 411.9L412.4 411.4L412.7 410.7L413.2 410.2L413.5 410.0L413.8 410.2L414.2 410.7L414.6 411.7L414.4 412.7L413.8 413.5Z M466.8 415.5L466.5 415.7L466.2 415.6L466.0 415.4L465.7 414.9L465.0 414.4L464.4 413.4L463.5 412.7L463.3 412.2L463.4 411.9L464.0 411.2L464.5 411.2L465.2 411.9L466.0 412.2L466.3 412.4L467.2 414.4L467.1 414.9L466.8 415.5Z M422.7 412.2L422.8 411.9L422.3 412.2L422.5 412.3L422.7 412.2Z M380.0 418.7L379.8 418.9L379.5 418.8L379.2 418.4L378.9 417.7L379.2 416.7L379.5 416.4L379.8 416.3L380.2 416.7L380.5 417.4L380.3 418.2L380.0 418.7Z M366.0 421.5L365.4 420.9L365.0 419.7L365.4 418.4L366.0 417.9L366.6 418.4L367.0 419.7L366.6 420.9L366.0 421.5Z M476.5 423.0L476.0 422.6L475.7 421.7L476.0 420.8L476.5 420.4L477.0 420.8L477.3 421.7L477.0 422.6L476.5 423.0Z M393.5 425.2L393.0 424.9L392.5 424.2L392.8 423.4L393.5 423.0L394.2 423.4L394.5 424.2L394.0 424.9L393.5 425.2Z M434.2 450.0L434.0 449.9L433.8 449.6L433.4 448.7L433.6 447.4L433.6 445.7L433.8 444.2L434.2 443.3L434.7 442.7L435.2 441.4L436.0 440.4L435.9 439.7L436.3 438.4L436.9 437.4L437.9 436.4L438.0 435.9L437.7 434.7L437.8 433.7L437.4 432.9L437.2 432.9L436.2 433.0L435.5 432.9L434.8 432.3L434.0 431.2L433.5 429.9L433.2 427.9L433.2 427.4L433.8 425.9L434.8 424.8L435.2 424.5L435.8 424.5L437.0 423.8L438.0 423.6L438.8 423.0L439.0 423.0L439.4 423.4L439.8 424.2L439.7 424.7L439.2 425.4L439.0 426.2L438.7 430.9L438.8 431.2L439.5 431.5L440.2 432.0L440.8 432.9L441.3 433.4L441.5 433.9L441.5 434.4L441.0 435.2L440.6 438.2L440.9 438.9L441.2 440.1L443.0 441.2L443.8 440.4L444.2 440.2L445.0 440.0L446.2 439.9L447.1 438.7L448.0 438.0L448.8 437.7L449.5 437.7L450.2 438.0L451.2 438.9L451.7 439.9L451.7 440.7L451.5 441.4L451.0 442.2L450.2 442.8L449.5 443.2L448.0 443.1L447.2 442.8L445.2 443.1L443.8 443.0L443.2 442.8L442.5 442.1L440.2 442.0L439.5 442.7L438.8 443.1L438.5 443.2L437.8 442.9L437.5 442.9L436.8 443.8L435.8 444.4L435.6 444.9L434.9 448.9L434.6 449.7L434.2 450.0Z M375.2 427.8L374.8 427.4L374.4 426.4L374.8 425.6L375.0 425.3L375.2 425.2L375.7 425.7L376.0 426.4L375.8 427.3L375.2 427.8Z M464.8 427.5L464.2 427.7L464.0 427.6L463.6 427.2L463.3 426.7L463.6 425.9L464.2 425.5L464.8 425.7L465.2 426.4L465.2 426.9L464.8 427.5Z M460.0 429.0L459.8 429.0L459.4 428.7L459.1 428.2L458.9 427.7L459.1 427.2L459.4 426.7L459.8 426.4L460.0 426.4L460.6 426.9L460.9 427.7L460.6 428.4L460.0 429.0Z M382.5 429.8L382.2 429.8L381.9 429.4L381.5 428.9L381.4 428.4L381.6 427.9L381.9 427.4L382.2 427.2L382.5 427.2L383.1 427.7L383.4 428.4L383.1 429.2L382.5 429.8Z M353.8 431.0L353.5 431.0L353.0 430.7L352.5 430.1L352.3 429.4L352.3 428.9L352.5 428.4L353.0 427.9L353.5 427.6L353.8 427.6L354.3 427.9L354.7 428.4L354.9 429.2L354.6 430.2L354.2 430.7L353.8 431.0Z M415.8 435.3L415.2 435.4L414.5 435.3L413.2 434.6L412.2 433.4L411.8 432.7L411.5 431.9L411.6 431.4L411.9 430.7L412.7 429.4L413.8 428.7L415.0 428.2L415.8 428.3L416.9 429.2L417.7 430.4L418.1 431.7L417.9 432.7L417.4 433.7L416.6 434.7L415.8 435.3Z M406.5 430.8L406.2 430.9L406.0 430.7L405.5 429.9L405.7 429.2L406.2 428.7L406.8 429.0L407.1 429.7L407.0 430.2L406.5 430.8Z M467.5 431.0L467.0 430.5L466.8 429.9L467.0 429.4L467.5 428.8L467.8 428.9L468.0 429.1L468.2 429.4L468.4 429.9L468.0 430.7L467.8 430.9L467.5 431.0Z M425.0 441.1L424.5 441.2L424.0 441.1L422.8 440.2L421.9 438.9L421.5 437.7L422.1 436.2L422.5 433.9L423.5 431.2L424.2 430.2L424.8 429.9L425.0 429.9L425.8 430.4L426.4 431.4L426.4 432.4L427.1 434.7L427.2 436.7L427.5 437.7L427.2 438.7L426.7 439.7L426.0 440.4L425.0 441.1Z M265.5 434.1L265.2 434.0L265.0 433.8L264.8 433.4L264.6 432.9L265.0 432.2L265.2 432.0L265.5 431.9L266.0 432.4L266.2 432.9L266.0 433.5L265.5 434.1Z M506.5 434.5L506.2 434.5L506.0 434.2L505.6 433.2L506.0 432.2L506.2 431.9L506.5 431.9L507.0 432.4L507.2 433.2L507.0 433.9L506.5 434.5Z M141.2 433.6L141.0 433.4L140.6 432.9L140.9 432.4L141.2 432.2L141.6 432.4L141.8 432.9L141.5 433.4L141.2 433.6Z M383.8 435.3L383.5 435.4L383.0 435.1L382.5 434.2L382.8 433.4L383.2 432.9L383.5 432.8L384.1 433.2L384.4 433.9L384.3 434.7L383.8 435.3Z M351.2 437.5L351.0 437.6L350.5 437.4L350.0 436.7L349.9 436.4L350.2 435.9L350.8 435.4L351.0 435.4L351.4 435.7L351.9 436.4L351.7 436.9L351.2 437.5Z M369.5 438.5L369.0 438.7L368.8 438.5L368.3 437.9L368.1 437.4L368.4 436.7L369.0 436.1L369.5 436.3L370.0 437.2L369.9 437.9L369.5 438.5Z M377.0 439.8L376.8 439.8L376.2 439.5L375.9 438.9L375.8 438.4L376.1 437.7L376.8 437.2L377.0 437.2L377.5 437.7L377.8 438.4L377.5 439.2L377.0 439.8Z M504.5 439.7L504.2 439.9L504.0 439.8L503.7 439.4L503.4 438.9L503.6 438.2L504.0 437.8L504.2 437.7L504.8 438.2L505.0 438.7L504.9 439.2L504.5 439.7Z M362.8 440.8L362.5 440.9L362.0 440.6L361.5 439.7L361.8 438.9L362.2 438.4L362.5 438.3L363.1 438.7L363.4 439.4L363.3 440.2L362.8 440.8Z M485.8 441.5L485.5 441.6L485.0 441.4L484.6 440.9L484.5 440.4L484.6 439.7L485.2 439.0L485.5 439.0L485.8 439.2L486.2 439.7L486.4 440.2L486.2 440.9L485.8 441.5Z M313.8 441.8L313.2 441.4L312.8 440.7L313.2 439.9L313.8 439.6L314.2 440.0L314.6 440.7L314.2 441.4L313.8 441.8Z M405.8 441.8L405.1 441.4L404.7 440.7L405.1 439.9L405.8 439.6L406.3 439.9L406.7 440.7L406.3 441.4L405.8 441.8Z M345.8 443.3L345.5 443.3L345.0 443.1L344.5 442.4L344.4 441.9L344.4 441.4L344.6 440.9L345.0 440.5L345.5 440.3L345.9 440.4L346.2 440.8L346.6 441.7L346.5 442.4L345.8 443.3Z M419.0 445.7L418.5 445.9L417.5 445.5L416.2 445.5L415.8 445.3L415.2 444.9L414.7 443.9L414.6 442.9L414.9 441.9L415.5 441.3L416.2 441.1L417.2 441.2L419.0 441.9L419.8 442.5L420.2 443.2L420.3 443.9L419.8 444.9L419.0 445.7Z M328.5 444.2L328.0 444.3L327.2 444.1L326.6 443.4L326.3 442.9L326.4 442.4L326.7 441.9L327.8 441.3L328.2 441.3L329.0 441.7L329.5 442.2L329.7 442.7L329.4 443.4L328.5 444.2Z M286.2 443.3L286.0 443.4L285.5 443.2L285.1 442.7L285.0 442.4L285.4 441.9L286.0 441.6L286.6 441.9L287.0 442.4L286.7 442.9L286.2 443.3Z M508.2 443.8L508.0 443.9L507.5 443.7L507.1 443.2L507.0 442.9L507.4 442.4L508.0 442.1L508.6 442.4L509.0 442.9L508.7 443.4L508.2 443.8Z M379.8 445.3L379.2 445.0L378.9 444.2L379.2 443.4L379.8 443.1L380.2 443.6L380.5 444.2L380.2 444.8L379.8 445.3Z M371.0 447.5L370.8 447.6L370.2 447.3L370.0 446.9L369.8 446.4L370.2 445.7L370.8 445.4L371.3 445.7L371.8 446.4L371.5 447.1L371.0 447.5Z M393.0 447.3L392.8 447.4L392.4 447.2L391.9 446.4L391.8 446.2L392.1 445.7L392.8 445.2L393.3 445.4L393.8 446.2L393.5 446.9L393.0 447.3Z M315.0 450.9L314.8 450.9L314.4 450.7L314.0 450.2L313.8 449.4L312.2 448.4L312.0 448.4L311.5 448.8L311.0 448.4L310.5 447.4L310.8 446.7L311.2 446.2L311.5 446.1L311.8 446.2L312.2 446.7L312.5 447.6L314.0 448.5L314.2 448.6L314.8 448.3L315.0 448.3L315.4 448.7L315.7 449.2L315.8 449.7L315.5 450.3L315.0 450.9Z M423.8 453.3L423.0 453.0L422.2 452.3L421.6 451.2L421.5 450.2L421.7 449.2L422.2 448.1L423.0 447.4L423.8 447.1L424.5 447.5L425.2 448.4L425.7 449.4L425.8 450.2L425.7 450.9L425.2 452.0L424.5 452.9L423.8 453.3Z M339.8 450.3L339.5 450.3L339.0 450.1L338.5 449.4L338.4 448.9L338.4 448.4L338.6 447.9L339.0 447.5L339.5 447.3L339.9 447.4L340.2 447.8L340.6 448.7L340.5 449.4L339.8 450.3Z M383.8 449.5L383.5 449.6L383.0 449.3L382.7 448.9L382.5 448.4L383.0 447.7L383.5 447.4L384.0 447.7L384.5 448.4L384.2 449.0L383.8 449.5Z M365.0 450.8L364.8 450.9L364.2 450.7L363.7 449.7L364.0 448.9L364.4 448.4L364.8 448.3L365.3 448.7L365.6 449.4L365.5 450.2L365.0 450.8Z M310.8 452.8L310.5 452.9L310.0 452.7L309.6 452.2L309.4 451.7L309.7 451.2L310.2 450.7L310.8 449.2L311.0 448.9L311.2 448.8L311.5 449.9L311.3 451.4L311.3 451.9L311.1 452.4L310.8 452.8Z M440.0 455.8L439.2 455.7L438.4 454.9L438.0 454.2L437.8 452.9L437.4 451.9L437.6 451.2L438.0 450.4L438.5 449.9L439.0 449.7L439.5 449.9L440.0 450.4L440.8 451.7L441.1 452.7L441.2 453.7L441.1 454.4L440.6 455.2L440.0 455.8Z M468.2 453.1L468.0 453.1L467.7 452.9L467.3 452.4L467.2 451.9L467.3 451.2L468.0 450.5L468.2 450.5L468.7 450.9L469.1 451.7L468.9 452.4L468.2 453.1Z M332.8 452.8L332.5 452.9L332.1 452.7L331.6 451.9L331.5 451.7L331.8 451.2L332.5 450.7L333.0 451.0L333.5 451.7L333.2 452.3L332.8 452.8Z M324.8 454.0L324.2 453.7L323.8 452.9L324.2 452.2L324.8 451.8L325.0 451.9L325.4 452.2L325.8 452.9L325.3 453.7L324.8 454.0Z M351.0 458.6L350.8 458.5L350.5 458.3L350.3 457.9L350.1 457.4L350.3 456.9L350.7 456.4L350.7 454.2L350.2 453.4L350.1 452.9L350.5 452.3L350.8 452.1L351.0 452.0L351.4 452.4L351.7 452.9L351.6 453.4L351.1 454.2L351.1 456.4L351.5 456.9L351.7 457.4L351.5 458.0L351.0 458.6Z M361.5 454.9L361.2 454.9L360.9 454.7L360.5 454.2L360.3 453.7L360.5 452.9L361.0 452.4L361.2 452.3L361.5 452.3L361.9 452.7L362.2 453.4L362.1 454.2L361.5 454.9Z M401.5 454.6L401.2 454.7L400.8 454.5L400.2 453.7L400.5 452.9L401.0 452.6L401.2 452.5L401.8 452.8L402.1 453.4L402.0 454.1L401.5 454.6Z M419.0 455.3L418.8 455.3L418.4 454.9L418.0 454.4L417.9 453.9L418.1 453.4L418.4 452.9L418.8 452.7L419.0 452.7L419.6 453.2L419.9 453.9L419.6 454.7L419.0 455.3Z M480.2 460.0L480.0 460.2L479.5 460.0L479.1 459.4L478.9 458.9L479.2 458.2L479.8 457.6L480.0 457.6L480.2 457.8L480.6 458.2L480.8 458.7L480.7 459.4L480.2 460.0Z M375.8 461.8L375.1 461.4L374.7 460.7L375.1 459.9L375.8 459.6L376.3 459.9L376.7 460.7L376.3 461.4L375.8 461.8Z M380.5 462.8L380.2 462.9L379.8 462.7L379.3 461.9L379.2 461.7L379.5 461.2L380.0 460.8L380.2 460.7L380.8 461.0L381.2 461.7L381.0 462.3L380.5 462.8Z M331.2 466.3L331.0 466.4L330.5 466.2L330.0 465.4L329.9 465.2L330.2 464.7L330.8 464.2L331.0 464.2L331.4 464.4L331.9 465.2L331.7 465.7L331.2 466.3Z M302.2 468.8L302.0 468.8L301.5 468.6L301.0 467.9L300.9 467.4L300.9 466.9L301.1 466.4L301.5 466.0L302.0 465.8L302.4 465.9L302.8 466.3L303.1 467.2L303.0 467.9L302.2 468.8Z M443.0 469.0L442.8 469.1L442.2 468.9L441.8 467.9L442.0 467.1L442.3 466.7L442.8 466.5L443.3 466.9L443.7 467.7L443.5 468.4L443.0 469.0Z M421.8 472.0L421.5 472.0L421.2 471.8L420.9 471.2L420.8 470.7L421.0 469.9L421.5 469.4L421.8 469.4L422.0 469.7L422.4 470.7L422.2 471.4L421.8 472.0Z M332.5 471.7L332.0 471.4L331.5 470.7L331.8 469.9L332.5 469.5L333.2 469.9L333.5 470.7L333.0 471.4L332.5 471.7Z M364.8 472.6L364.5 472.5L364.3 472.2L364.1 471.7L364.3 471.2L364.5 470.9L364.8 470.8L365.1 471.2L365.3 471.7L365.1 472.2L364.8 472.6Z M439.5 475.3L439.2 475.3L438.8 475.0L438.4 474.4L438.3 473.9L438.6 473.2L439.2 472.7L439.5 472.7L440.0 473.2L440.3 473.9L440.0 474.7L439.5 475.3Z M295.8 476.3L295.5 476.3L295.0 476.1L294.5 475.4L294.4 474.9L294.4 474.4L294.6 473.9L295.0 473.5L295.5 473.3L295.9 473.4L296.2 473.8L296.6 474.7L296.5 475.4L295.8 476.3Z M310.2 476.3L310.0 476.3L309.5 476.1L309.0 475.4L308.9 474.9L308.9 474.4L309.1 473.9L309.5 473.5L310.0 473.3L310.4 473.4L310.8 473.8L311.1 474.7L311.0 475.4L310.2 476.3Z M453.5 477.5L453.2 477.5L452.8 477.2L452.3 476.2L452.6 475.4L453.2 474.9L453.8 475.2L454.1 475.7L454.3 476.2L454.0 476.9L453.5 477.5Z M418.0 477.2L417.8 477.3L417.2 477.0L416.8 476.2L417.2 475.4L417.8 475.1L418.4 475.4L418.8 476.2L418.5 476.8L418.0 477.2Z M357.2 478.5L357.0 478.6L356.5 478.4L356.1 477.9L356.0 477.4L356.1 476.7L356.8 476.0L357.0 476.0L357.3 476.2L357.7 476.7L357.9 477.2L357.7 477.9L357.2 478.5Z M389.0 479.7L388.5 479.3L388.1 478.4L388.2 477.9L388.5 477.5L389.0 477.1L389.5 477.5L389.8 477.9L389.9 478.4L389.5 479.3L389.0 479.7Z M290.0 481.2L289.7 481.2L289.3 480.7L289.4 480.4L289.8 480.0L290.0 480.0L290.4 480.4L290.3 480.9L290.0 481.2Z M284.5 482.0L284.2 482.2L284.0 482.1L283.6 481.4L283.5 481.2L283.8 480.7L284.2 480.4L284.6 480.7L284.9 481.2L284.8 481.7L284.5 482.0Z M315.8 483.3L315.5 483.3L315.0 483.1L314.5 482.4L314.4 481.9L314.4 481.4L314.6 480.9L315.0 480.5L315.5 480.3L315.9 480.4L316.2 480.8L316.6 481.7L316.5 482.4L315.8 483.3Z M333.8 485.0L333.5 485.1L333.0 484.8L332.6 483.9L332.8 483.1L333.1 482.7L333.5 482.5L334.1 482.9L334.5 483.7L334.3 484.4L333.8 485.0Z M344.8 486.3L344.2 485.9L343.8 485.4L343.7 484.9L344.0 484.2L344.5 483.7L344.8 483.7L345.4 484.2L345.7 484.9L345.4 485.7L344.8 486.3Z M402.8 487.5L402.2 487.2L401.7 486.4L402.1 485.7L402.5 485.4L402.8 485.3L403.3 485.7L403.7 486.4L403.2 487.2L402.8 487.5Z M329.8 489.8L329.5 489.8L329.0 489.6L328.5 488.9L328.4 488.4L328.4 487.9L328.6 487.4L329.0 487.0L329.5 486.8L329.9 486.9L330.2 487.3L330.6 488.2L330.5 488.9L329.8 489.8Z M386.5 490.0L386.2 490.1L386.0 489.9L385.5 488.9L385.8 488.0L386.2 487.5L386.8 487.9L387.1 488.7L386.9 489.4L386.5 490.0Z M430.2 492.7L430.0 492.8L429.5 492.6L429.0 491.9L429.3 491.4L430.0 491.0L430.7 491.4L431.0 491.9L430.6 492.4L430.2 492.7Z M272.2 493.5L271.8 493.2L271.4 492.7L271.5 492.4L271.8 492.0L272.2 491.7L272.8 492.1L273.0 492.7L272.7 493.2L272.2 493.5Z M433.8 494.1L433.5 494.0L433.2 493.7L432.9 492.9L433.2 492.2L433.8 491.9L434.2 492.4L434.5 492.9L434.2 493.6L433.8 494.1Z M324.8 495.3L324.5 495.3L324.0 495.1L323.5 494.4L323.4 493.9L323.4 493.4L323.6 492.9L324.0 492.5L324.5 492.3L324.9 492.4L325.2 492.8L325.6 493.7L325.5 494.4L324.8 495.3Z M343.8 501.0L343.5 501.0L343.1 500.7L342.8 500.2L342.6 499.7L342.9 498.9L343.5 498.4L343.8 498.4L344.1 498.7L344.4 499.2L344.6 499.7L344.3 500.4L343.8 501.0Z M304.5 502.5L304.2 502.6L304.0 502.4L303.6 501.7L303.7 500.9L304.2 500.4L304.8 500.7L305.1 501.4L304.9 501.9L304.5 502.5Z M332.2 508.2L332.0 508.3L331.5 508.0L331.1 507.4L331.0 506.9L331.3 506.2L332.0 505.7L332.7 506.2L333.0 506.9L332.7 507.7L332.2 508.2Z M352.8 509.7L352.5 509.9L352.0 509.7L351.6 509.2L351.4 508.7L351.6 507.9L352.2 507.3L352.5 507.3L352.8 507.4L353.2 507.9L353.3 508.4L353.2 509.2L352.8 509.7Z M328.8 510.5L328.5 510.6L328.0 510.3L327.6 509.4L327.8 508.6L328.1 508.2L328.5 508.0L329.1 508.4L329.5 509.2L329.3 509.9L328.8 510.5Z M270.5 511.2L270.0 510.9L269.5 510.2L269.8 509.4L270.5 509.0L271.2 509.4L271.5 510.2L271.0 510.9L270.5 511.2Z M416.8 513.0L416.5 513.0L416.2 512.8L415.9 512.2L415.8 511.7L416.0 510.9L416.5 510.4L416.8 510.4L417.0 510.7L417.4 511.7L417.2 512.5L416.8 513.0Z M322.2 513.5L322.0 513.6L321.5 513.4L321.1 513.0L320.9 512.5L320.9 511.9L321.2 511.4L322.0 511.0L322.8 511.4L323.1 512.2L322.9 513.0L322.2 513.5Z M336.8 516.5L336.5 516.7L336.2 516.7L335.9 516.2L335.7 515.7L335.7 515.0L336.2 514.1L336.5 514.1L336.8 514.3L337.1 515.2L337.1 515.7L336.8 516.5Z M362.8 517.5L362.5 517.6L362.0 517.4L361.6 517.0L361.5 516.5L361.6 515.7L362.2 515.0L362.5 515.0L362.8 515.2L363.2 515.7L363.4 516.2L363.2 517.0L362.8 517.5Z M365.0 523.0L364.5 523.2L364.2 523.0L363.8 522.5L363.6 522.0L363.9 521.2L364.5 520.6L365.0 520.8L365.5 521.7L365.4 522.5L365.0 523.0Z M269.5 529.8L269.0 529.4L268.7 528.7L269.0 528.0L269.5 527.6L270.0 528.0L270.3 528.7L270.0 529.4L269.5 529.8Z M307.2 542.8L307.0 542.9L306.8 542.8L306.2 542.0L306.4 541.2L307.0 540.7L307.5 541.1L307.8 541.7L307.7 542.2L307.2 542.8Z M365.2 548.7L364.6 548.2L364.3 547.5L364.6 546.7L365.2 546.1L365.8 546.5L366.2 547.0L366.3 547.5L366.0 548.2L365.5 548.7L365.2 548.7Z M343.8 371.2L343.5 371.2L343.1 370.9L342.8 370.2L343.1 369.2L343.5 368.7L343.8 368.6L344.3 369.2L344.4 370.2L344.2 370.8L343.8 371.2Z M437.2 375.6L436.8 375.6L436.5 375.5L436.2 375.2L436.0 374.7L436.2 373.7L436.5 373.4L437.0 373.2L437.2 373.2L437.6 373.4L438.0 374.2L437.8 374.9L437.2 375.6Z M390.5 379.3L390.2 379.4L389.8 379.2L389.3 378.7L389.1 378.2L389.3 377.4L389.6 376.9L390.0 376.7L390.2 376.7L390.8 377.1L391.2 377.9L391.0 378.7L390.5 379.3Z M423.8 382.0L423.2 381.7L422.9 380.9L422.8 380.2L422.8 379.4L423.5 378.9L424.1 379.2L424.3 379.4L424.4 379.9L424.3 381.4L424.0 381.9L423.8 382.0Z M406.8 403.8L406.0 403.6L405.5 402.9L405.2 401.9L404.9 400.7L404.9 399.4L405.0 398.7L405.5 397.7L406.0 397.3L406.5 397.4L407.0 397.8L407.5 398.7L407.7 399.4L407.7 400.9L407.5 402.7L407.2 403.3L406.8 403.8Z M422.2 409.2L421.5 409.3L420.8 408.9L419.5 407.2L419.4 406.7L419.5 406.4L419.8 405.9L420.2 405.6L420.5 405.6L421.0 405.8L422.3 407.2L422.6 408.4L422.5 408.9L422.2 409.2Z M405.8 414.0L405.5 414.2L405.2 414.0L404.8 413.4L404.7 412.9L404.7 412.4L404.9 411.9L405.5 411.4L406.0 411.8L406.3 412.7L406.2 413.4L405.8 414.0Z M421.8 419.0L421.5 419.0L421.0 418.8L420.4 417.9L420.5 417.4L420.8 417.1L421.5 416.6L422.2 416.9L422.6 417.7L422.3 418.4L421.8 419.0Z M437.0 431.6L436.2 431.7L435.5 431.5L435.0 430.9L434.6 429.9L434.4 428.7L434.4 427.7L434.8 426.9L435.5 426.4L436.0 426.4L437.0 426.7L437.2 426.8L437.5 427.2L437.8 428.7L437.8 430.2L437.6 430.9L437.0 431.6Z M415.5 434.3L414.8 434.2L414.0 433.8L413.4 432.9L413.0 431.9L413.1 431.2L413.7 430.2L414.2 429.6L415.0 429.3L415.8 429.4L416.4 429.9L416.9 430.7L417.2 431.7L417.1 432.4L416.7 433.2L416.1 433.9L415.5 434.3Z M424.8 439.0L424.2 439.0L423.9 438.7L423.5 438.2L423.4 437.7L423.5 436.4L423.8 435.4L424.2 434.2L424.5 433.8L424.8 433.7L425.0 433.9L425.5 435.1L425.8 436.9L425.7 437.7L425.5 438.2L424.8 439.0Z M438.5 441.0L438.2 440.9L437.8 440.4L437.5 439.7L437.9 438.9L438.5 438.6L439.1 438.9L439.5 439.7L439.2 440.4L438.8 440.9L438.5 441.0Z M449.2 442.0L448.2 442.0L447.8 441.7L447.3 441.2L447.3 440.4L447.5 439.8L448.0 439.3L448.8 438.9L449.8 438.9L450.5 439.5L450.7 439.9L450.7 440.4L450.6 440.9L450.2 441.5L449.8 441.9L449.2 442.0Z M416.8 444.0L415.8 443.7L415.4 443.2L415.5 442.7L416.0 442.5L416.7 442.7L417.7 443.2L418.1 443.7L416.8 444.0Z M423.5 452.2L423.0 451.9L422.6 451.4L422.4 450.9L422.3 450.2L422.4 449.4L422.8 448.9L423.2 448.4L423.8 448.2L424.2 448.5L424.8 449.1L425.0 449.7L425.0 450.4L424.9 450.9L424.4 451.7L424.0 452.1L423.5 452.2Z M440.0 454.7L439.8 454.8L439.2 454.6L438.9 453.9L438.7 452.2L439.0 451.6L439.8 451.8L440.1 452.4L440.4 453.9L440.2 454.4L440.0 454.7Z M390.2 378.6L390.0 378.6L389.9 378.4L389.7 377.9L390.0 377.5L390.2 377.5L390.6 377.9L390.5 378.3L390.2 378.6Z M406.2 400.5L406.0 400.3L405.8 399.4L405.8 398.9L406.0 398.5L406.3 398.7L406.5 399.2L406.5 400.1L406.2 400.5Z M436.0 429.4L435.8 429.3L435.5 429.1L435.3 428.4L435.2 427.9L435.5 427.5L436.0 427.7L436.3 428.2L436.3 428.9L436.0 429.4Z M415.5 433.3L415.0 433.3L414.5 433.1L414.0 432.6L413.7 431.9L413.8 431.4L414.0 430.9L414.5 430.5L415.0 430.3L415.8 430.5L416.2 431.1L416.5 431.7L416.4 432.2L416.1 432.7L415.5 433.3Z M423.8 451.2L423.5 451.3L423.2 451.1L423.0 450.4L423.2 449.4L423.8 449.1L424.1 449.4L424.3 450.2L424.1 450.9L423.8 451.2Z" fill="none" stroke="#3030d0" stroke-width="1" opacity="0.88"/>
<rect x="155.4" y="284.4" width="127.4" height="136.1" fill="#fff" stroke="none"/>
<path d="M249.4 284.4L250.2 284.9L250.9 285.5L252.2 286.9L253.2 288.6L253.7 289.7L254.0 290.9L254.4 293.1L254.6 295.6L254.4 298.1L253.9 300.6L253.0 303.1L251.9 305.4L250.6 307.4L249.1 309.1L247.4 310.6L245.7 311.6L244.7 312.0L243.7 312.3L241.9 312.5L240.9 312.4L240.2 312.2L239.2 311.9L238.4 311.5L237.7 311.0L236.9 310.3L235.7 308.9L234.7 307.1L234.0 305.1L233.6 302.9L233.4 300.4L233.6 297.9L234.1 295.4L235.0 292.9L236.0 290.6L237.4 288.6L238.9 286.8L240.6 285.4L242.3 284.4 M225.2 327.2L223.7 327.4L221.9 327.3L220.4 327.1L218.9 326.6L217.6 325.9L216.4 325.1L215.4 324.0L214.7 322.9L214.2 321.6L213.9 320.4L214.0 319.1L214.3 317.9L214.9 316.6L215.7 315.6L216.7 314.7L217.9 313.9L219.7 313.1L221.4 312.7L223.4 312.6L225.4 312.9L227.2 313.4L228.1 313.9L228.9 314.4L230.2 315.5L230.7 316.1L231.2 316.9L231.6 317.6L231.9 318.4L232.0 319.1L232.1 320.1L231.8 321.6L231.6 322.4L231.2 323.1L230.7 323.9L230.2 324.5L229.5 325.1L228.7 325.8L226.9 326.6L225.2 327.2Z M249.9 332.9L248.2 333.1L247.2 333.1L246.2 333.0L244.4 332.4L243.4 332.0L242.7 331.5L241.2 330.3L240.0 328.9L239.6 328.1L239.1 327.1L238.6 325.4L238.4 323.6L238.4 322.6L238.5 321.6L239.1 319.9L239.5 318.9L240.0 318.1L241.2 316.7L242.7 315.5L243.4 315.0L244.4 314.6L246.2 314.0L247.2 313.9L248.2 313.9L249.9 314.1L251.7 314.6L252.7 315.1L253.4 315.5L254.8 316.6L256.0 318.1L256.5 318.9L256.9 319.9L257.5 321.6L257.6 322.6L257.6 323.6L257.4 325.4L256.9 327.1L256.4 328.1L256.0 328.9L254.9 330.2L253.4 331.5L252.7 331.9L251.7 332.4L249.9 332.9Z M282.6 347.7L281.9 348.2L280.9 348.7L280.1 348.9L279.1 349.1L278.1 349.0L277.4 348.8L276.4 348.4L275.6 347.9L274.9 347.2L274.2 346.4L273.6 345.6L273.1 344.6L272.8 343.6L272.4 342.4L272.3 341.1L272.2 339.9L272.3 338.6L272.4 337.6L272.8 336.4L273.1 335.4L273.6 334.4L274.1 333.6L274.9 332.8L275.6 332.1L276.4 331.6L277.4 331.2L278.1 331.0L279.1 330.9L280.1 331.1L280.9 331.3L281.9 331.8L282.6 332.3 M240.7 361.2L239.2 361.3L237.7 361.2L236.2 360.8L234.7 360.0L233.4 358.9L232.3 357.6L231.4 356.2L230.6 354.4L230.4 354.1L229.7 354.1L229.4 354.2L228.9 354.9L228.2 355.7L227.4 356.4L226.7 356.9L225.4 357.4L224.2 357.8L222.7 357.9L221.2 357.6L219.7 357.0L218.4 356.2L217.2 354.9L216.2 353.4L215.5 351.6L215.2 350.6L215.1 349.6L215.1 347.6L215.5 345.9L216.2 344.1L217.2 342.7L217.9 341.8L218.7 341.2L220.2 340.3L220.9 340.1L221.9 339.8L222.9 339.7L223.9 339.8L224.9 340.0L225.7 340.2L227.2 341.1L227.9 341.7L228.7 342.4L229.4 343.4L229.9 344.3L230.2 344.5L230.9 344.6L231.1 344.4L231.8 343.1L232.7 341.9L233.4 341.1L234.4 340.2L235.4 339.6L236.7 339.0L237.9 338.7L239.2 338.7L240.2 338.8L241.2 339.0L242.2 339.4L243.2 339.9L244.1 340.6L244.9 341.4L245.7 342.4L246.4 343.4L246.7 343.7L247.7 343.5L248.2 342.1L248.9 340.9L249.7 339.9L250.6 338.9L251.4 338.2L252.2 337.7L253.7 337.0L254.7 336.8L255.7 336.7L256.6 336.7L257.6 336.8L258.6 337.2L259.6 337.6L260.6 338.3L261.4 338.9L262.1 339.7L262.9 340.6L263.5 341.6L264.0 342.6L264.5 343.9L264.8 345.1L265.0 346.4L265.1 347.6L265.0 348.9L264.9 350.1L264.7 351.4L264.3 352.6L263.7 353.9L263.2 354.9L262.6 355.7L261.9 356.6L261.1 357.3L260.4 357.9L259.6 358.4L258.6 358.8L257.9 359.1L256.9 359.3L255.9 359.3L254.9 359.3L253.4 358.9L251.9 358.1L250.9 357.4L250.1 356.6L249.4 355.8L248.4 354.3L247.4 354.5L246.7 355.9L246.2 357.0L245.4 358.0L244.7 358.9L243.7 359.7L242.7 360.4L241.7 360.8L240.7 361.2Z M155.4 348.1L156.2 348.0L157.2 347.9L158.2 348.0L158.9 348.2L160.4 348.8L161.2 349.3L161.9 349.9L162.7 350.6L163.2 351.4L164.2 353.1L164.7 354.9L164.9 356.9L164.8 358.9L164.3 360.6L163.9 361.5L163.4 362.4L162.8 363.1L162.2 363.9L161.4 364.6L160.7 365.1L159.9 365.4L158.9 365.8L158.2 366.0L157.2 366.1L156.2 366.0L155.4 365.9 M187.7 374.2L186.4 374.3L185.4 374.3L184.4 374.1L183.4 373.8L182.4 373.3L181.7 372.7L180.9 371.9L180.4 371.1L179.9 370.1L179.6 369.1L179.3 367.9L179.2 366.6L179.3 365.4L179.4 364.1L179.7 362.9L180.2 361.4L180.8 359.9L181.4 358.6L182.2 357.4L183.0 356.1L184.9 354.0L185.9 353.1L187.2 352.1L188.3 351.4L189.4 350.8L190.7 350.3L191.9 349.9L193.2 349.7L194.2 349.7L195.4 349.8L196.4 350.1L197.7 350.7L198.4 351.3L198.9 351.8L199.8 353.1L200.4 354.7L200.7 356.4L200.7 358.4L200.5 360.4L199.8 362.6L199.0 364.6L197.8 366.6L196.4 368.6L194.9 370.2L193.2 371.6L191.4 372.8L189.4 373.7L187.7 374.2Z M241.7 391.7L240.7 391.8L239.7 391.8L238.7 391.7L237.7 391.4L236.7 391.0L235.9 390.6L235.2 390.0L234.4 389.2L233.8 388.4L233.4 387.6L232.9 386.6L232.6 385.6L232.4 384.6L232.3 383.4L232.3 382.4L232.5 381.1L232.7 379.9L233.0 378.9L233.5 377.6L234.0 376.6L234.7 375.6L235.4 374.6L236.3 373.6L237.2 372.8L238.2 372.1L239.2 371.5L240.2 371.0L241.2 370.6L242.2 370.4L243.2 370.2L244.2 370.2L245.2 370.3L246.7 370.7L248.2 371.5L249.4 372.6L250.4 373.9L251.1 375.4L251.5 377.1L251.7 378.9L251.5 380.9L251.0 382.9L250.3 384.6L249.3 386.4L248.1 387.9L246.7 389.3L245.2 390.4L243.4 391.2L241.7 391.7Z M265.1 393.2L263.4 393.1L261.6 392.7L260.6 392.3L259.9 391.9L259.1 391.3L258.4 390.7L257.2 389.1L256.2 387.4L255.6 385.6L255.3 383.6L255.4 381.6L255.8 379.6L256.5 377.9L257.1 376.9L257.6 376.2L258.9 374.9L260.4 373.8L261.1 373.5L262.1 373.1L263.9 372.8L265.6 372.9L267.4 373.4L268.9 374.1L269.6 374.7L270.5 375.4L271.7 376.9L272.6 378.6L273.2 380.4L273.5 382.4L273.4 384.4L273.0 386.1L272.4 387.9L271.9 388.7L271.3 389.6L270.6 390.4L269.9 391.1L268.4 392.1L266.9 392.8L265.1 393.2Z M155.4 377.8L156.4 376.6L157.7 375.5L158.9 374.6L160.4 374.0L161.9 373.6L163.7 373.4L165.4 373.5L166.9 373.8L168.4 374.3L169.9 375.1L171.2 376.1L172.1 377.1L173.0 378.4L173.7 379.9L174.1 381.4L174.2 382.9L174.1 384.4L173.7 385.9L173.1 387.4L172.3 388.6L171.2 389.9L169.9 390.9L168.4 391.7L166.9 392.2L165.4 392.5L163.7 392.6L161.9 392.4L160.4 392.0L158.9 391.3L157.7 390.5L156.4 389.4L155.4 388.2 M212.7 392.7L211.9 392.8L211.2 392.6L210.5 392.1L209.9 391.4L209.4 390.4L209.1 389.4L208.8 388.1L208.6 386.6L208.6 385.1L208.8 383.9L209.0 382.6L209.4 381.6L209.9 380.6L210.5 379.9L211.2 379.4L211.9 379.2L212.7 379.3L213.2 379.6L213.7 380.1L214.2 380.7L214.6 381.6L215.0 382.6L215.2 383.9L215.4 385.1L215.4 386.4L215.3 387.6L215.1 388.9L214.8 389.9L214.4 390.8L213.9 391.6L213.4 392.2L212.7 392.7Z M282.6 407.4L282.2 408.9L281.4 410.4L280.4 411.6L279.4 412.6L278.1 413.3L276.6 413.9L275.4 414.1L273.9 414.0L272.4 413.6L271.1 412.9L269.9 412.0L269.0 410.9L268.2 409.6L267.6 408.1L267.2 406.6L267.1 404.9L267.2 403.1L267.6 401.6L268.3 400.1L269.1 398.9L270.1 397.8L271.4 396.9L272.6 396.3L273.9 396.0L275.4 395.9L276.6 396.1L278.1 396.7L279.4 397.4L280.4 398.4L281.4 399.6L282.1 401.1L282.6 402.6 M243.9 309.4L242.9 309.6L242.2 309.6L241.2 309.4L240.4 309.2L239.7 308.9L238.9 308.4L238.2 307.7L237.7 307.1L237.1 306.4L236.6 305.4L236.2 304.4L235.9 303.4L235.6 301.1L235.5 299.9L235.6 298.6L236.0 296.1L236.4 294.9L236.9 293.6L237.4 292.6L238.1 291.4L239.4 289.6L240.9 288.2L241.7 287.6L242.7 287.1L243.4 286.8L244.4 286.5L245.4 286.4L246.2 286.4L246.9 286.6L247.7 286.8L248.9 287.5L249.7 288.1L250.2 288.6L251.0 289.9L251.8 291.6L252.2 293.4L252.4 295.4L252.4 297.4L252.1 299.4L251.5 301.4L250.6 303.4L249.6 305.1L248.4 306.6L246.9 308.0L245.4 308.9L243.9 309.4Z M224.9 325.7L223.7 325.9L222.4 325.9L221.2 325.7L219.9 325.3L218.9 324.9L217.8 324.1L217.1 323.4L216.4 322.4L215.9 321.4L215.8 320.4L215.8 319.4L216.0 318.4L216.5 317.4L217.0 316.6L217.9 315.8L218.9 315.1L220.2 314.6L221.7 314.2L223.4 314.1L224.9 314.3L226.4 314.8L227.7 315.5L228.7 316.4L229.5 317.4L230.1 318.6L230.3 319.9L230.1 321.1L229.6 322.4L229.2 323.1L228.7 323.6L227.7 324.5L226.4 325.2L224.9 325.7Z M248.9 331.2L247.4 331.2L245.9 330.9L244.4 330.3L243.2 329.5L242.0 328.4L241.2 327.1L240.7 325.9L240.3 324.4L240.3 322.9L240.6 321.4L241.2 319.9L242.0 318.6L243.2 317.5L244.4 316.7L245.7 316.2L247.2 315.8L248.7 315.8L250.2 316.1L251.7 316.7L252.9 317.5L254.0 318.6L254.8 319.9L255.3 321.1L255.7 322.6L255.7 324.1L255.4 325.6L254.8 327.1L254.0 328.4L252.9 329.5L251.7 330.3L250.4 330.8L248.9 331.2Z M282.6 345.4L282.1 345.9L281.4 346.5L280.6 346.9L279.9 347.2L279.1 347.3L278.1 347.2L277.4 346.9L276.6 346.5L275.9 346.0L275.4 345.4L274.8 344.6L274.4 343.9L274.0 342.9L273.7 341.9L273.6 340.9L273.6 339.9L273.6 338.9L273.8 337.9L274.1 336.9L274.5 335.9L275.0 335.1L275.5 334.4L276.1 333.8L276.9 333.3L277.6 333.0L278.4 332.8L279.1 332.7L279.9 332.8L280.6 333.1L281.4 333.5L282.1 334.1L282.6 334.6 M240.4 358.9L238.9 359.1L237.4 358.8L236.7 358.6L235.9 358.2L235.2 357.7L234.5 357.1L233.4 355.8L232.5 354.1L232.0 352.4L231.7 350.2L230.7 350.8L229.2 351.2L228.9 351.5L228.2 353.0L227.4 354.0L226.4 354.9L225.2 355.6L223.9 356.0L223.2 356.1L222.4 356.0L221.2 355.7L219.9 355.1L218.9 354.3L217.9 353.1L217.3 351.9L216.8 350.4L216.7 348.9L216.8 347.4L217.2 345.9L217.9 344.5L218.5 343.6L219.2 343.0L219.9 342.5L220.9 342.0L221.7 341.7L222.7 341.6L223.7 341.6L224.7 341.8L225.4 342.1L226.2 342.5L226.9 343.1L227.5 343.6L228.0 344.4L228.5 345.1L228.9 346.1L229.2 347.0L229.3 347.1L230.8 347.9L231.7 348.5L231.9 348.1L232.2 346.9L232.7 345.6L233.2 344.6L233.9 343.5L234.7 342.6L235.7 342.0L236.7 341.4L237.7 341.1L238.9 340.9L240.2 341.0L241.4 341.4L242.7 342.2L243.7 343.0L244.5 344.1L245.4 345.6L245.9 347.2L246.2 347.3L248.7 347.0L249.4 344.1L249.9 343.1L250.5 342.1L251.2 341.3L252.0 340.4L252.9 339.8L253.9 339.3L254.7 339.1L255.7 338.9L256.6 339.0L257.6 339.2L258.6 339.6L259.4 340.0L260.3 340.6L261.0 341.4L262.0 342.9L262.7 344.6L263.2 346.6L263.2 348.6L262.9 350.6L262.3 352.4L261.4 354.1L260.9 354.7L260.1 355.4L259.4 356.0L258.6 356.4L257.9 356.8L257.1 357.0L255.7 357.1L254.2 356.8L253.3 356.4L252.4 355.9L251.7 355.3L251.1 354.6L250.0 353.1L249.5 352.1L249.2 351.0L248.9 350.7L246.4 351.0L246.2 351.4L245.9 352.9L245.5 354.1L245.0 355.1L244.3 356.1L243.5 357.1L242.6 357.9L241.4 358.6L240.4 358.9Z M155.4 350.0L156.2 349.8L156.9 349.7L158.3 349.9L159.7 350.4L160.9 351.3L161.9 352.4L162.7 353.7L163.1 355.1L163.3 356.9L163.2 358.6L162.7 360.1L161.9 361.6L160.9 362.7L159.7 363.6L158.4 364.1L157.7 364.2L156.9 364.3L156.2 364.2L155.4 364.0 M188.4 371.7L187.4 371.8L186.7 371.8L185.7 371.7L184.9 371.5L184.2 371.2L183.4 370.6L182.9 370.1L182.4 369.5L182.0 368.6L181.7 367.9L181.4 366.1L181.5 364.1L181.7 363.1L182.0 361.9L183.0 359.6L184.2 357.7L185.7 355.9L187.4 354.3L188.4 353.7L189.4 353.1L190.4 352.7L191.4 352.4L192.4 352.2L193.2 352.2L194.2 352.2L194.9 352.4L196.0 352.9L196.9 353.6L197.7 354.6L198.2 355.9L198.6 357.4L198.6 358.9L198.4 360.4L198.0 362.1L197.3 363.9L196.4 365.4L195.4 366.9L194.2 368.3L192.9 369.4L191.4 370.5L189.9 371.2L188.4 371.7Z M240.7 389.7L239.2 389.5L238.4 389.3L237.7 389.0L236.4 388.1L235.4 386.9L234.7 385.4L234.3 383.6L234.3 381.9L234.6 380.1L235.2 378.4L236.2 376.6L237.4 375.1L238.9 373.9L240.4 373.0L241.9 372.5L242.9 372.4L243.7 372.3L245.2 372.6L246.4 373.1L247.4 373.8L248.3 374.6L249.0 375.9L249.5 377.1L249.7 378.6L249.7 380.1L249.4 381.9L248.9 383.4L248.1 384.9L247.2 386.2L246.0 387.4L244.7 388.4L243.4 389.1L242.2 389.5L240.7 389.7Z M264.6 391.2L263.1 391.0L261.9 390.7L260.6 390.0L259.4 388.9L258.4 387.6L257.8 386.4L257.3 384.9L257.2 383.4L257.2 381.6L257.6 380.1L258.3 378.6L259.1 377.4L260.1 376.4L261.4 375.6L262.6 375.1L264.1 374.8L265.6 375.0L266.9 375.3L268.1 376.0L269.4 377.1L270.4 378.4L271.0 379.6L271.5 381.1L271.7 382.6L271.6 384.4L271.2 385.9L270.5 387.4L269.6 388.6L268.6 389.6L267.4 390.4L266.1 390.9L264.6 391.2Z M164.9 390.7L163.2 390.7L161.7 390.4L160.2 389.8L158.9 389.0L157.7 387.9L156.8 386.6L156.2 385.4L155.9 383.9L155.9 382.4L156.1 380.9L156.8 379.4L157.7 378.2L158.7 377.1L159.9 376.3L161.4 375.7L162.9 375.4L164.7 375.3L166.2 375.6L167.7 376.1L169.0 376.9L170.2 377.9L171.1 379.1L171.8 380.6L172.1 382.1L172.1 383.6L171.8 385.1L171.2 386.6L170.4 387.8L169.3 388.9L167.9 389.8L166.4 390.4L164.9 390.7Z M212.2 391.4L211.7 391.4L211.2 391.2L210.7 390.7L210.2 390.0L209.8 389.1L209.5 388.1L209.3 386.1L209.4 384.1L209.7 383.3L210.0 382.4L210.4 381.6L210.9 381.0L211.4 380.7L211.9 380.6L212.4 380.6L212.9 380.9L213.4 381.3L213.8 381.9L214.2 382.7L214.5 383.6L214.6 384.6L214.7 385.6L214.7 386.9L214.6 387.9L214.3 388.9L214.0 389.6L213.7 390.3L213.2 390.9L212.7 391.3L212.2 391.4Z M275.9 412.2L274.6 412.2L273.4 412.0L272.1 411.5L271.1 410.8L270.3 409.9L269.5 408.6L269.0 407.4L268.7 405.9L268.7 404.4L268.9 402.9L269.4 401.6L270.1 400.4L270.9 399.5L271.9 398.6L273.1 398.1L274.4 397.8L275.6 397.8L276.9 398.1L278.1 398.6L279.0 399.4L279.9 400.4L280.6 401.6L281.1 402.9L281.3 404.1L281.3 405.6L281.1 406.9L280.7 408.1L280.0 409.4L279.1 410.5L278.1 411.3L277.1 411.8L275.9 412.2Z M243.4 306.7L242.2 306.6L240.9 306.2L239.9 305.6L239.4 305.0L238.9 304.4L238.3 303.1L237.9 301.6L237.7 299.9L237.7 298.1L238.1 296.4L238.7 294.6L239.5 293.1L240.6 291.6L241.9 290.5L243.2 289.8L244.4 289.4L245.7 289.3L246.7 289.6L247.7 290.1L248.7 291.0L249.4 292.1L249.9 293.4L250.2 294.9L250.3 296.4L250.2 297.9L249.9 299.6L249.4 301.1L248.8 302.4L247.9 303.7L246.9 304.9L245.9 305.7L244.7 306.3L243.4 306.7Z M223.4 324.4L222.4 324.4L221.4 324.2L220.4 323.9L219.7 323.5L218.9 322.9L218.2 322.1L217.8 321.4L217.6 320.6L217.6 319.6L217.7 318.9L218.1 318.1L218.6 317.4L219.4 316.7L220.2 316.2L220.9 315.9L221.9 315.7L223.2 315.6L224.2 315.7L225.2 315.9L226.2 316.4L226.9 316.9L227.6 317.6L228.1 318.4L228.4 319.4L228.4 320.4L228.3 321.1L227.8 322.1L227.2 322.9L226.4 323.5L225.4 324.0L224.4 324.3L223.4 324.4Z M249.2 329.2L248.2 329.3L246.9 329.2L245.9 328.9L244.9 328.4L243.9 327.6L243.2 326.7L242.6 325.6L242.3 324.6L242.2 323.6L242.3 322.4L242.6 321.4L243.2 320.4L243.9 319.4L244.9 318.6L245.9 318.1L246.9 317.8L248.2 317.7L249.2 317.8L250.2 318.1L251.2 318.6L252.1 319.4L252.7 320.1L253.3 321.1L253.7 322.4L253.8 323.6L253.7 324.6L253.4 325.6L252.8 326.6L252.2 327.5L251.2 328.3L250.2 328.9L249.2 329.2Z M282.6 342.4L282.3 343.1L281.8 343.9L281.4 344.4L280.8 344.9L280.1 345.2L279.4 345.4L278.6 345.4L278.1 345.3L277.4 345.0L276.9 344.7L276.4 344.1L275.8 343.4L275.4 342.6L275.1 341.6L275.0 340.9L274.9 339.9L275.0 338.9L275.2 338.1L275.5 337.1L275.9 336.5L276.4 335.8L276.9 335.3L277.4 335.0L278.1 334.7L278.9 334.6L279.6 334.6L280.1 334.8L280.9 335.1L281.4 335.6L281.9 336.2L282.4 336.9L282.6 337.6 M257.1 354.7L256.1 354.8L254.9 354.7L253.9 354.3L252.9 353.6L252.0 352.6L251.4 351.6L250.9 350.4L250.6 349.1L250.6 347.6L250.7 346.4L251.1 345.1L251.7 343.9L252.4 342.9L253.4 342.0L254.4 341.5L255.4 341.2L256.4 341.2L257.4 341.4L258.4 341.9L259.4 342.6L260.0 343.4L260.6 344.5L261.1 345.6L261.4 346.9L261.4 348.1L261.3 349.4L261.0 350.6L260.5 351.9L259.8 352.9L259.0 353.6L258.1 354.3L257.1 354.7Z M223.7 354.2L222.7 354.2L221.9 354.1L220.9 353.7L220.1 353.1L219.4 352.4L218.8 351.4L218.4 350.4L218.3 349.4L218.3 348.4L218.4 347.4L218.7 346.4L219.3 345.4L219.9 344.6L220.9 343.9L221.7 343.6L222.7 343.4L223.7 343.4L224.4 343.6L225.4 344.1L226.1 344.6L226.7 345.3L227.2 346.1L227.5 347.1L227.7 348.1L227.8 349.1L227.6 350.1L227.3 351.1L226.8 352.1L226.2 352.9L225.4 353.5L224.7 353.9L223.7 354.2Z M240.2 356.7L239.2 356.8L237.9 356.7L236.9 356.3L235.9 355.6L235.0 354.6L234.4 353.6L233.9 352.4L233.6 351.1L233.6 349.6L233.7 348.4L234.1 347.1L234.7 345.9L235.4 344.9L236.4 344.0L237.4 343.5L238.4 343.2L239.4 343.2L240.4 343.4L241.4 343.9L242.4 344.6L243.0 345.4L243.7 346.5L244.1 347.6L244.4 348.9L244.4 350.1L244.3 351.4L244.0 352.6L243.5 353.9L242.8 354.9L242.0 355.6L241.2 356.3L240.2 356.7Z M155.4 351.9L156.4 351.6L157.7 351.6L158.7 351.9L159.7 352.5L160.6 353.4L161.2 354.4L161.6 355.6L161.8 356.9L161.7 358.1L161.3 359.4L160.7 360.5L159.8 361.4L158.9 362.0L157.7 362.4L156.4 362.4L155.4 362.1 M189.2 369.2L188.4 369.3L187.7 369.4L186.4 369.2L185.4 368.7L184.9 368.3L184.5 367.9L183.9 366.8L183.6 365.4L183.6 363.9L183.9 362.1L184.6 360.4L185.5 358.9L186.8 357.4L188.2 356.2L189.4 355.4L190.9 354.8L191.7 354.7L192.4 354.6L193.7 354.8L194.4 355.1L195.2 355.7L195.7 356.4L196.2 357.4L196.4 358.4L196.5 359.4L196.4 360.6L196.1 361.9L195.6 363.1L194.9 364.4L194.3 365.4L193.4 366.4L192.4 367.4L191.4 368.1L190.4 368.7L189.2 369.2Z M241.7 387.4L240.4 387.5L239.4 387.3L238.4 386.8L237.9 386.4L237.4 385.9L236.8 384.9L236.3 383.6L236.2 382.4L236.3 380.9L236.7 379.4L237.4 378.1L238.2 377.0L239.2 376.1L240.2 375.4L241.4 374.8L242.7 374.5L243.9 374.6L244.9 374.9L245.8 375.4L246.6 376.1L247.1 376.9L247.5 377.9L247.8 378.9L247.8 379.9L247.7 381.1L247.3 382.4L246.9 383.4L246.3 384.4L245.4 385.4L244.7 386.1L243.7 386.8L242.7 387.2L241.7 387.4Z M265.6 389.0L264.6 389.1L263.4 389.0L262.4 388.7L261.4 388.1L260.6 387.4L259.9 386.4L259.4 385.4L259.1 384.1L259.0 382.9L259.1 381.6L259.5 380.4L260.0 379.4L260.8 378.4L261.6 377.7L262.6 377.2L263.6 376.9L264.6 376.9L265.6 377.0L266.6 377.4L267.6 378.1L268.4 378.8L269.0 379.6L269.4 380.6L269.8 381.9L269.8 383.1L269.7 384.1L269.4 385.4L268.9 386.4L268.2 387.4L267.4 388.1L266.6 388.6L265.6 389.0Z M165.2 388.7L164.2 388.8L162.9 388.7L161.7 388.3L160.7 387.8L159.7 387.1L158.9 386.2L158.3 385.1L158.0 384.1L157.9 383.1L158.0 381.9L158.3 380.9L158.8 379.9L159.4 379.1L160.4 378.3L161.4 377.8L162.7 377.4L163.9 377.2L165.2 377.3L166.4 377.7L167.4 378.2L168.4 379.0L169.2 379.9L169.7 380.9L170.0 381.9L170.1 383.1L170.0 384.1L169.7 385.1L169.1 386.1L168.4 387.0L167.4 387.8L166.4 388.3L165.2 388.7Z M212.4 390.0L212.2 390.1L211.7 390.0L211.2 389.7L210.9 389.4L210.6 388.9L210.3 388.1L210.1 387.4L210.0 386.4L210.0 384.9L210.4 383.4L210.7 382.9L211.2 382.3L211.4 382.1L211.9 381.9L212.4 382.0L212.7 382.1L213.0 382.4L213.3 382.9L213.8 384.1L214.0 385.4L214.0 386.9L213.7 388.4L213.2 389.4L212.9 389.7L212.4 390.0Z M275.4 410.4L274.4 410.4L273.6 410.2L272.6 409.7L271.9 409.1L271.3 408.4L270.7 407.4L270.4 406.4L270.3 405.4L270.3 404.4L270.4 403.4L270.8 402.4L271.4 401.4L272.1 400.6L272.9 400.1L273.6 399.8L274.6 399.6L275.6 399.6L276.4 399.8L277.4 400.3L278.1 400.9L278.8 401.6L279.3 402.6L279.6 403.6L279.8 404.6L279.7 405.6L279.5 406.6L279.2 407.6L278.6 408.5L277.9 409.3L277.1 409.9L276.4 410.2L275.4 410.4Z M244.2 303.7L243.2 303.8L242.4 303.7L241.7 303.3L240.9 302.7L240.4 301.9L240.0 300.9L239.8 299.9L239.8 298.6L239.9 297.4L240.3 296.1L240.8 295.1L241.4 294.1L242.2 293.3L243.2 292.6L244.2 292.3L244.9 292.2L245.7 292.3L246.3 292.6L246.9 293.1L247.4 293.8L247.8 294.6L248.1 295.4L248.2 296.4L248.2 297.4L248.1 298.4L247.8 299.4L247.5 300.4L246.9 301.4L246.3 302.1L245.7 302.8L244.9 303.3L244.2 303.7Z M223.7 322.9L222.4 322.9L221.2 322.5L220.7 322.2L220.2 321.8L219.8 321.4L219.5 320.9L219.4 320.4L219.4 319.9L219.4 319.4L219.6 318.9L220.0 318.4L220.4 317.9L221.4 317.4L222.2 317.1L222.9 317.1L223.7 317.1L224.4 317.3L225.2 317.6L225.7 318.0L226.2 318.5L226.5 319.1L226.6 319.6L226.6 320.4L226.5 320.9L226.2 321.5L225.7 322.0L225.1 322.4L224.4 322.7L223.7 322.9Z M249.2 327.2L248.4 327.3L247.7 327.3L246.9 327.2L246.2 326.9L245.5 326.4L245.0 325.9L244.6 325.4L244.3 324.6L244.2 323.9L244.2 323.1L244.3 322.4L244.6 321.6L245.2 320.9L245.7 320.4L246.2 320.1L246.9 319.8L247.7 319.7L248.4 319.7L249.2 319.8L249.9 320.1L250.6 320.6L251.1 321.1L251.4 321.7L251.7 322.4L251.8 323.1L251.8 323.9L251.7 324.6L251.4 325.3L251.0 325.9L250.4 326.5L249.8 326.9L249.2 327.2Z M279.9 343.4L279.4 343.6L278.6 343.6L278.1 343.4L277.6 343.2L277.1 342.7L276.8 342.1L276.6 341.6L276.4 340.9L276.3 340.1L276.3 339.4L276.5 338.6L276.8 337.9L277.1 337.3L277.6 336.8L278.1 336.6L278.6 336.4L279.1 336.4L279.6 336.5L280.1 336.7L280.6 337.1L281.2 337.9L281.4 338.4L281.6 339.1L281.7 340.4L281.4 341.7L280.9 342.6L280.4 343.1L279.9 343.4Z M256.6 352.5L255.9 352.5L255.2 352.4L254.4 352.1L253.9 351.7L253.4 351.1L252.9 350.4L252.6 349.6L252.4 348.6L252.4 347.6L252.5 346.9L252.8 345.9L253.2 345.2L253.7 344.5L254.2 344.1L254.9 343.7L255.7 343.5L256.4 343.5L256.9 343.6L257.6 344.0L258.2 344.4L258.6 344.9L259.1 345.6L259.4 346.4L259.6 347.4L259.6 348.4L259.5 349.1L259.3 349.9L258.9 350.6L258.4 351.4L257.9 351.9L257.4 352.2L256.6 352.5Z M223.2 352.4L222.4 352.4L221.9 352.2L221.4 351.9L220.9 351.5L220.4 350.9L220.2 350.4L219.9 349.6L219.8 348.9L220.0 347.6L220.3 346.9L220.7 346.4L221.2 345.9L221.7 345.5L222.2 345.3L222.9 345.2L223.7 345.2L224.2 345.4L224.7 345.7L225.2 346.1L225.6 346.6L225.9 347.3L226.1 347.9L226.2 348.6L226.0 349.9L225.7 350.6L225.4 351.2L224.9 351.7L224.4 352.1L223.9 352.3L223.2 352.4Z M239.7 354.5L238.9 354.5L238.2 354.4L237.4 354.1L236.9 353.7L236.4 353.1L235.9 352.4L235.6 351.6L235.4 350.6L235.4 349.6L235.5 348.9L235.8 347.9L236.2 347.2L236.7 346.5L237.2 346.1L237.9 345.7L238.7 345.5L239.4 345.5L239.9 345.6L240.7 346.0L241.2 346.4L241.7 346.9L242.1 347.6L242.4 348.4L242.6 349.4L242.6 350.4L242.5 351.1L242.3 351.9L241.9 352.6L241.4 353.4L240.9 353.9L240.4 354.2L239.7 354.5Z M155.4 353.9L156.2 353.5L157.2 353.4L157.9 353.5L158.7 353.9L159.2 354.4L159.7 355.1L160.0 355.9L160.2 356.9L160.1 357.9L159.8 358.6L159.4 359.4L158.7 360.1L157.9 360.5L157.2 360.6L156.2 360.5L155.4 360.1 M188.7 366.9L187.9 366.9L187.2 366.6L186.5 366.1L186.0 365.4L185.8 364.6L185.7 363.6L185.8 362.6L186.2 361.4L186.7 360.4L187.4 359.4L188.2 358.6L189.2 357.9L190.2 357.4L190.9 357.1L191.9 357.1L192.7 357.3L193.2 357.6L193.7 358.0L194.0 358.6L194.2 359.4L194.3 360.1L194.3 360.9L194.1 361.6L193.8 362.6L192.9 364.2L192.3 364.9L191.7 365.5L190.9 366.1L190.2 366.5L189.4 366.8L188.7 366.9Z M242.2 385.2L241.2 385.3L240.4 385.2L239.7 384.9L239.2 384.5L238.7 383.8L238.3 382.9L238.1 382.1L238.2 381.1L238.4 380.1L238.7 379.4L239.2 378.6L239.9 377.9L240.7 377.3L241.4 376.9L242.4 376.7L243.2 376.7L243.9 376.9L244.4 377.1L245.2 377.9L245.5 378.4L245.8 379.1L245.9 379.9L245.9 380.6L245.7 381.4L245.5 382.1L245.1 382.9L244.7 383.5L244.1 384.1L243.4 384.6L242.9 384.9L242.2 385.2Z M165.2 386.7L164.4 386.8L163.7 386.8L162.9 386.7L162.2 386.4L161.4 386.0L160.9 385.5L160.4 384.9L160.1 384.1L159.9 383.4L159.9 382.6L160.1 381.9L160.4 381.2L160.9 380.5L161.4 380.0L162.0 379.6L162.7 379.4L163.4 379.2L164.4 379.2L165.2 379.3L165.9 379.6L166.7 380.1L167.2 380.5L167.6 381.1L167.9 381.9L168.1 382.6L168.1 383.4L167.9 384.1L167.6 384.9L167.2 385.5L166.7 385.9L165.9 386.4L165.2 386.7Z M265.4 386.9L264.6 387.1L263.9 387.0L263.1 386.8L262.6 386.6L262.1 386.1L261.5 385.4L261.1 384.6L260.9 383.9L260.8 383.1L260.9 382.1L261.1 381.4L261.4 380.7L261.9 380.0L262.4 379.6L262.9 379.3L263.6 379.0L264.4 378.9L265.1 379.0L265.9 379.3L266.4 379.6L266.9 380.0L267.4 380.6L267.6 381.2L267.9 381.9L268.0 382.6L268.0 383.4L267.9 384.1L267.6 384.9L267.2 385.6L266.6 386.2L266.1 386.6L265.4 386.9Z M212.2 388.7L211.7 388.6L211.2 388.1L210.8 387.1L210.6 386.1L210.7 385.1L211.0 384.1L211.4 383.6L211.9 383.3L212.4 383.4L212.9 384.0L213.2 384.6L213.3 385.6L213.3 386.6L213.1 387.6L212.7 388.4L212.2 388.7Z M275.9 408.5L275.4 408.6L274.6 408.6L273.9 408.4L273.4 408.1L272.9 407.7L272.4 407.1L272.1 406.6L271.9 405.9L271.8 405.1L271.9 404.4L272.1 403.6L272.3 403.1L272.6 402.6L273.1 402.1L273.6 401.7L274.4 401.4L275.1 401.4L275.6 401.4L276.1 401.6L276.7 401.9L277.1 402.3L277.6 402.9L277.8 403.4L278.1 404.1L278.2 404.9L278.1 405.6L277.9 406.4L277.7 406.9L277.4 407.4L276.9 407.9L276.4 408.3L275.9 408.5Z M244.4 300.7L243.9 300.9L243.4 300.9L242.9 300.7L242.7 300.5L242.3 300.1L242.1 299.6L241.9 298.6L242.0 297.4L242.3 296.6L242.7 296.2L243.4 295.4L243.9 295.2L244.4 295.1L245.2 295.3L245.7 295.8L245.9 296.4L246.1 297.4L246.0 298.4L245.6 299.4L245.1 300.1L244.4 300.7Z M223.4 321.4L222.7 321.4L222.2 321.3L221.6 320.9L221.3 320.4L221.2 319.9L221.3 319.4L221.7 319.0L222.2 318.7L222.9 318.5L223.7 318.6L224.2 318.9L224.7 319.4L224.8 319.6L224.8 320.1L224.6 320.6L224.1 321.1L223.4 321.4Z M248.2 325.4L247.4 325.3L246.7 324.9L246.3 324.4L246.1 323.6L246.2 322.9L246.6 322.1L247.2 321.8L247.9 321.6L248.7 321.7L249.4 322.1L249.7 322.6L249.9 323.4L249.8 324.1L249.4 324.8L248.9 325.2L248.2 325.4Z M279.4 341.7L278.9 341.8L278.4 341.6L277.9 341.1L277.7 340.4L277.7 339.6L277.9 338.9L278.4 338.4L278.9 338.2L279.4 338.3L279.9 338.6L280.2 339.1L280.3 339.6L280.3 340.4L280.2 340.9L279.9 341.4L279.4 341.7Z M256.4 350.2L255.7 350.2L255.0 349.9L254.7 349.5L254.4 349.1L254.2 348.4L254.3 347.4L254.5 346.6L255.2 346.0L255.9 345.7L256.6 345.9L257.1 346.2L257.6 346.9L257.8 347.6L257.8 348.4L257.6 349.1L257.1 349.8L256.9 350.0L256.4 350.2Z M223.7 350.5L223.2 350.6L222.4 350.5L221.9 350.1L221.5 349.4L221.4 348.6L221.6 347.9L222.0 347.4L222.7 347.0L223.2 347.0L223.7 347.1L224.2 347.6L224.5 348.1L224.6 348.6L224.5 349.4L224.2 350.0L223.7 350.5Z M239.4 352.2L238.7 352.2L238.0 351.9L237.7 351.5L237.4 351.1L237.2 350.4L237.3 349.4L237.5 348.6L238.2 348.0L238.9 347.7L239.7 347.9L240.2 348.2L240.6 348.9L240.8 349.6L240.8 350.4L240.6 351.1L240.2 351.8L239.9 352.0L239.4 352.2Z M157.7 358.7L157.2 358.8L156.4 358.7L155.9 358.3L155.5 357.6L155.4 356.9L155.6 356.1L155.9 355.6L156.3 355.4L156.7 355.2L157.2 355.2L157.7 355.4L158.2 355.8L158.5 356.4L158.6 357.1L158.5 357.6L158.2 358.2L157.7 358.7Z M189.7 364.4L189.2 364.5L188.8 364.4L188.4 364.2L188.1 363.9L187.9 363.4L187.8 362.9L188.0 361.9L188.6 360.9L189.4 360.0L189.9 359.8L190.4 359.6L191.2 359.6L191.7 359.8L192.0 360.4L192.2 361.1L192.0 361.9L191.7 362.6L191.2 363.5L190.4 364.1L189.7 364.4Z M241.7 383.2L240.9 383.0L240.4 382.5L240.1 381.9L240.1 381.4L240.1 380.9L240.3 380.4L240.6 379.9L241.2 379.3L241.9 378.9L242.7 378.9L243.3 379.1L243.7 379.6L243.9 380.4L243.9 381.1L243.6 381.9L242.9 382.6L242.4 383.0L241.7 383.2Z M164.2 384.9L163.4 384.8L162.7 384.4L162.2 383.9L162.0 383.1L162.1 382.4L162.5 381.6L163.2 381.2L163.9 381.1L164.7 381.2L165.4 381.6L165.8 382.1L166.0 382.9L165.9 383.6L165.6 384.1L165.4 384.4L164.9 384.7L164.2 384.9Z M264.9 385.0L264.1 385.0L263.4 384.7L262.9 384.1L262.6 383.4L262.6 382.6L262.9 381.9L263.4 381.3L264.1 381.0L264.9 381.0L265.4 381.3L265.9 381.9L266.2 382.6L266.2 383.4L265.9 384.1L265.5 384.6L264.9 385.0Z M212.2 387.3L211.9 387.3L211.7 387.2L211.4 386.6L211.3 386.1L211.3 385.6L211.5 385.1L211.7 384.8L211.9 384.7L212.2 384.7L212.4 384.9L212.7 385.6L212.6 386.6L212.4 387.1L212.2 387.3Z M275.6 406.7L275.1 406.8L274.4 406.7L273.9 406.3L273.5 405.6L273.4 404.9L273.6 404.1L273.9 403.6L274.3 403.4L274.6 403.2L275.1 403.2L275.7 403.4L276.1 403.8L276.5 404.4L276.6 405.1L276.5 405.6L276.1 406.2L275.6 406.7Z" fill="none" stroke="#e02828" stroke-width="1"/>
<path d="M254.9 284.4L255.9 284.7L256.9 285.1L257.9 285.6L258.6 286.2L259.4 286.9L260.2 287.6L260.8 288.4L261.4 289.4L261.9 290.4L262.3 291.4L262.6 292.4L262.9 293.6L263.0 295.9L262.9 297.1L262.7 298.1L262.3 299.6L261.6 301.1L260.9 302.4L259.7 303.9L258.7 306.1L258.6 306.4L258.3 308.4L257.9 309.9L257.1 311.4L256.2 312.9L255.4 313.7L254.7 314.4L253.7 315.1L252.7 315.7L251.7 316.0L250.4 316.3L249.4 316.5L248.2 316.4L246.4 316.1L244.6 315.4L243.1 314.4L242.4 313.7L241.6 312.9L241.1 312.1L240.5 311.1L239.8 309.4L239.3 307.4L239.3 306.4L239.3 305.1L239.6 303.4L240.0 301.9L240.7 300.4L241.8 298.9L241.9 298.6L242.2 297.4L242.6 296.1L242.6 294.4L242.9 292.6L243.4 291.1L244.1 289.6L244.7 288.6L245.4 287.7L246.1 286.9L246.9 286.2L247.7 285.6L248.7 285.1L249.7 284.7L250.7 284.4 M282.6 305.1L281.4 304.8L280.1 304.2L279.1 303.4L278.0 302.1L277.3 300.9L276.6 299.3L276.3 297.6L276.2 295.9L276.3 294.1L276.7 292.6L277.3 291.1L278.1 289.6L279.1 288.5L280.1 287.8L281.4 287.2L282.6 286.9 M282.6 321.5L282.0 323.1L281.0 324.9L279.8 326.4L278.4 327.5L276.9 328.3L275.1 328.9L273.6 329.1L271.9 328.9L270.1 328.4L268.6 327.6L267.4 326.6L266.1 325.1L265.1 323.5L264.4 321.6L264.0 319.9L263.9 317.9L264.0 315.9L264.5 314.1L265.2 312.4L266.1 310.8L267.4 309.4L268.7 308.4L270.1 307.6L271.9 307.1L273.6 306.9L275.1 307.1L276.9 307.7L278.4 308.5L279.8 309.6L281.1 311.1L281.9 312.6L282.6 314.5 M155.4 381.3L155.6 380.4L155.9 379.3L156.3 378.4L156.8 377.4L157.4 376.6L158.2 375.7L159.7 374.4L161.2 373.6L162.7 373.0L163.7 372.8L164.7 372.6L167.2 372.7L168.8 371.9L169.1 370.9L169.5 369.9L170.0 368.9L170.6 368.1L171.2 367.4L172.1 366.6L174.2 365.3L175.1 364.1L176.2 363.1L177.0 361.1L177.9 359.5L178.9 357.8L180.1 356.1L181.2 354.6L182.7 353.1L184.2 351.7L185.7 350.5L187.4 349.3L189.4 348.3L191.4 347.5L193.2 347.1L194.9 347.0L196.7 347.1L198.2 347.6L199.7 348.5L199.9 348.4L200.4 346.4L200.3 344.6L200.5 342.9L200.8 341.4L201.3 340.1L202.1 338.6L203.0 337.4L204.1 336.4L205.5 335.4L205.7 334.1L204.9 333.3L204.2 332.4L203.6 331.4L203.0 330.1L202.6 328.4L202.5 326.6L202.6 325.6L202.8 324.6L203.4 322.9L203.9 322.0L204.5 321.1L205.2 320.4L206.0 319.6L206.9 319.0L207.9 318.4L208.9 318.0L210.2 317.7L211.4 317.5L212.7 317.5L213.9 317.7L215.2 318.0L216.7 317.4L217.7 315.9L218.4 315.0L219.4 314.0L220.4 313.2L221.7 312.5L222.9 312.0L224.2 311.6L225.4 311.3L226.9 311.2L228.4 311.3L229.9 311.6L231.2 312.0L232.6 312.6L233.8 313.4L234.9 314.3L236.0 315.4L237.0 316.9L237.7 318.4L238.1 319.9L238.3 321.6L238.2 323.4L237.9 324.9L237.4 326.4L236.4 328.0L235.2 329.5L233.7 330.7L231.9 331.7L229.9 332.4L228.2 332.7L226.4 332.8L225.2 332.6L224.2 332.4L223.2 332.1L221.7 331.5L220.4 331.9L220.0 332.1L218.9 333.6L217.7 334.7L216.2 335.6L214.4 336.2L214.3 336.4L214.1 337.4L215.2 339.1L215.9 340.6L216.5 342.4L216.7 344.1L216.7 345.9L216.4 347.6L216.0 349.1L215.3 350.6L214.4 352.1L213.2 353.4L212.4 354.0L211.7 354.4L210.2 355.0L208.9 355.2L207.7 355.2L206.7 354.9L205.9 354.7L204.4 353.8L202.9 353.7L202.7 353.9L202.8 355.1L202.9 356.4L202.8 357.6L202.6 359.1L202.0 361.9L200.9 364.9L199.5 367.6L197.7 370.4L195.7 372.9L193.4 375.1L192.2 376.1L190.9 377.0L187.9 378.7L186.8 379.6L185.7 380.5L182.2 382.5L180.9 383.0L179.7 383.3L178.4 383.4L176.9 383.4L175.6 384.6L175.0 386.4L174.5 387.6L173.7 388.9L172.8 389.9L171.7 390.9L170.6 391.6L169.4 392.2L167.9 392.7L166.9 392.9L165.9 393.0L164.7 393.0L163.7 392.8L162.7 392.6L161.7 392.3L159.9 391.3L159.0 390.6L158.2 389.9L157.5 389.1L156.9 388.3L156.4 387.4L156.0 386.4L155.6 385.4L155.4 384.3 M282.6 353.6L282.0 354.4L281.2 355.1L280.4 355.8L279.6 356.3L278.9 356.6L277.9 357.0L277.1 357.1L276.1 357.2L275.1 357.2L274.4 357.1L272.9 356.6L271.9 356.0L271.1 355.5L270.4 354.8L269.5 353.9L269.4 353.8L268.1 353.7L266.6 355.7L265.9 356.4L265.1 357.1L265.6 358.3L267.4 359.0L268.6 359.7L269.9 360.8L271.0 362.1L271.8 363.6L272.3 365.1L272.6 366.6L272.5 368.4L272.2 370.1L271.6 371.9L270.6 373.4L269.5 374.6L268.1 375.6L266.5 376.4L264.9 376.8L263.1 376.8L261.9 376.6L260.6 376.2L259.4 375.6L258.4 374.9L257.4 373.9L256.6 372.9L255.9 371.6L255.4 370.4L255.2 369.4L255.0 368.1L255.0 366.9L255.2 365.6L255.5 364.4L256.0 363.1L256.8 361.9L257.7 360.6L257.7 359.4L257.6 359.3L255.7 358.9L253.9 358.3L252.2 357.2L250.7 355.8L250.4 355.6L249.2 356.0L248.0 357.9L246.9 359.2L245.4 360.5L243.9 361.4L242.4 362.0L240.7 362.3L238.9 362.2L237.4 361.8L235.9 361.1L234.4 360.1L233.2 358.8L232.1 357.4L231.2 355.6L230.6 353.9L230.1 351.9L230.0 349.9L230.1 347.6L230.6 345.6L231.3 343.6L232.3 341.9L233.7 340.2L235.2 339.0L236.7 338.1L238.4 337.5L239.4 337.4L240.7 337.3L241.7 337.5L242.7 337.7L243.8 338.1L244.9 338.7L245.9 339.5L247.2 340.7L247.4 340.8L248.7 340.7L250.4 338.3L251.3 337.4L252.1 336.6L253.2 336.0L254.2 335.4L255.2 335.0L256.4 334.7L257.9 334.4L259.4 334.5L260.9 334.7L262.4 335.1L263.9 335.9L265.1 336.6L266.4 337.8L267.4 339.0L267.6 339.1L268.9 338.8L269.6 337.8L270.5 336.9L271.4 336.1L272.4 335.5L273.1 335.1L274.1 334.8L275.1 334.6L276.1 334.6L277.1 334.7L277.9 334.8L278.9 335.1L279.6 335.5L280.4 336.0L281.2 336.6L282.0 337.4L282.6 338.2 M155.4 350.0L156.2 349.7L157.2 349.6L158.2 349.5L159.1 349.6L159.9 349.9L160.9 350.2L161.7 350.7L162.4 351.2L163.2 351.9L163.8 352.6L164.4 353.6L164.8 354.4L165.2 355.4L165.5 356.4L165.7 357.4L165.7 358.6L165.5 360.6L165.3 361.6L164.9 362.7L164.4 363.6L163.9 364.4L163.2 365.3L162.4 366.0L161.7 366.5L160.9 367.0L160.2 367.3L159.2 367.5L158.2 367.7L157.2 367.6L156.2 367.5L155.4 367.2 M282.6 389.3L281.4 389.0L280.1 388.3L279.1 387.3L278.1 385.9L277.3 384.1L276.7 382.1L276.3 380.1L276.2 377.9L276.3 375.6L276.7 373.6L277.3 371.9L278.1 370.1L279.1 368.7L280.1 367.7L281.4 367.0L282.6 366.7 M242.7 394.2L241.2 394.3L239.9 394.3L238.7 394.2L237.4 393.9L236.2 393.5L234.9 392.9L233.9 392.3L232.9 391.5L232.0 390.6L231.2 389.6L230.5 388.6L229.9 387.4L229.4 386.1L229.0 384.9L228.8 383.6L228.7 382.1L228.8 380.6L229.0 379.4L229.3 378.1L229.7 376.9L230.2 375.6L230.9 374.4L231.8 373.1L232.7 372.1L233.6 371.1L234.7 370.3L235.9 369.5L237.2 368.8L238.4 368.3L239.7 368.0L240.9 367.8L242.4 367.7L243.7 367.7L244.7 367.9L245.9 368.2L246.9 368.5L247.9 369.0L249.0 369.6L249.9 370.3L250.8 371.1L251.5 371.9L252.2 372.9L252.8 373.9L253.4 375.1L253.7 376.1L254.0 377.4L254.2 378.6L254.3 379.9L254.2 381.1L254.1 382.4L253.8 383.6L253.4 384.9L252.9 386.1L252.4 387.1L251.0 389.1L250.1 390.1L249.2 391.0L248.2 391.8L247.2 392.5L246.2 393.0L244.9 393.5L243.9 393.9L242.7 394.2Z M213.2 404.9L212.4 405.1L211.7 405.1L210.9 404.9L210.2 404.6L209.4 404.1L208.7 403.4L208.0 402.6L207.4 401.7L206.4 399.6L205.5 396.9L204.9 393.9L204.7 390.9L204.7 387.6L205.0 384.6L205.6 381.6L206.5 379.1L207.1 377.9L207.7 376.9L208.2 376.1L208.9 375.4L209.7 374.7L210.4 374.3L211.2 374.0L211.9 373.9L212.7 374.0L213.4 374.2L214.2 374.6L214.7 375.0L215.4 375.6L215.9 376.3L216.9 377.9L217.9 380.1L218.6 382.6L219.1 385.4L219.3 388.1L219.3 391.1L219.1 393.9L218.6 396.6L217.8 399.1L216.8 401.4L215.7 403.0L215.1 403.6L214.4 404.2L213.9 404.6L213.2 404.9Z M282.6 413.5L281.6 414.7L280.4 415.8L279.1 416.5L277.6 417.2L276.1 417.5L274.6 417.5L273.1 417.4L271.6 416.9L270.2 416.1L268.9 415.2L267.8 414.1L266.9 412.9L266.1 411.4L265.6 409.9L265.2 408.1L265.1 406.4L265.2 404.6L265.5 403.1L266.1 401.6L266.9 400.1L267.9 398.8L269.1 397.6L270.4 396.7L271.6 396.1L273.1 395.6L274.6 395.5L276.1 395.5L277.6 395.8L279.1 396.5L280.4 397.2L281.6 398.3L282.6 399.5 M155.4 407.5L156.7 406.8L158.2 406.3L159.7 406.1L161.4 406.2L162.9 406.6L164.2 407.2L165.4 408.2L166.5 409.4L167.2 410.6L167.7 412.1L167.9 413.6L167.9 415.1L167.5 416.6L166.8 418.1L165.8 419.4L164.7 420.4 M250.2 313.7L249.4 313.8L248.4 313.8L246.9 313.5L245.4 312.8L244.7 312.3L243.9 311.6L243.3 310.9L242.8 310.1L242.4 309.3L242.1 308.4L241.8 306.6L241.8 304.9L242.2 303.4L242.9 301.6L243.1 299.6L243.5 297.6L243.9 296.4L244.7 294.9L244.9 293.4L245.2 292.1L245.6 291.1L246.2 290.2L246.9 289.2L247.7 288.5L248.4 287.9L249.4 287.3L250.4 286.8L251.4 286.6L252.4 286.4L253.7 286.5L255.2 286.8L256.6 287.5L257.4 288.0L258.1 288.6L259.2 289.9L260.1 291.4L260.7 293.1L260.9 294.9L260.9 296.9L260.7 297.9L260.4 298.9L259.8 300.1L259.1 301.4L258.7 302.9L258.1 304.2L257.1 306.1L255.9 307.6L255.5 309.1L254.8 310.4L253.9 311.6L252.9 312.5L251.7 313.2L250.2 313.7Z M282.6 303.2L281.6 303.0L280.6 302.5L279.8 301.9L279.0 300.9L278.4 299.9L277.9 298.6L277.7 297.4L277.6 295.9L277.7 294.4L278.0 293.1L278.5 291.9L279.1 290.9L279.9 290.0L280.6 289.5L281.6 289.0L282.6 288.8 M274.9 326.7L273.4 326.8L271.9 326.7L270.4 326.1L269.1 325.3L267.9 324.1L266.9 322.6L266.3 321.1L265.9 319.4L265.8 317.6L266.0 315.9L266.6 314.1L267.4 312.6L268.4 311.4L269.6 310.3L271.1 309.6L272.6 309.2L274.1 309.2L275.6 309.5L276.9 310.1L278.1 310.9L279.1 312.0L280.1 313.4L280.7 314.9L281.1 316.6L281.2 318.4L281.0 320.1L280.5 321.6L279.8 323.1L278.8 324.4L277.6 325.5L276.4 326.2L274.9 326.7Z M208.7 353.2L207.4 353.0L206.2 352.6L205.2 352.0L204.2 351.1L203.2 349.9L202.8 349.1L202.2 347.4L202.0 345.9L201.9 344.4L202.1 343.1L202.5 341.6L203.1 340.4L203.9 339.1L204.4 338.6L205.2 338.0L206.2 337.4L206.9 337.1L207.7 336.9L207.9 336.7L208.8 333.6L207.6 332.9L206.4 331.8L205.6 330.6L204.9 329.1L204.7 327.6L204.7 326.1L205.0 324.6L205.7 323.1L206.4 322.1L207.4 321.2L208.4 320.6L209.7 320.0L210.9 319.7L212.2 319.6L213.2 319.7L214.7 320.0L216.4 319.3L218.7 318.6L219.7 316.9L220.9 315.6L222.4 314.6L224.2 313.8L225.2 313.6L226.2 313.4L227.2 313.4L228.2 313.5L229.2 313.6L230.2 313.9L231.2 314.3L231.9 314.7L233.2 315.7L234.3 316.9L235.2 318.4L235.8 319.9L236.0 321.4L236.0 323.1L235.6 324.6L234.9 326.2L234.1 327.4L232.9 328.5L231.7 329.4L230.2 330.1L229.2 330.4L228.2 330.5L227.2 330.6L226.2 330.6L224.4 330.3L222.4 329.5L220.6 330.1L218.4 330.8L217.7 331.7L216.9 332.5L216.1 333.1L215.2 333.7L213.7 334.2L211.7 334.4L211.4 337.6L212.4 338.4L213.2 339.2L213.9 340.3L214.4 341.4L214.8 342.6L215.0 343.9L215.1 345.4L214.9 346.6L214.6 347.9L214.2 349.2L213.4 350.4L212.7 351.3L211.7 352.1L210.8 352.6L209.7 353.0L208.7 353.2Z M282.6 349.5L282.3 350.4L281.8 351.4L280.6 352.9L279.9 353.6L279.1 354.1L278.4 354.5L277.6 354.7L276.9 354.9L275.9 355.0L274.9 354.9L274.1 354.7L273.1 354.2L272.1 353.6L271.4 352.9L270.4 351.7L268.6 351.5L266.9 351.1L266.0 352.6L265.4 353.5L264.6 354.4L263.7 355.1L262.6 355.8L261.6 356.3L260.6 356.6L259.4 356.8L258.1 356.9L257.1 356.8L255.9 356.4L254.9 356.0L253.9 355.4L253.2 354.9L252.2 353.9L251.4 353.0L251.2 352.8L247.7 353.9L247.0 355.4L246.1 356.6L245.2 357.7L243.9 358.7L243.1 359.1L242.2 359.5L241.2 359.7L240.2 359.8L238.7 359.6L237.2 359.1L236.4 358.6L235.7 358.1L234.5 356.9L233.4 355.4L232.7 353.6L232.2 351.9L232.0 349.9L232.1 348.4L232.4 346.9L232.8 345.6L233.4 344.3L234.1 343.1L235.0 342.1L235.9 341.3L237.2 340.5L238.2 340.1L239.4 339.9L240.7 339.8L241.7 340.0L242.9 340.4L244.3 341.1L245.4 342.1L246.4 343.3L248.4 343.2L250.2 343.2L250.7 341.9L251.4 340.8L252.2 339.9L253.2 338.9L254.2 338.2L255.2 337.7L256.1 337.3L257.4 337.0L258.6 336.9L259.9 337.0L261.1 337.3L262.4 337.8L263.4 338.4L264.4 339.2L265.5 340.4L266.4 341.8L266.6 341.8L268.4 341.2L269.9 340.9L270.6 339.8L271.4 338.9L272.4 338.0L273.4 337.4L274.1 337.1L275.1 336.9L276.1 336.8L277.1 336.9L278.1 337.2L278.9 337.6L279.6 338.1L280.4 338.7L281.1 339.4L281.6 340.2L282.2 341.1L282.6 342.3 M166.4 390.9L165.2 391.0L163.9 390.8L162.7 390.5L161.7 390.0L160.7 389.4L159.8 388.6L158.9 387.6L158.3 386.6L157.8 385.6L157.5 384.4L157.4 383.4L157.4 382.1L157.6 380.9L157.9 379.8L158.5 378.6L159.2 377.7L159.9 376.9L160.8 376.1L161.7 375.6L162.7 375.1L163.7 374.8L164.7 374.7L165.9 374.6L166.9 374.8L169.2 373.8L171.4 373.1L171.7 371.9L172.2 370.9L172.6 370.1L173.2 369.5L174.1 367.9L174.7 366.9L176.4 365.0L178.8 362.9L179.6 361.1L180.6 359.4L181.6 357.9L182.8 356.4L184.7 354.4L186.9 352.6L188.4 351.7L189.9 351.0L191.4 350.5L192.7 350.3L193.9 350.3L195.2 350.4L196.4 350.8L197.4 351.4L198.2 352.1L198.7 352.7L199.2 353.6L199.6 354.6L199.9 355.6L200.0 356.6L200.1 357.9L200.0 359.1L199.5 361.6L199.1 362.9L198.6 364.4L197.9 365.8L197.2 367.1L195.5 369.6L194.2 371.2L192.7 372.6L190.9 374.0L188.9 375.3L187.9 376.5L186.8 377.6L185.7 378.6L184.4 379.5L182.7 380.3L181.7 380.6L180.7 380.8L179.2 380.8L176.7 380.5L175.2 382.5L173.6 384.1L173.2 385.4L172.8 386.4L172.2 387.4L171.4 388.4L170.4 389.3L169.2 390.1L167.9 390.6L166.4 390.9Z M155.4 351.9L156.2 351.6L156.9 351.4L157.7 351.3L158.4 351.4L159.2 351.5L159.9 351.8L160.7 352.1L161.4 352.6L162.4 353.6L163.0 354.4L163.4 355.2L163.7 355.9L164.0 356.9L164.2 358.6L164.0 360.4L163.4 362.0L162.6 363.4L161.9 364.1L161.3 364.6L160.7 365.1L159.9 365.4L159.2 365.7L158.4 365.8L157.7 365.9L156.9 365.8L156.2 365.6L155.4 365.3 M264.6 374.9L263.4 375.0L262.1 374.8L260.9 374.3L259.6 373.5L258.6 372.6L257.8 371.4L257.2 370.1L256.9 368.6L256.8 367.1L257.0 365.6L257.4 364.4L258.1 363.1L258.9 362.1L260.1 361.1L261.1 360.5L261.9 360.2L262.6 360.1L264.1 360.0L265.4 360.2L266.6 360.7L267.9 361.4L268.9 362.4L269.8 363.6L270.4 364.9L270.8 366.4L270.8 367.9L270.6 369.4L270.1 370.7L269.4 372.0L268.4 373.1L267.4 373.9L266.1 374.6L264.6 374.9Z M282.6 387.1L281.6 386.8L280.6 386.2L279.9 385.4L279.0 384.1L278.4 382.8L277.9 381.2L277.6 379.6L277.6 377.9L277.7 376.1L277.9 374.6L278.4 373.1L279.1 371.6L279.9 370.5L280.6 369.8L281.6 369.2L282.6 368.9 M241.2 391.7L240.2 391.6L239.2 391.5L238.2 391.3L237.2 391.0L236.2 390.5L235.4 390.0L234.6 389.4L233.9 388.6L233.2 387.8L232.6 386.9L232.1 385.9L231.7 384.9L231.3 382.9L231.3 381.9L231.3 380.6L231.5 379.4L231.8 378.4L232.6 376.4L233.2 375.4L233.9 374.5L235.4 372.9L236.2 372.4L237.2 371.7L238.2 371.2L239.2 370.8L240.2 370.6L241.2 370.4L242.2 370.3L243.2 370.4L244.9 370.7L246.7 371.4L248.2 372.4L248.9 373.1L249.6 373.9L250.6 375.4L251.3 377.1L251.7 379.1L251.7 381.1L251.3 383.1L250.6 385.1L249.6 386.9L248.3 388.4L247.5 389.1L246.7 389.8L244.9 390.8L243.2 391.4L242.2 391.6L241.2 391.7Z M212.4 401.9L211.7 402.0L211.2 401.8L210.2 401.3L209.1 400.4L208.1 398.9L207.3 397.1L206.7 394.9L206.3 392.6L206.1 390.1L206.2 387.6L206.4 385.4L206.9 383.1L207.7 381.1L208.7 379.2L209.7 378.1L210.7 377.4L211.2 377.2L211.9 377.0L212.7 377.1L213.2 377.3L214.2 377.9L215.2 379.0L216.0 380.4L216.8 382.1L217.4 384.4L217.7 386.6L217.9 388.9L217.8 391.4L217.6 393.6L217.1 395.9L216.4 397.8L215.7 399.3L214.7 400.6L213.7 401.5L213.2 401.7L212.4 401.9Z M282.6 408.9L282.1 410.3L281.5 411.6L280.5 412.9L279.4 413.9L278.1 414.6L276.7 415.1L275.4 415.3L273.9 415.3L272.4 414.9L271.1 414.2L269.9 413.3L268.9 412.2L268.1 410.9L267.5 409.4L267.2 407.9L267.1 406.4L267.2 404.9L267.6 403.4L268.2 401.9L269.0 400.6L270.0 399.6L271.1 398.8L272.4 398.1L273.9 397.7L275.4 397.7L276.6 397.8L278.1 398.4L279.4 399.1L280.5 400.1L281.4 401.3L282.1 402.6L282.6 404.1 M155.4 409.6L156.2 409.0L156.9 408.5L157.7 408.1L158.7 407.8L159.7 407.7L160.7 407.7L161.7 407.9L162.4 408.1L163.2 408.5L163.9 409.0L164.6 409.6L165.2 410.4L165.7 411.1L166.1 412.1L166.3 412.9L166.3 413.9L166.3 414.9L166.1 415.6L165.8 416.6L165.4 417.4L164.8 418.1L164.0 418.9L163.3 419.4L162.4 419.9L161.7 420.1L160.7 420.3L159.7 420.3L158.7 420.2L157.7 419.9L156.9 419.5L156.2 419.0L155.4 418.4 M250.2 310.9L249.4 311.1L248.7 311.1L247.9 311.0L247.2 310.7L246.4 310.3L245.9 309.9L245.2 309.1L244.8 308.4L244.4 307.4L244.2 306.1L244.3 305.1L244.5 304.1L244.3 301.9L244.3 300.9L244.4 299.6L244.8 298.1L245.3 296.6L245.9 295.6L246.8 294.1L247.1 293.1L247.5 292.1L248.3 290.9L249.4 289.8L250.7 289.1L251.4 288.9L252.2 288.7L252.9 288.7L253.7 288.8L254.9 289.1L255.9 289.6L256.9 290.4L257.7 291.4L258.4 292.6L258.8 293.9L258.9 295.1L258.8 296.6L258.5 297.9L258.0 299.1L257.8 300.9L257.4 302.3L256.9 303.6L256.2 304.9L255.5 305.9L254.9 306.6L254.2 307.4L253.1 308.1L252.7 308.9L252.2 309.7L251.2 310.5L250.2 310.9Z M282.6 301.4L281.9 301.2L281.1 300.9L280.6 300.4L280.0 299.6L279.5 298.9L279.2 297.9L279.0 296.9L278.9 295.9L279.0 294.9L279.2 294.1L279.5 293.1L279.9 292.4L280.5 291.6L281.1 291.1L281.9 290.8L282.6 290.6 M274.9 324.4L273.9 324.6L272.6 324.6L271.4 324.2L270.4 323.6L269.6 322.9L268.8 321.9L268.2 320.6L267.8 319.4L267.7 318.1L267.8 316.6L268.2 315.4L268.8 314.1L269.6 313.1L270.4 312.4L271.4 311.8L272.6 311.4L273.9 311.4L274.9 311.6L275.9 312.0L276.9 312.6L277.7 313.4L278.4 314.4L278.8 315.4L279.2 316.6L279.3 317.9L279.2 319.1L278.9 320.4L278.4 321.5L277.6 322.6L276.9 323.4L275.9 324.0L274.9 324.4Z M212.9 332.2L212.2 332.2L211.2 332.2L210.2 331.9L209.4 331.5L208.7 331.0L208.0 330.4L207.5 329.6L207.1 328.9L206.9 328.1L206.8 327.1L206.8 326.1L207.0 325.4L207.3 324.6L207.8 323.9L208.4 323.2L209.1 322.6L209.7 322.3L210.4 322.0L211.7 321.8L212.4 321.8L213.2 321.9L214.4 322.3L215.8 321.6L217.2 321.1L218.7 320.7L220.4 320.3L220.8 319.4L221.2 318.6L221.7 317.9L222.4 317.2L223.2 316.7L223.9 316.2L224.7 315.9L225.7 315.7L226.7 315.5L227.7 315.6L228.7 315.7L229.7 316.0L230.7 316.5L231.4 317.1L232.0 317.6L232.7 318.4L233.2 319.4L233.7 320.6L233.8 321.9L233.7 323.1L233.3 324.4L232.8 325.4L232.0 326.4L231.1 327.1L230.2 327.7L229.2 328.1L228.2 328.4L226.9 328.5L225.7 328.3L224.7 328.1L223.7 327.6L222.7 327.0L221.4 327.6L219.7 328.3L218.4 328.7L216.9 329.0L216.2 330.2L215.2 331.1L214.2 331.8L212.9 332.2Z M209.7 351.0L208.7 351.1L207.7 351.0L206.7 350.7L205.8 350.1L205.1 349.4L204.4 348.4L204.0 347.4L203.7 346.1L203.6 344.9L203.7 343.6L204.0 342.4L204.5 341.4L205.2 340.5L205.9 339.8L206.9 339.2L207.9 338.9L208.9 338.9L209.7 339.0L210.7 339.5L211.4 340.0L212.2 340.9L212.7 341.7L213.1 342.6L213.4 343.9L213.4 345.1L213.3 346.1L213.0 347.4L212.6 348.4L212.1 349.1L211.4 350.0L210.7 350.5L209.7 351.0Z M276.6 352.7L275.6 352.7L274.9 352.6L273.9 352.2L273.1 351.7L272.5 351.1L271.9 350.4L271.1 349.0L270.9 348.8L269.4 348.1L268.7 347.6L268.3 347.1L268.1 346.4L268.3 345.6L268.8 344.9L269.5 344.4L270.6 343.8L270.9 343.5L271.2 342.6L271.6 341.9L272.1 341.1L272.6 340.5L273.4 339.9L274.1 339.5L274.9 339.2L275.6 339.1L276.6 339.1L277.6 339.4L278.6 340.0L279.5 340.6L280.1 341.5L280.8 342.6L281.2 343.9L281.4 345.1L281.4 346.6L281.2 347.9L280.8 349.1L280.3 350.1L279.5 351.1L278.6 351.8L277.6 352.4L276.6 352.7Z M260.1 354.2L258.9 354.4L257.4 354.3L256.1 353.9L254.9 353.2L253.9 352.3L253.0 351.1L252.4 349.9L251.9 348.4L251.8 346.9L251.9 345.4L252.4 343.9L253.0 342.6L253.9 341.5L254.9 340.6L256.1 339.9L257.4 339.5L258.6 339.4L259.9 339.6L261.1 340.0L262.4 340.7L263.4 341.6L264.2 342.6L264.8 343.9L265.3 345.4L265.4 346.6L265.3 348.1L264.9 349.6L264.4 350.9L263.6 351.9L262.6 352.9L261.4 353.7L260.1 354.2Z M241.2 357.2L239.9 357.3L238.7 357.0L237.4 356.5L236.4 355.7L235.5 354.6L234.8 353.4L234.4 352.1L234.1 350.6L234.1 349.1L234.3 347.6L234.7 346.4L235.4 345.1L236.4 343.9L237.4 343.1L238.4 342.6L239.7 342.3L240.7 342.3L241.7 342.5L242.7 342.9L243.4 343.4L244.2 344.1L244.9 345.0L245.4 345.9L245.9 347.1L246.2 347.5L246.7 347.6L247.2 347.9L247.5 348.1L247.6 348.4L247.6 348.6L247.4 349.1L246.9 349.6L246.4 350.0L246.1 351.6L245.9 352.6L245.3 353.9L244.7 354.9L243.9 355.8L243.2 356.4L242.2 356.9L241.2 357.2Z M155.4 353.9L156.4 353.4L157.7 353.2L158.9 353.3L159.7 353.6L160.2 353.9L161.2 354.7L161.9 355.9L162.4 357.1L162.6 358.6L162.4 360.1L161.9 361.4L161.2 362.5L160.2 363.3L159.6 363.6L158.9 363.9L157.7 364.0L156.4 363.8L155.4 363.3 M165.9 388.9L164.9 388.9L164.2 388.8L163.2 388.5L162.4 388.1L161.7 387.6L161.0 386.9L160.4 386.1L160.0 385.4L159.7 384.6L159.4 383.6L159.4 382.6L159.4 381.9L159.7 380.9L160.0 380.1L160.4 379.4L160.9 378.8L161.7 378.0L162.4 377.5L163.2 377.1L164.2 376.8L165.7 376.7L166.4 376.7L167.4 377.0L169.4 376.2L171.4 375.8L172.9 375.8L173.9 376.1L174.0 375.9L174.1 375.4L173.8 373.9L173.8 373.1L173.9 372.1L174.3 370.6L175.1 369.1L176.2 367.6L177.5 366.1L179.2 364.8L181.2 363.4L181.9 361.6L182.8 360.1L183.9 358.6L185.2 357.2L186.4 356.1L187.9 355.0L189.4 354.2L190.7 353.8L192.2 353.5L193.4 353.6L194.4 353.9L195.4 354.5L195.9 355.0L196.4 355.6L196.7 356.4L197.0 357.1L197.1 357.9L197.2 358.9L197.1 360.6L196.7 362.6L195.9 364.7L194.8 366.6L193.3 368.6L192.2 369.9L191.2 370.8L190.2 371.5L188.9 372.3L187.4 374.6L185.8 376.4L184.4 377.5L182.9 378.4L181.9 378.8L180.9 379.0L179.9 379.2L178.9 379.1L177.9 378.9L177.2 378.7L176.4 378.3L175.7 377.7L174.9 377.6L174.7 377.6L174.3 378.9L173.6 380.4L172.8 381.6L171.7 383.0L171.5 384.1L171.3 384.9L170.9 385.6L170.4 386.5L169.5 387.4L168.4 388.2L167.2 388.7L165.9 388.9Z M265.1 372.9L264.1 373.1L263.1 373.1L262.1 372.8L261.1 372.4L260.3 371.6L259.6 370.9L259.0 369.9L258.7 368.9L258.5 367.9L258.6 366.6L258.8 365.6L259.3 364.6L259.9 363.7L260.6 363.0L261.6 362.4L262.6 362.0L263.6 361.9L264.6 362.0L265.6 362.2L266.6 362.8L267.4 363.4L268.0 364.1L268.6 365.1L268.9 366.1L269.1 367.1L269.0 368.4L268.8 369.4L268.3 370.4L267.6 371.3L266.9 372.0L266.1 372.5L265.1 372.9Z M282.6 384.8L281.9 384.6L281.1 384.1L280.5 383.4L280.0 382.6L279.6 381.6L279.2 380.4L279.0 379.1L278.9 377.9L279.0 376.6L279.2 375.4L279.5 374.4L280.0 373.4L280.5 372.6L281.1 371.9L281.9 371.4L282.6 371.2 M241.9 388.9L240.4 389.0L238.9 388.7L237.4 388.1L236.2 387.1L235.2 386.0L234.4 384.6L234.0 383.1L233.8 381.4L234.1 379.6L234.6 378.1L235.4 376.7L236.4 375.4L237.7 374.4L239.2 373.6L240.7 373.1L242.2 373.0L243.7 373.2L244.9 373.6L246.2 374.3L247.2 375.2L248.1 376.4L248.7 377.6L249.1 379.1L249.2 380.6L249.0 382.1L248.5 383.6L247.9 384.9L247.0 386.1L245.9 387.2L244.7 388.0L243.4 388.6L241.9 388.9Z M212.9 398.7L212.2 398.9L211.7 398.8L211.2 398.7L210.7 398.4L210.2 398.0L209.4 397.1L208.7 395.6L208.2 394.1L207.8 392.4L207.6 390.6L207.6 388.6L207.8 386.9L208.1 385.1L208.7 383.4L209.4 381.9L210.2 381.0L210.9 380.4L211.4 380.2L211.9 380.1L212.7 380.2L213.4 380.6L214.2 381.3L214.9 382.4L215.5 383.6L215.9 385.1L216.2 386.6L216.4 388.4L216.4 390.1L216.3 391.9L216.0 393.4L215.6 394.9L215.1 396.1L214.4 397.4L213.7 398.2L212.9 398.7Z M276.4 412.9L275.1 413.1L273.9 413.0L272.6 412.6L271.6 412.0L270.8 411.1L270.0 410.1L269.4 408.9L269.1 407.6L269.0 406.4L269.2 405.1L269.5 403.9L270.2 402.6L270.9 401.6L271.9 400.8L272.9 400.3L274.1 399.9L275.4 399.9L276.4 400.1L277.4 400.4L278.4 401.1L279.3 401.9L280.0 402.9L280.5 403.9L280.8 405.1L281.0 406.4L280.9 407.6L280.6 408.9L280.0 410.1L279.2 411.1L278.4 411.9L277.4 412.6L276.4 412.9Z M155.4 412.8L155.7 411.9L156.2 411.2L156.7 410.6L157.4 410.0L158.2 409.6L158.9 409.4L159.7 409.3L160.7 409.3L161.7 409.5L162.4 409.9L163.1 410.4L163.6 410.9L164.1 411.6L164.5 412.4L164.7 413.1L164.8 413.9L164.7 414.9L164.5 415.6L164.1 416.4L163.7 417.1L163.1 417.6L162.3 418.1L161.4 418.6L160.7 418.7L159.7 418.7L158.9 418.6L158.2 418.4L157.4 418.0L156.7 417.4L156.2 416.8L155.8 416.1L155.4 415.2 M249.7 308.3L248.9 308.4L248.4 308.3L247.9 308.1L247.3 307.6L246.9 306.9L246.7 306.1L246.1 304.6L245.8 303.1L245.8 301.1L246.1 299.1L246.6 297.6L247.3 296.1L247.9 295.1L249.0 293.9L249.4 293.0L249.9 292.3L250.7 291.6L251.7 291.1L252.7 291.0L253.7 291.1L254.7 291.5L255.6 292.1L256.3 293.1L256.7 294.1L256.8 294.9L256.9 295.9L256.5 297.4L256.6 299.1L256.3 300.6L256.0 301.9L255.4 303.2L254.7 304.4L253.9 305.4L252.9 306.4L252.2 307.0L251.4 307.4L250.2 307.9L249.7 308.3Z M282.6 299.6L282.1 299.4L281.6 299.2L281.0 298.4L280.6 297.8L280.4 297.1L280.3 295.9L280.5 294.6L280.9 293.6L281.6 292.8L282.1 292.6L282.6 292.4 M273.6 322.4L272.9 322.4L272.1 322.1L271.4 321.7L270.9 321.3L270.4 320.6L270.0 319.9L269.8 319.1L269.6 318.1L269.7 317.1L269.9 316.4L270.2 315.6L270.6 315.0L271.3 314.4L271.9 314.0L272.6 313.7L273.4 313.6L274.1 313.6L274.9 313.9L275.6 314.3L276.1 314.8L276.6 315.4L277.0 316.1L277.2 316.9L277.4 317.9L277.3 318.6L277.1 319.4L276.9 320.1L276.4 320.9L275.9 321.5L275.1 322.0L274.4 322.3L273.6 322.4Z M228.2 326.2L227.4 326.3L226.4 326.3L225.4 326.0L224.7 325.7L223.9 325.1L223.4 324.6L222.9 323.9L222.6 323.1L222.5 322.4L222.5 321.4L222.7 320.6L223.0 319.9L223.6 319.1L224.2 318.6L224.9 318.2L225.7 317.9L226.4 317.7L227.4 317.7L228.4 317.9L229.2 318.2L229.9 318.7L230.6 319.4L231.1 320.1L231.4 320.9L231.5 321.6L231.5 322.6L231.3 323.4L230.9 324.1L230.4 324.9L229.8 325.4L228.9 325.9L228.2 326.2Z M212.9 330.0L212.4 330.1L211.7 330.1L210.7 329.8L210.2 329.5L209.7 329.0L209.2 328.4L209.0 327.9L208.9 327.4L208.9 326.6L209.1 325.9L209.4 325.4L209.7 324.9L210.2 324.5L210.7 324.2L211.2 324.0L211.7 323.9L212.4 323.9L213.4 324.2L213.9 324.6L214.4 325.0L214.8 325.6L215.0 326.1L215.1 326.6L215.1 327.4L214.8 328.4L214.4 329.0L214.0 329.4L213.4 329.8L212.9 330.0Z M209.4 348.9L208.9 349.1L208.2 349.1L207.4 348.8L206.9 348.6L206.4 348.1L205.8 347.4L205.5 346.6L205.3 345.9L205.2 345.1L205.3 344.1L205.5 343.4L205.8 342.6L206.4 341.9L206.9 341.4L207.4 341.1L208.2 340.9L208.9 340.9L209.4 341.1L209.9 341.3L210.4 341.7L210.9 342.1L211.2 342.6L211.5 343.4L211.7 344.1L211.8 344.9L211.7 345.6L211.6 346.4L211.3 347.1L210.9 347.8L210.4 348.3L209.9 348.7L209.4 348.9Z M276.4 350.4L275.6 350.4L274.9 350.2L274.1 349.8L273.6 349.4L273.1 348.6L272.7 347.9L272.5 347.1L272.4 346.1L272.4 345.1L272.6 344.4L272.8 343.6L273.3 342.9L273.9 342.2L274.4 341.8L275.1 341.5L275.9 341.4L276.6 341.4L277.1 341.6L277.9 342.0L278.4 342.5L278.9 343.1L279.3 343.9L279.5 344.6L279.6 345.6L279.6 346.6L279.4 347.4L279.2 348.1L278.7 348.9L278.1 349.6L277.6 349.9L277.1 350.2L276.4 350.4Z M259.9 351.7L259.1 351.9L258.1 351.9L257.1 351.6L256.4 351.3L255.7 350.7L255.0 349.9L254.6 349.1L254.2 348.1L254.1 347.1L254.1 346.1L254.4 345.1L254.7 344.4L255.2 343.6L255.9 342.9L256.6 342.4L257.6 342.0L258.4 341.9L259.4 342.0L260.1 342.2L261.0 342.6L261.6 343.2L262.2 343.9L262.6 344.7L263.0 345.6L263.1 346.6L263.1 347.6L262.8 348.6L262.5 349.4L262.0 350.1L261.4 350.8L260.6 351.4L259.9 351.7Z M241.2 354.7L240.4 354.8L239.4 354.7L238.7 354.4L237.9 353.9L237.2 353.1L236.7 352.4L236.4 351.6L236.2 350.6L236.1 349.6L236.2 348.6L236.5 347.6L236.9 346.9L237.4 346.1L238.2 345.5L238.9 345.1L239.7 344.9L240.4 344.8L241.2 344.9L241.9 345.3L242.7 345.8L243.2 346.4L243.7 347.1L244.0 347.9L244.2 348.9L244.3 349.6L244.2 350.6L244.0 351.6L243.7 352.5L243.2 353.1L242.7 353.8L241.9 354.3L241.2 354.7Z M155.4 356.2L156.2 355.5L156.9 355.1L157.9 355.0L158.9 355.2L159.7 355.7L160.4 356.5L160.9 357.6L161.0 358.6L160.8 359.6L160.4 360.7L159.7 361.5L158.9 362.0L157.9 362.2L156.9 362.1L156.1 361.6L155.4 361.0 M179.9 377.4L178.7 377.4L177.4 376.9L176.4 376.2L176.0 375.6L175.7 375.1L175.5 374.6L175.3 373.9L175.4 372.6L175.7 371.4L176.4 370.1L177.7 368.6L179.2 367.2L181.2 365.7L183.4 364.4L184.0 362.6L184.9 361.1L186.0 359.6L187.4 358.3L188.9 357.4L189.7 357.1L190.4 356.9L191.7 356.9L192.4 357.0L192.9 357.3L193.6 357.9L194.1 358.6L194.4 359.6L194.4 360.6L194.3 361.9L194.0 363.1L193.5 364.4L192.8 365.6L191.8 366.9L190.7 368.1L189.4 369.0L188.2 369.6L187.3 371.4L186.4 372.8L185.4 374.1L184.4 375.2L183.2 376.1L182.2 376.8L181.2 377.2L179.9 377.4Z M264.4 371.2L263.6 371.2L263.1 371.2L262.4 370.9L261.9 370.6L261.3 370.1L260.9 369.6L260.5 368.9L260.3 368.1L260.3 367.4L260.4 366.6L260.6 365.9L260.9 365.4L261.4 364.8L261.9 364.4L262.6 364.0L263.4 363.8L264.1 363.8L264.6 363.9L265.4 364.1L265.9 364.5L266.4 365.0L266.9 365.6L267.1 366.1L267.3 366.9L267.3 367.6L267.2 368.4L267.0 369.1L266.7 369.6L266.1 370.3L265.6 370.7L265.1 371.0L264.4 371.2Z M282.6 382.5L282.1 382.3L281.6 381.9L281.2 381.4L280.9 380.9L280.6 380.1L280.4 379.4L280.3 377.9L280.5 376.4L280.7 375.6L281.0 374.9L281.6 374.1L282.1 373.7L282.6 373.5 M242.4 386.2L241.4 386.3L240.4 386.3L239.4 386.0L238.4 385.5L237.7 384.8L237.0 383.9L236.6 382.9L236.4 381.9L236.4 380.6L236.7 379.6L237.1 378.6L237.7 377.8L238.4 377.0L239.4 376.3L240.4 375.9L241.4 375.7L242.4 375.7L243.4 375.9L244.2 376.2L244.9 376.8L245.5 377.4L246.0 378.1L246.4 379.1L246.6 380.1L246.6 381.1L246.4 382.1L246.0 383.1L245.6 383.9L244.9 384.7L244.2 385.3L243.4 385.8L242.4 386.2Z M166.7 386.7L165.9 386.9L165.2 386.9L164.4 386.7L163.6 386.4L162.9 385.9L162.4 385.4L161.9 384.6L161.6 383.9L161.4 383.1L161.4 382.4L161.6 381.6L161.9 380.9L162.4 380.1L162.9 379.6L163.7 379.2L164.4 378.9L165.2 378.7L165.9 378.7L166.7 378.9L167.4 379.2L168.1 379.6L168.7 380.2L169.1 380.9L169.4 381.6L169.6 382.4L169.6 383.1L169.4 383.9L169.1 384.6L168.7 385.4L168.2 385.9L167.4 386.4L166.7 386.7Z M212.4 395.7L211.7 395.7L211.2 395.5L210.7 395.0L210.2 394.4L209.7 393.4L209.4 392.4L209.2 391.4L209.1 390.1L209.1 388.9L209.2 387.6L209.4 386.4L209.8 385.4L210.2 384.6L210.7 384.0L211.2 383.5L211.9 383.3L212.4 383.3L212.9 383.6L213.4 384.0L213.9 384.7L214.3 385.6L214.6 386.6L214.8 387.6L214.9 388.9L214.9 390.1L214.8 391.4L214.6 392.4L214.3 393.4L213.9 394.3L213.4 395.0L212.9 395.4L212.4 395.7Z M275.4 410.9L274.6 410.9L273.9 410.7L273.1 410.4L272.5 409.9L271.9 409.3L271.5 408.6L271.2 407.9L271.0 406.9L271.1 405.9L271.2 405.1L271.5 404.4L272.0 403.6L272.4 403.1L273.1 402.6L273.9 402.3L274.6 402.1L275.4 402.1L276.1 402.3L276.9 402.6L277.6 403.1L278.0 403.6L278.5 404.4L278.8 405.1L279.0 406.1L278.9 407.1L278.8 407.9L278.5 408.6L278.0 409.4L277.5 409.9L276.9 410.4L276.1 410.7L275.4 410.9Z M160.2 417.2L159.4 417.1L158.9 417.0L158.4 416.7L157.9 416.4L157.5 415.9L157.2 415.4L157.0 414.9L156.8 414.1L156.9 413.4L157.0 412.9L157.3 412.4L157.7 411.9L158.2 411.4L158.7 411.1L159.2 410.9L159.9 410.8L160.7 410.9L161.2 411.0L161.7 411.3L162.2 411.7L162.6 412.1L162.9 412.6L163.1 413.1L163.2 413.9L163.1 414.6L163.0 415.1L162.7 415.6L162.3 416.1L161.9 416.5L161.4 416.8L160.9 417.0L160.2 417.2Z M249.9 306.4L249.2 306.6L248.7 306.5L248.1 305.9L247.8 305.1L247.6 303.9L247.5 302.4L247.6 300.9L247.9 299.3L248.2 298.1L248.7 297.1L249.2 296.1L249.8 295.4L250.2 294.9L251.9 293.5L252.4 293.3L253.2 293.3L253.7 293.4L254.2 293.8L254.6 294.4L254.8 294.9L254.8 295.9L255.0 296.9L255.1 297.6L255.0 298.6L254.8 299.6L254.5 300.6L254.1 301.6L253.6 302.6L252.9 303.7L252.2 304.6L251.4 305.4L250.7 306.0L249.9 306.4Z M282.6 297.8L282.1 297.4L281.9 297.1L281.7 296.4L281.6 295.9L281.7 295.4L281.9 294.9L282.1 294.6L282.6 294.2 M273.9 320.2L273.1 320.2L272.4 319.8L271.9 319.1L271.6 318.4L271.6 317.6L271.9 316.8L272.4 316.2L273.1 315.8L273.9 315.8L274.6 316.2L275.2 316.9L275.4 317.6L275.4 318.4L275.1 319.1L274.6 319.8L273.9 320.2Z M226.9 324.2L226.4 324.1L225.9 323.9L225.3 323.4L224.8 322.6L224.7 321.9L224.9 321.1L225.2 320.8L225.5 320.4L226.2 320.0L226.7 319.9L227.2 319.9L227.7 319.9L228.2 320.1L228.8 320.6L229.2 321.4L229.3 322.1L229.1 322.9L228.7 323.4L228.5 323.6L227.7 324.1L226.9 324.2Z M212.2 327.9L211.7 327.9L211.4 327.7L211.2 327.4L211.1 327.1L211.1 326.6L211.3 326.4L211.6 326.1L211.9 326.1L212.4 326.1L212.7 326.3L212.9 326.6L212.9 326.9L212.9 327.4L212.7 327.6L212.2 327.9Z M208.9 347.0L208.2 347.0L207.7 346.7L207.1 346.1L206.9 345.4L206.9 344.6L207.2 343.8L207.7 343.3L207.9 343.1L208.4 343.0L208.9 343.0L209.5 343.4L209.9 343.9L210.1 344.6L210.1 345.4L209.9 346.1L209.4 346.7L208.9 347.0Z M276.1 348.2L275.4 348.0L274.8 347.6L274.4 347.0L274.2 346.1L274.3 345.1L274.6 344.4L275.1 343.9L275.9 343.6L276.6 343.8L277.1 344.1L277.6 344.9L277.8 345.6L277.7 346.6L277.4 347.3L276.9 347.9L276.1 348.2Z M259.4 349.2L258.9 349.4L258.4 349.4L257.6 349.2L257.2 348.9L256.9 348.5L256.6 348.1L256.4 347.6L256.3 346.6L256.4 346.1L256.6 345.6L257.1 345.0L257.9 344.5L258.4 344.4L258.9 344.4L259.6 344.7L260.1 345.1L260.4 345.4L260.8 346.1L260.9 347.1L260.6 348.0L260.1 348.7L259.4 349.2Z M240.7 352.2L239.9 352.3L239.4 352.1L239.1 351.9L238.5 351.1L238.2 350.1L238.2 349.1L238.5 348.4L239.2 347.7L239.9 347.3L240.7 347.4L241.4 347.8L241.9 348.4L242.2 349.4L242.2 350.4L241.9 351.1L241.4 351.8L240.7 352.2Z M157.9 360.4L157.2 360.3L156.7 359.9L156.4 359.4L156.2 358.6L156.3 357.9L156.6 357.4L157.2 356.9L157.7 356.8L158.2 356.8L158.7 357.1L159.2 357.6L159.4 358.4L159.3 359.1L159.1 359.6L158.6 360.1L157.9 360.4Z M187.9 366.7L187.4 366.7L186.9 366.5L186.4 366.2L186.2 365.7L186.0 365.1L186.0 364.6L186.1 363.9L186.4 363.1L186.7 362.4L187.2 361.8L187.8 361.1L188.4 360.7L189.2 360.3L189.7 360.1L190.2 360.1L190.7 360.2L191.2 360.6L191.6 361.4L191.6 362.4L191.2 363.6L190.7 364.7L189.8 365.6L188.9 366.3L187.9 366.7Z M264.4 369.3L263.6 369.4L263.1 369.2L262.6 368.9L262.4 368.6L262.1 368.1L262.0 367.4L262.2 366.6L262.6 366.1L262.9 365.9L263.4 365.7L264.1 365.7L264.6 365.9L265.1 366.3L265.5 366.9L265.6 367.6L265.3 368.4L264.9 369.0L264.4 369.3Z M179.9 375.4L179.2 375.5L178.4 375.5L177.7 375.1L177.2 374.6L176.9 374.1L176.9 373.4L177.1 372.6L177.4 372.1L177.9 371.4L178.7 370.6L179.7 369.8L180.9 369.0L182.2 368.4L183.4 367.9L184.4 367.6L184.9 367.7L185.2 368.1L185.2 368.4L185.0 369.4L184.4 370.9L183.7 372.3L182.8 373.4L181.8 374.4L180.9 375.0L179.9 375.4Z M282.6 380.2L282.1 379.8L281.9 379.3L281.7 378.6L281.6 377.9L281.7 377.1L281.9 376.6L282.2 376.1L282.6 375.8 M241.4 383.7L240.9 383.6L240.4 383.5L239.9 383.2L239.6 382.9L239.2 382.4L239.0 381.9L239.0 380.9L239.3 379.9L239.9 379.1L240.4 378.7L240.9 378.5L241.4 378.4L241.9 378.3L242.7 378.5L243.2 378.8L243.5 379.1L243.8 379.6L244.0 380.1L244.0 381.1L243.7 382.1L243.2 382.9L242.4 383.4L241.9 383.6L241.4 383.7Z M166.2 384.7L165.4 384.8L164.6 384.6L164.0 384.1L163.5 383.4L163.5 382.6L163.7 381.9L164.2 381.3L164.9 380.8L165.7 380.8L166.4 381.0L167.0 381.4L167.4 382.1L167.5 382.9L167.4 383.6L166.9 384.3L166.2 384.7Z M212.4 392.5L211.9 392.6L211.7 392.5L211.2 392.1L210.8 391.4L210.6 390.1L210.6 388.9L210.8 387.6L211.2 387.0L211.4 386.7L211.9 386.4L212.4 386.5L212.9 387.0L213.3 387.9L213.4 388.9L213.4 390.1L213.2 391.1L212.9 392.0L212.4 392.5Z M275.4 408.7L274.6 408.7L273.9 408.3L273.3 407.6L273.0 406.9L273.0 406.4L273.1 405.9L273.4 405.2L273.9 404.7L274.6 404.3L275.4 404.3L276.1 404.7L276.7 405.4L277.0 406.1L277.0 406.9L276.6 407.7L276.1 408.3L275.4 408.7Z M160.7 415.4L160.2 415.6L159.4 415.5L158.9 415.1L158.6 414.6L158.4 414.1L158.5 413.4L158.9 412.9L159.4 412.5L160.2 412.4L160.7 412.6L161.1 412.9L161.5 413.4L161.6 414.1L161.4 414.6L161.2 415.1L160.7 415.4Z" fill="none" stroke="#3030d0" stroke-width="1"/>
<rect x="155.4" y="284.4" width="127.4" height="136.1" fill="none" stroke="#a8dcc0" stroke-width="1"/>
<rect x="333.6" y="428.3" width="59" height="43.2" fill="none" stroke="#a8dcc0" stroke-width="1"/>
<line x1="282.8" y1="284.4" x2="392.6" y2="428.3" stroke="#9cc8c0" stroke-width="0.8"/>
<line x1="155.4" y1="420.5" x2="333.6" y2="471.5" stroke="#9cc8c0" stroke-width="0.8"/>
<text x="168" y="294.8" font-size="12.6" text-anchor="start" fill="#2bb07a">G12C</text>
<line x1="174.2" y1="298.8" x2="202" y2="333.3" stroke="#7890d8" stroke-width="0.7"/>
<rect x="84.5" y="264.2" width="492.1" height="297.1" fill="none" stroke="#080808" stroke-width="1.35"/>
<line x1="81" y1="266.3" x2="84.5" y2="266.3" stroke="#1a1a1a" stroke-width="1"/>
<line x1="576.6" y1="266.3" x2="579.1" y2="266.3" stroke="#888" stroke-width="1"/>
<text x="68" y="266.6" font-size="12.5" text-anchor="end" fill="#1a1a1a">100</text>
<line x1="82.7" y1="283.3" x2="84.5" y2="283.3" stroke="#1a1a1a" stroke-width="1"/>
<line x1="576.6" y1="283.3" x2="578.1" y2="283.3" stroke="#888" stroke-width="1"/>
<line x1="82.7" y1="300.3" x2="84.5" y2="300.3" stroke="#1a1a1a" stroke-width="1"/>
<line x1="576.6" y1="300.3" x2="578.1" y2="300.3" stroke="#888" stroke-width="1"/>
<line x1="82.7" y1="317.3" x2="84.5" y2="317.3" stroke="#1a1a1a" stroke-width="1"/>
<line x1="576.6" y1="317.3" x2="578.1" y2="317.3" stroke="#888" stroke-width="1"/>
<line x1="82.7" y1="334.3" x2="84.5" y2="334.3" stroke="#1a1a1a" stroke-width="1"/>
<line x1="576.6" y1="334.3" x2="578.1" y2="334.3" stroke="#888" stroke-width="1"/>
<line x1="81" y1="351.3" x2="84.5" y2="351.3" stroke="#1a1a1a" stroke-width="1"/>
<line x1="576.6" y1="351.3" x2="579.1" y2="351.3" stroke="#888" stroke-width="1"/>
<text x="68" y="351.6" font-size="12.5" text-anchor="end" fill="#1a1a1a">110</text>
<line x1="82.7" y1="368.3" x2="84.5" y2="368.3" stroke="#1a1a1a" stroke-width="1"/>
<line x1="576.6" y1="368.3" x2="578.1" y2="368.3" stroke="#888" stroke-width="1"/>
<line x1="82.7" y1="385.3" x2="84.5" y2="385.3" stroke="#1a1a1a" stroke-width="1"/>
<line x1="576.6" y1="385.3" x2="578.1" y2="385.3" stroke="#888" stroke-width="1"/>
<line x1="82.7" y1="402.3" x2="84.5" y2="402.3" stroke="#1a1a1a" stroke-width="1"/>
<line x1="576.6" y1="402.3" x2="578.1" y2="402.3" stroke="#888" stroke-width="1"/>
<line x1="82.7" y1="419.3" x2="84.5" y2="419.3" stroke="#1a1a1a" stroke-width="1"/>
<line x1="576.6" y1="419.3" x2="578.1" y2="419.3" stroke="#888" stroke-width="1"/>
<line x1="81" y1="436.3" x2="84.5" y2="436.3" stroke="#1a1a1a" stroke-width="1"/>
<line x1="576.6" y1="436.3" x2="579.1" y2="436.3" stroke="#888" stroke-width="1"/>
<text x="68" y="436.6" font-size="12.5" text-anchor="end" fill="#1a1a1a">120</text>
<line x1="82.7" y1="453.3" x2="84.5" y2="453.3" stroke="#1a1a1a" stroke-width="1"/>
<line x1="576.6" y1="453.3" x2="578.1" y2="453.3" stroke="#888" stroke-width="1"/>
<line x1="82.7" y1="470.3" x2="84.5" y2="470.3" stroke="#1a1a1a" stroke-width="1"/>
<line x1="576.6" y1="470.3" x2="578.1" y2="470.3" stroke="#888" stroke-width="1"/>
<line x1="82.7" y1="487.3" x2="84.5" y2="487.3" stroke="#1a1a1a" stroke-width="1"/>
<line x1="576.6" y1="487.3" x2="578.1" y2="487.3" stroke="#888" stroke-width="1"/>
<line x1="82.7" y1="504.3" x2="84.5" y2="504.3" stroke="#1a1a1a" stroke-width="1"/>
<line x1="576.6" y1="504.3" x2="578.1" y2="504.3" stroke="#888" stroke-width="1"/>
<line x1="81" y1="521.3" x2="84.5" y2="521.3" stroke="#1a1a1a" stroke-width="1"/>
<line x1="576.6" y1="521.3" x2="579.1" y2="521.3" stroke="#888" stroke-width="1"/>
<text x="68" y="521.6" font-size="12.5" text-anchor="end" fill="#1a1a1a">130</text>
<line x1="82.7" y1="538.3" x2="84.5" y2="538.3" stroke="#1a1a1a" stroke-width="1"/>
<line x1="576.6" y1="538.3" x2="578.1" y2="538.3" stroke="#888" stroke-width="1"/>
<line x1="82.7" y1="555.3" x2="84.5" y2="555.3" stroke="#1a1a1a" stroke-width="1"/>
<line x1="576.6" y1="555.3" x2="578.1" y2="555.3" stroke="#888" stroke-width="1"/>
<line x1="533.7" y1="561.3" x2="533.7" y2="562.9" stroke="#1a1a1a" stroke-width="1"/>
<line x1="533.7" y1="264.2" x2="533.7" y2="266" stroke="#1a1a1a" stroke-width="1"/>
<line x1="491.2" y1="561.3" x2="491.2" y2="562.9" stroke="#1a1a1a" stroke-width="1"/>
<line x1="491.2" y1="264.2" x2="491.2" y2="266" stroke="#1a1a1a" stroke-width="1"/>
<line x1="448.7" y1="561.3" x2="448.7" y2="562.9" stroke="#1a1a1a" stroke-width="1"/>
<line x1="448.7" y1="264.2" x2="448.7" y2="266" stroke="#1a1a1a" stroke-width="1"/>
<line x1="406.2" y1="561.3" x2="406.2" y2="564.5" stroke="#1a1a1a" stroke-width="1"/>
<line x1="406.2" y1="264.2" x2="406.2" y2="267.2" stroke="#1a1a1a" stroke-width="1"/>
<line x1="363.7" y1="561.3" x2="363.7" y2="562.9" stroke="#1a1a1a" stroke-width="1"/>
<line x1="363.7" y1="264.2" x2="363.7" y2="266" stroke="#1a1a1a" stroke-width="1"/>
<line x1="321.2" y1="561.3" x2="321.2" y2="562.9" stroke="#1a1a1a" stroke-width="1"/>
<line x1="321.2" y1="264.2" x2="321.2" y2="266" stroke="#1a1a1a" stroke-width="1"/>
<line x1="278.7" y1="561.3" x2="278.7" y2="562.9" stroke="#1a1a1a" stroke-width="1"/>
<line x1="278.7" y1="264.2" x2="278.7" y2="266" stroke="#1a1a1a" stroke-width="1"/>
<line x1="236.2" y1="561.3" x2="236.2" y2="564.5" stroke="#1a1a1a" stroke-width="1"/>
<line x1="236.2" y1="264.2" x2="236.2" y2="267.2" stroke="#1a1a1a" stroke-width="1"/>
<line x1="193.7" y1="561.3" x2="193.7" y2="562.9" stroke="#1a1a1a" stroke-width="1"/>
<line x1="193.7" y1="264.2" x2="193.7" y2="266" stroke="#1a1a1a" stroke-width="1"/>
<line x1="151.2" y1="561.3" x2="151.2" y2="562.9" stroke="#1a1a1a" stroke-width="1"/>
<line x1="151.2" y1="264.2" x2="151.2" y2="266" stroke="#1a1a1a" stroke-width="1"/>
<line x1="108.7" y1="561.3" x2="108.7" y2="562.9" stroke="#1a1a1a" stroke-width="1"/>
<line x1="108.7" y1="264.2" x2="108.7" y2="266" stroke="#1a1a1a" stroke-width="1"/>
<text x="226.6" y="573.5" font-size="12.5" text-anchor="middle" fill="#1a1a1a">10</text>
<text x="396.7" y="573.5" font-size="12.5" text-anchor="middle" fill="#1a1a1a">8</text>
<text x="317.5" y="589.5" font-size="12" text-anchor="middle" fill="#1a1a1a">ω<tspan font-size="8" dy="3">2</tspan><tspan dy="-3"> – </tspan><tspan font-size="8" dy="-4">1</tspan><tspan dy="4">H (ppm)</tspan></text>
<text x="48.6" y="412.4" font-size="12" text-anchor="middle" fill="#1a1a1a" transform="rotate(-90 48.6 412.4)">ω<tspan font-size="8" dy="3">1</tspan><tspan dy="-3"> – </tspan><tspan font-size="8" dy="-4">15</tspan><tspan dy="4">N (ppm)</tspan></text>
<text x="86.6" y="280.3" font-size="12" text-anchor="start" fill="#2828e0">pH 6.5</text>
<text x="86.6" y="295.2" font-size="12" text-anchor="start" fill="#d02020">pH 8.5</text>
<text x="3.5" y="630" font-size="27" text-anchor="start" fill="#000" font-weight="bold">D</text>
<line x1="51.5" y1="637.4" x2="51.5" y2="794.4" stroke="#1a1a1a" stroke-width="1"/>
<line x1="51.5" y1="794.4" x2="286.7" y2="794.4" stroke="#1a1a1a" stroke-width="1"/>
<line x1="49" y1="658.2" x2="51.5" y2="658.2" stroke="#1a1a1a" stroke-width="1"/>
<line x1="47.5" y1="694.3" x2="51.5" y2="694.3" stroke="#1a1a1a" stroke-width="1"/>
<line x1="49" y1="730.2" x2="51.5" y2="730.2" stroke="#1a1a1a" stroke-width="1"/>
<line x1="47.5" y1="766.2" x2="51.5" y2="766.2" stroke="#1a1a1a" stroke-width="1"/>
<text x="36.8" y="695.6" font-size="12.5" text-anchor="end" fill="#1a1a1a">8.6</text>
<text x="36.8" y="767.6" font-size="12.5" text-anchor="end" fill="#1a1a1a">8.5</text>
<line x1="51.5" y1="794.4" x2="51.5" y2="798.4" stroke="#1a1a1a" stroke-width="1"/>
<text x="42" y="808" font-size="12.5" text-anchor="middle" fill="#1a1a1a">5</text>
<line x1="110.3" y1="794.4" x2="110.3" y2="798.4" stroke="#1a1a1a" stroke-width="1"/>
<text x="100.8" y="808" font-size="12.5" text-anchor="middle" fill="#1a1a1a">6</text>
<line x1="169.1" y1="794.4" x2="169.1" y2="798.4" stroke="#1a1a1a" stroke-width="1"/>
<text x="159.6" y="808" font-size="12.5" text-anchor="middle" fill="#1a1a1a">7</text>
<line x1="227.9" y1="794.4" x2="227.9" y2="798.4" stroke="#1a1a1a" stroke-width="1"/>
<text x="218.4" y="808" font-size="12.5" text-anchor="middle" fill="#1a1a1a">8</text>
<line x1="286.7" y1="794.4" x2="286.7" y2="798.4" stroke="#1a1a1a" stroke-width="1"/>
<text x="277.2" y="808" font-size="12.5" text-anchor="middle" fill="#1a1a1a">9</text>
<text x="159" y="828.5" font-size="12.5" text-anchor="middle" fill="#1a1a1a">pH</text>
<text x="11.8" y="717.5" font-size="12.3" text-anchor="middle" fill="#1a1a1a" transform="rotate(-90 11.8 717.5)">Chemical Shift (<tspan font-size="8" dy="-4">1</tspan><tspan dy="4">H)</tspan></text>
<path d="M110.4 682.27L112.76 682.43L115.12 682.6L117.48 682.79L119.84 683L122.2 683.23L124.56 683.48L126.92 683.76L129.28 684.06L131.64 684.4L134 684.76L136.36 685.16L138.72 685.59L141.08 686.07L143.44 686.58L145.8 687.15L148.16 687.76L150.52 688.42L152.88 689.14L155.24 689.93L157.6 690.77L159.96 691.68L162.32 692.66L164.68 693.71L167.04 694.84L169.4 696.05L171.76 697.34L174.12 698.7L176.48 700.15L178.84 701.68L181.2 703.3L183.56 704.99L185.92 706.75L188.28 708.59L190.64 710.49L193 712.46L195.36 714.48L197.72 716.54L200.08 718.65L202.44 720.78L204.8 722.92L207.16 725.08L209.52 727.23L211.88 729.37L214.24 731.49L216.6 733.57L218.96 735.61L221.32 737.6L223.68 739.53L226.04 741.4L228.4 743.2L230.76 744.92L233.12 746.57L235.48 748.14L237.84 749.62L240.2 751.03L242.56 752.35L244.92 753.59L247.28 754.75L249.64 755.84L252 756.85" stroke="#1a1a1a" stroke-width="1" fill="none"/>
<line x1="110.4" y1="654.2" x2="110.4" y2="699.3" stroke="#1a1a1a" stroke-width="1"/>
<line x1="107.3" y1="654.2" x2="113.5" y2="654.2" stroke="#1a1a1a" stroke-width="1"/>
<line x1="107.3" y1="699.3" x2="113.5" y2="699.3" stroke="#1a1a1a" stroke-width="1"/>
<circle cx="110.4" cy="676.6" r="3.2" fill="#000"/>
<line x1="139.9" y1="684.4" x2="139.9" y2="705.3" stroke="#1a1a1a" stroke-width="1"/>
<line x1="136.8" y1="684.4" x2="143" y2="684.4" stroke="#1a1a1a" stroke-width="1"/>
<line x1="136.8" y1="705.3" x2="143" y2="705.3" stroke="#1a1a1a" stroke-width="1"/>
<circle cx="139.9" cy="694.4" r="3.2" fill="#000"/>
<line x1="169.3" y1="680.4" x2="169.3" y2="710.3" stroke="#1a1a1a" stroke-width="1"/>
<line x1="166.2" y1="680.4" x2="172.4" y2="680.4" stroke="#1a1a1a" stroke-width="1"/>
<line x1="166.2" y1="710.3" x2="172.4" y2="710.3" stroke="#1a1a1a" stroke-width="1"/>
<circle cx="169.3" cy="695.3" r="3.2" fill="#000"/>
<line x1="198.5" y1="713.5" x2="198.5" y2="721.5" stroke="#1a1a1a" stroke-width="1"/>
<line x1="195.4" y1="713.5" x2="201.6" y2="713.5" stroke="#1a1a1a" stroke-width="1"/>
<line x1="195.4" y1="721.5" x2="201.6" y2="721.5" stroke="#1a1a1a" stroke-width="1"/>
<circle cx="198.5" cy="717.3" r="3.2" fill="#000"/>
<line x1="222.1" y1="734.2" x2="222.1" y2="741" stroke="#1a1a1a" stroke-width="1"/>
<line x1="219" y1="734.2" x2="225.2" y2="734.2" stroke="#1a1a1a" stroke-width="1"/>
<line x1="219" y1="741" x2="225.2" y2="741" stroke="#1a1a1a" stroke-width="1"/>
<circle cx="222.1" cy="737.2" r="3.2" fill="#000"/>
<line x1="239.6" y1="752.2" x2="239.6" y2="777.9" stroke="#1a1a1a" stroke-width="1"/>
<line x1="236.5" y1="752.2" x2="242.7" y2="752.2" stroke="#1a1a1a" stroke-width="1"/>
<line x1="236.5" y1="777.9" x2="242.7" y2="777.9" stroke="#1a1a1a" stroke-width="1"/>
<circle cx="239.6" cy="765.2" r="3.2" fill="#000"/>
<line x1="252" y1="722.8" x2="252" y2="776.4" stroke="#1a1a1a" stroke-width="1"/>
<line x1="248.9" y1="722.8" x2="255.1" y2="722.8" stroke="#1a1a1a" stroke-width="1"/>
<line x1="248.9" y1="776.4" x2="255.1" y2="776.4" stroke="#1a1a1a" stroke-width="1"/>
<circle cx="252" cy="749.7" r="3.2" fill="#000"/>
<text x="61" y="774.6" font-size="12.3" text-anchor="start" fill="#1a1a1a">pK<tspan font-size="8" dy="2.5">a</tspan><tspan dy="-2.5"> = 7.6 ± 0.4</tspan></text>
<text x="292" y="630" font-size="27" text-anchor="start" fill="#000" font-weight="bold">E</text>
<line x1="359.2" y1="636.6" x2="359.2" y2="795.5" stroke="#1a1a1a" stroke-width="1"/>
<line x1="359.2" y1="795.5" x2="595.2" y2="795.5" stroke="#1a1a1a" stroke-width="1"/>
<line x1="355.2" y1="795.5" x2="359.2" y2="795.5" stroke="#1a1a1a" stroke-width="1"/>
<line x1="356.7" y1="769.2" x2="359.2" y2="769.2" stroke="#1a1a1a" stroke-width="1"/>
<line x1="355.2" y1="742.9" x2="359.2" y2="742.9" stroke="#1a1a1a" stroke-width="1"/>
<line x1="356.7" y1="716.6" x2="359.2" y2="716.6" stroke="#1a1a1a" stroke-width="1"/>
<line x1="355.2" y1="690.3" x2="359.2" y2="690.3" stroke="#1a1a1a" stroke-width="1"/>
<line x1="356.7" y1="664" x2="359.2" y2="664" stroke="#1a1a1a" stroke-width="1"/>
<line x1="355.2" y1="637.7" x2="359.2" y2="637.7" stroke="#1a1a1a" stroke-width="1"/>
<text x="343.5" y="637.5" font-size="12.5" text-anchor="end" fill="#1a1a1a">8.5</text>
<text x="343.5" y="690.5" font-size="12.5" text-anchor="end" fill="#1a1a1a">8.0</text>
<text x="343.5" y="742.9" font-size="12.5" text-anchor="end" fill="#1a1a1a">7.5</text>
<text x="343.5" y="794.7" font-size="12.5" text-anchor="end" fill="#1a1a1a">7.0</text>
<line x1="431.4" y1="795.5" x2="431.4" y2="799.5" stroke="#1a1a1a" stroke-width="1"/>
<text x="422.8" y="809.3" font-size="12.5" text-anchor="middle" fill="#1a1a1a">7</text>
<line x1="521.9" y1="795.5" x2="521.9" y2="799.5" stroke="#1a1a1a" stroke-width="1"/>
<text x="511.8" y="809.3" font-size="12.5" text-anchor="middle" fill="#1a1a1a">8</text>
<text x="464.6" y="828" font-size="12.5" text-anchor="middle" fill="#1a1a1a">pH</text>
<text x="320" y="717.8" font-size="12.3" text-anchor="middle" fill="#1a1a1a" transform="rotate(-90 320 717.8)">Chemical Shift (<tspan font-size="8" dy="-4">1</tspan><tspan dy="4">H)</tspan></text>
<polyline points="386.3,647.9 431.8,647.9 477.4,649.4 540.5,649.4 558.9,649.4" fill="none" stroke="#1a1a1a" stroke-width="0.9"/>
<rect x="382" y="643.6" width="8.6" height="8.6" fill="#1a1a1a"/>
<rect x="427.5" y="643.6" width="8.6" height="8.6" fill="#1a1a1a"/>
<rect x="473.1" y="645.1" width="8.6" height="8.6" fill="#1a1a1a"/>
<rect x="536.2" y="645.1" width="8.6" height="8.6" fill="#1a1a1a"/>
<rect x="554.6" y="645.1" width="8.6" height="8.6" fill="#1a1a1a"/>
<polyline points="386.3,670.2 431.8,670.2 477.4,670.2 540.5,670.2 558.9,669.8" fill="none" stroke="#1a1a1a" stroke-width="0.9"/>
<path d="M386.3 666L390.5 670.2L386.3 674.4L382.1 670.2Z" fill="#1a1a1a"/>
<path d="M431.8 666L436 670.2L431.8 674.4L427.6 670.2Z" fill="#1a1a1a"/>
<path d="M477.4 666L481.6 670.2L477.4 674.4L473.2 670.2Z" fill="#1a1a1a"/>
<path d="M540.5 666L544.7 670.2L540.5 674.4L536.3 670.2Z" fill="#1a1a1a"/>
<path d="M558.9 665.6L563.1 669.8L558.9 674L554.7 669.8Z" fill="#1a1a1a"/>
<polyline points="386.3,705.6 431.8,705.6 477.4,705.6 540.5,705.4 558.9,705.4" fill="none" stroke="#1a1a1a" stroke-width="0.9"/>
<rect x="382.5" y="701.8" width="7.6" height="7.6" fill="none" stroke="#1a1a1a" stroke-width="1"/>
<rect x="428" y="701.8" width="7.6" height="7.6" fill="none" stroke="#1a1a1a" stroke-width="1"/>
<rect x="473.6" y="701.8" width="7.6" height="7.6" fill="none" stroke="#1a1a1a" stroke-width="1"/>
<rect x="536.7" y="701.6" width="7.6" height="7.6" fill="none" stroke="#1a1a1a" stroke-width="1"/>
<rect x="555.1" y="701.6" width="7.6" height="7.6" fill="none" stroke="#1a1a1a" stroke-width="1"/>
<polyline points="386.3,724.4 431.8,724.4 477.4,725.2 540.5,725.2 558.9,725.2" fill="none" stroke="#1a1a1a" stroke-width="0.9"/>
<path d="M386.3 728L390.3 720.72L382.3 720.72Z" fill="none" stroke="#1a1a1a" stroke-width="1"/>
<path d="M431.8 728L435.8 720.72L427.8 720.72Z" fill="none" stroke="#1a1a1a" stroke-width="1"/>
<path d="M477.4 728.8L481.4 721.52L473.4 721.52Z" fill="none" stroke="#1a1a1a" stroke-width="1"/>
<path d="M540.5 728.8L544.5 721.52L536.5 721.52Z" fill="none" stroke="#1a1a1a" stroke-width="1"/>
<path d="M558.9 728.8L562.9 721.52L554.9 721.52Z" fill="none" stroke="#1a1a1a" stroke-width="1"/>
<polyline points="386.3,784.2 431.8,784.2 477.4,784.5 540.5,784.2 558.9,783.4" fill="none" stroke="#1a1a1a" stroke-width="0.9"/>
<path d="M386.3 780.6L390.3 787.88L382.3 787.88Z" fill="none" stroke="#1a1a1a" stroke-width="1" stroke-linejoin="miter"/>
<path d="M431.8 780.6L435.8 787.88L427.8 787.88Z" fill="none" stroke="#1a1a1a" stroke-width="1" stroke-linejoin="miter"/>
<path d="M477.4 780.9L481.4 788.18L473.4 788.18Z" fill="none" stroke="#1a1a1a" stroke-width="1" stroke-linejoin="miter"/>
<path d="M540.5 780.6L544.5 787.88L536.5 787.88Z" fill="none" stroke="#1a1a1a" stroke-width="1" stroke-linejoin="miter"/>
<path d="M558.9 779.8L562.9 787.08L554.9 787.08Z" fill="none" stroke="#1a1a1a" stroke-width="1" stroke-linejoin="miter"/>
<line x1="599.7" y1="670.6" x2="618.6" y2="670.6" stroke="#1a1a1a" stroke-width="0.9"/>
<rect x="604.7" y="666.3" width="8.6" height="8.6" fill="#1a1a1a"/>
<text x="627.1" y="675.2" font-size="13" text-anchor="start" fill="#1a1a1a">Q37</text>
<line x1="599.7" y1="689.2" x2="618.6" y2="689.2" stroke="#1a1a1a" stroke-width="0.9"/>
<path d="M609 685L613.2 689.2L609 693.4L604.8 689.2Z" fill="#1a1a1a"/>
<text x="627.1" y="693.8" font-size="13" text-anchor="start" fill="#1a1a1a">G48</text>
<line x1="599.7" y1="707.8" x2="618.6" y2="707.8" stroke="#1a1a1a" stroke-width="0.9"/>
<rect x="605.2" y="704" width="7.6" height="7.6" fill="none" stroke="#1a1a1a" stroke-width="1"/>
<text x="627.1" y="712.4" font-size="13" text-anchor="start" fill="#1a1a1a">T74</text>
<line x1="599.7" y1="725.6" x2="618.6" y2="725.6" stroke="#1a1a1a" stroke-width="0.9"/>
<path d="M609 729.2L613 721.92L605 721.92Z" fill="none" stroke="#1a1a1a" stroke-width="1"/>
<text x="627.1" y="730.2" font-size="13" text-anchor="start" fill="#1a1a1a">T148</text>
<line x1="599.7" y1="743" x2="618.6" y2="743" stroke="#1a1a1a" stroke-width="0.9"/>
<path d="M609 739.4L613 746.68L605 746.68Z" fill="none" stroke="#1a1a1a" stroke-width="1" stroke-linejoin="miter"/>
<text x="627.1" y="747.6" font-size="13" text-anchor="start" fill="#1a1a1a">G77</text>
</svg>
</body></html>
